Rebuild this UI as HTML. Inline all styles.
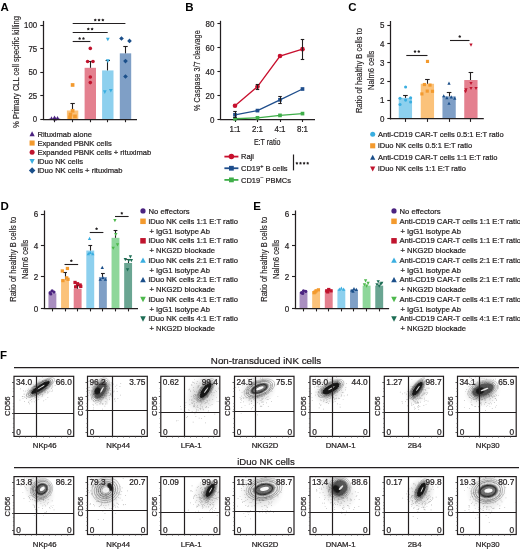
<!DOCTYPE html>
<html><head><meta charset="utf-8"><style>
html,body{margin:0;padding:0;background:#fff;overflow:hidden;}
svg{display:block;font-family:"Liberation Sans", sans-serif;will-change:transform;}
</style></head><body>
<svg width="520" height="550" viewBox="0 0 520 550">
<rect width="520" height="550" fill="#fff"/>
<text transform="translate(0.40 10.80)" font-size="11.5" text-anchor="start" font-weight="bold" fill="#000">A</text>
<rect x="48.80" y="118.45" width="11.40" height="0.75" fill="#a98ec0"/>
<rect x="66.90" y="110.48" width="11.40" height="8.72" fill="#fbc27a"/>
<rect x="84.60" y="67.80" width="11.40" height="51.40" fill="#e4808f"/>
<rect x="102.10" y="70.42" width="11.40" height="48.78" fill="#8dd0ee"/>
<rect x="119.80" y="53.35" width="11.40" height="65.85" fill="#7f9fc6"/>
<line x1="72.50" y1="110.48" x2="72.50" y2="103.72" stroke="#231f20" stroke-width="1.1"/>
<line x1="70.40" y1="103.50" x2="74.80" y2="103.50" stroke="#231f20" stroke-width="1.1"/>
<line x1="90.50" y1="67.80" x2="90.50" y2="61.51" stroke="#231f20" stroke-width="1.1"/>
<line x1="88.10" y1="61.50" x2="92.50" y2="61.50" stroke="#231f20" stroke-width="1.1"/>
<line x1="107.50" y1="70.42" x2="107.50" y2="60.11" stroke="#231f20" stroke-width="1.1"/>
<line x1="105.60" y1="60.50" x2="110.00" y2="60.50" stroke="#231f20" stroke-width="1.1"/>
<line x1="125.50" y1="53.35" x2="125.50" y2="46.04" stroke="#231f20" stroke-width="1.1"/>
<line x1="123.30" y1="46.50" x2="127.70" y2="46.50" stroke="#231f20" stroke-width="1.1"/>
<polygon points="51.50,116.37 49.61,119.97 53.39,119.97" fill="#4b2380"/>
<polygon points="54.50,115.43 52.61,119.03 56.39,119.03" fill="#4b2380"/>
<polygon points="57.50,115.90 55.61,119.50 59.39,119.50" fill="#4b2380"/>
<polygon points="55.00,116.84 53.11,120.44 56.89,120.44" fill="#4b2380"/>
<rect x="70.76" y="83.13" width="3.67" height="3.67" fill="#f39a2e"/>
<rect x="68.16" y="115.49" width="3.67" height="3.67" fill="#f39a2e"/>
<rect x="73.16" y="114.55" width="3.67" height="3.67" fill="#f39a2e"/>
<rect x="70.76" y="108.92" width="3.67" height="3.67" fill="#f39a2e"/>
<rect x="68.66" y="112.67" width="3.67" height="3.67" fill="#f39a2e"/>
<circle cx="90.30" cy="48.38" r="1.80" fill="#c0142e"/>
<circle cx="87.60" cy="61.51" r="1.80" fill="#c0142e"/>
<circle cx="93.00" cy="61.51" r="1.80" fill="#c0142e"/>
<circle cx="90.30" cy="76.99" r="1.80" fill="#c0142e"/>
<circle cx="90.30" cy="82.62" r="1.80" fill="#c0142e"/>
<polygon points="107.80,41.36 105.91,37.76 109.69,37.76" fill="#3aaee0"/>
<polygon points="107.80,62.93 105.91,59.33 109.69,59.33" fill="#3aaee0"/>
<polygon points="104.80,93.89 102.91,90.29 106.69,90.29" fill="#3aaee0"/>
<polygon points="110.80,92.48 108.91,88.88 112.69,88.88" fill="#3aaee0"/>
<polygon points="121.50,36.19 123.84,38.53 121.50,40.87 119.16,38.53" fill="#1b4f8a"/>
<polygon points="129.50,38.54 131.84,40.88 129.50,43.22 127.16,40.88" fill="#1b4f8a"/>
<polygon points="125.50,58.70 127.84,61.04 125.50,63.38 123.16,61.04" fill="#1b4f8a"/>
<polygon points="125.50,74.18 127.84,76.52 125.50,78.86 123.16,76.52" fill="#1b4f8a"/>
<line x1="43.50" y1="20.90" x2="43.50" y2="119.70" stroke="#231f20" stroke-width="1.25"/>
<line x1="43.00" y1="119.50" x2="137.00" y2="119.50" stroke="#231f20" stroke-width="1.25"/>
<line x1="40.30" y1="119.50" x2="43.60" y2="119.50" stroke="#231f20" stroke-width="1.1"/>
<text transform="translate(37.10 122.20) scale(0.9 1)" font-size="8.7" text-anchor="end" fill="#231f20" stroke="#231f20" stroke-width="0.22">0</text>
<line x1="40.30" y1="95.50" x2="43.60" y2="95.50" stroke="#231f20" stroke-width="1.1"/>
<text transform="translate(37.10 98.75) scale(0.9 1)" font-size="8.7" text-anchor="end" fill="#231f20" stroke="#231f20" stroke-width="0.22">25</text>
<line x1="40.30" y1="72.50" x2="43.60" y2="72.50" stroke="#231f20" stroke-width="1.1"/>
<text transform="translate(37.10 75.30) scale(0.9 1)" font-size="8.7" text-anchor="end" fill="#231f20" stroke="#231f20" stroke-width="0.22">50</text>
<line x1="40.30" y1="48.50" x2="43.60" y2="48.50" stroke="#231f20" stroke-width="1.1"/>
<text transform="translate(37.10 51.85) scale(0.9 1)" font-size="8.7" text-anchor="end" fill="#231f20" stroke="#231f20" stroke-width="0.22">75</text>
<line x1="40.30" y1="25.50" x2="43.60" y2="25.50" stroke="#231f20" stroke-width="1.1"/>
<text transform="translate(37.10 28.40) scale(0.9 1)" font-size="8.7" text-anchor="end" fill="#231f20" stroke="#231f20" stroke-width="0.22">100</text>
<line x1="54.50" y1="119.20" x2="54.50" y2="122.20" stroke="#231f20" stroke-width="1.1"/>
<line x1="72.50" y1="119.20" x2="72.50" y2="122.20" stroke="#231f20" stroke-width="1.1"/>
<line x1="90.50" y1="119.20" x2="90.50" y2="122.20" stroke="#231f20" stroke-width="1.1"/>
<line x1="107.50" y1="119.20" x2="107.50" y2="122.20" stroke="#231f20" stroke-width="1.1"/>
<line x1="125.50" y1="119.20" x2="125.50" y2="122.20" stroke="#231f20" stroke-width="1.1"/>
<line x1="72.70" y1="23.50" x2="125.40" y2="23.50" stroke="#231f20" stroke-width="1.1"/>
<polygon points="95.25,18.55 94.69,19.32 93.78,19.62 94.34,20.40 94.34,21.35 95.25,21.06 96.16,21.35 96.16,20.40 96.72,19.62 95.81,19.32" fill="#231f20"/>
<polygon points="99.05,18.55 98.49,19.32 97.58,19.62 98.14,20.40 98.14,21.35 99.05,21.06 99.96,21.35 99.96,20.40 100.52,19.62 99.61,19.32" fill="#231f20"/>
<polygon points="102.85,18.55 102.29,19.32 101.38,19.62 101.94,20.40 101.94,21.35 102.85,21.06 103.76,21.35 103.76,20.40 104.32,19.62 103.41,19.32" fill="#231f20"/>
<line x1="72.70" y1="32.50" x2="107.70" y2="32.50" stroke="#231f20" stroke-width="1.1"/>
<polygon points="88.30,27.55 87.74,28.32 86.83,28.62 87.39,29.40 87.39,30.35 88.30,30.06 89.21,30.35 89.21,29.40 89.77,28.62 88.86,28.32" fill="#231f20"/>
<polygon points="92.10,27.55 91.54,28.32 90.63,28.62 91.19,29.40 91.19,30.35 92.10,30.06 93.01,30.35 93.01,29.40 93.57,28.62 92.66,28.32" fill="#231f20"/>
<line x1="72.70" y1="41.50" x2="90.40" y2="41.50" stroke="#231f20" stroke-width="1.1"/>
<polygon points="79.65,36.95 79.09,37.72 78.18,38.02 78.74,38.80 78.74,39.75 79.65,39.46 80.56,39.75 80.56,38.80 81.12,38.02 80.21,37.72" fill="#231f20"/>
<polygon points="83.45,36.95 82.89,37.72 81.98,38.02 82.54,38.80 82.54,39.75 83.45,39.46 84.36,39.75 84.36,38.80 84.92,38.02 84.01,37.72" fill="#231f20"/>
<text transform="translate(18.60 127.90) rotate(-90)" font-size="9.5" text-anchor="start" fill="#231f20" stroke="#231f20" stroke-width="0.16" textLength="111.80" lengthAdjust="spacingAndGlyphs">% Primary CLL cell specific killing</text>
<polygon points="32.10,131.28 29.48,136.28 34.73,136.28" fill="#4b2380"/>
<text transform="translate(37.40 136.50)" font-size="7.6" text-anchor="start" fill="#231f20" stroke="#231f20" stroke-width="0.22">Rituximab alone</text>
<rect x="29.55" y="140.50" width="5.10" height="5.10" fill="#f39a2e"/>
<text transform="translate(37.40 145.65)" font-size="7.6" text-anchor="start" fill="#231f20" stroke="#231f20" stroke-width="0.22">Expanded PBNK cells</text>
<circle cx="32.10" cy="152.20" r="2.50" fill="#c0142e"/>
<text transform="translate(37.40 154.80)" font-size="7.6" text-anchor="start" fill="#231f20" stroke="#231f20" stroke-width="0.22">Expanded PBNK cells + rituximab</text>
<polygon points="32.10,163.98 29.48,158.98 34.73,158.98" fill="#3aaee0"/>
<text transform="translate(37.40 163.95)" font-size="7.6" text-anchor="start" fill="#231f20" stroke="#231f20" stroke-width="0.22">iDuo NK cells</text>
<polygon points="32.10,167.25 35.35,170.50 32.10,173.75 28.85,170.50" fill="#1b4f8a"/>
<text transform="translate(37.40 173.10)" font-size="7.6" text-anchor="start" fill="#231f20" stroke="#231f20" stroke-width="0.22">iDuo NK cells + rituximab</text>
<text transform="translate(185.30 10.80)" font-size="11.5" text-anchor="start" font-weight="bold" fill="#000">B</text>
<line x1="220.50" y1="20.80" x2="220.50" y2="119.50" stroke="#231f20" stroke-width="1.25"/>
<line x1="220.10" y1="119.50" x2="315.00" y2="119.50" stroke="#231f20" stroke-width="1.25"/>
<line x1="217.40" y1="119.50" x2="220.70" y2="119.50" stroke="#231f20" stroke-width="1.1"/>
<text transform="translate(214.40 122.70) scale(0.93 1)" font-size="8.6" text-anchor="end" fill="#231f20" stroke="#231f20" stroke-width="0.22">0</text>
<line x1="217.40" y1="95.50" x2="220.70" y2="95.50" stroke="#231f20" stroke-width="1.1"/>
<text transform="translate(214.40 98.70) scale(0.93 1)" font-size="8.6" text-anchor="end" fill="#231f20" stroke="#231f20" stroke-width="0.22">20</text>
<line x1="217.40" y1="71.50" x2="220.70" y2="71.50" stroke="#231f20" stroke-width="1.1"/>
<text transform="translate(214.40 74.70) scale(0.93 1)" font-size="8.6" text-anchor="end" fill="#231f20" stroke="#231f20" stroke-width="0.22">40</text>
<line x1="217.40" y1="47.50" x2="220.70" y2="47.50" stroke="#231f20" stroke-width="1.1"/>
<text transform="translate(214.40 50.70) scale(0.93 1)" font-size="8.6" text-anchor="end" fill="#231f20" stroke="#231f20" stroke-width="0.22">60</text>
<line x1="217.40" y1="23.50" x2="220.70" y2="23.50" stroke="#231f20" stroke-width="1.1"/>
<text transform="translate(214.40 26.70) scale(0.93 1)" font-size="8.6" text-anchor="end" fill="#231f20" stroke="#231f20" stroke-width="0.22">80</text>
<line x1="235.50" y1="119.00" x2="235.50" y2="122.00" stroke="#231f20" stroke-width="1.1"/>
<text transform="translate(235.00 131.90) scale(0.97 1)" font-size="8.2" text-anchor="middle" fill="#231f20" stroke="#231f20" stroke-width="0.22">1:1</text>
<line x1="257.50" y1="119.00" x2="257.50" y2="122.00" stroke="#231f20" stroke-width="1.1"/>
<text transform="translate(257.50 131.90) scale(0.97 1)" font-size="8.2" text-anchor="middle" fill="#231f20" stroke="#231f20" stroke-width="0.22">2:1</text>
<line x1="280.50" y1="119.00" x2="280.50" y2="122.00" stroke="#231f20" stroke-width="1.1"/>
<text transform="translate(280.00 131.90) scale(0.97 1)" font-size="8.2" text-anchor="middle" fill="#231f20" stroke="#231f20" stroke-width="0.22">4:1</text>
<line x1="302.50" y1="119.00" x2="302.50" y2="122.00" stroke="#231f20" stroke-width="1.1"/>
<text transform="translate(302.50 131.90) scale(0.97 1)" font-size="8.2" text-anchor="middle" fill="#231f20" stroke="#231f20" stroke-width="0.22">8:1</text>
<text transform="translate(267.20 144.50)" font-size="9.3" text-anchor="middle" fill="#231f20" stroke="#231f20" stroke-width="0.22" textLength="26.60" lengthAdjust="spacingAndGlyphs">E:T ratio</text>
<text transform="translate(200.10 110.90) rotate(-90)" font-size="9.5" text-anchor="start" fill="#231f20" stroke="#231f20" stroke-width="0.16" textLength="80.60" lengthAdjust="spacingAndGlyphs">% Caspase 3/7 cleavage</text>
<polyline points="235,105.80 257.5,86.60 280,56.00 302.5,49.16" fill="none" stroke="#c8102e" stroke-width="1.35"/>
<polyline points="235,114.80 257.5,110.60 280,99.80 302.5,89.00" fill="none" stroke="#1f4e8c" stroke-width="1.35"/>
<polyline points="235,118.76 257.5,117.80 280,115.40 302.5,113.60" fill="none" stroke="#3fae49" stroke-width="1.35"/>
<circle cx="235.00" cy="105.80" r="2.30" fill="#c8102e"/>
<circle cx="257.50" cy="86.60" r="2.30" fill="#c8102e"/>
<circle cx="280.00" cy="56.00" r="2.30" fill="#c8102e"/>
<circle cx="302.50" cy="49.16" r="2.30" fill="#c8102e"/>
<rect x="233.16" y="112.96" width="3.67" height="3.67" fill="#1f4e8c"/>
<rect x="255.66" y="108.76" width="3.67" height="3.67" fill="#1f4e8c"/>
<rect x="278.16" y="97.96" width="3.67" height="3.67" fill="#1f4e8c"/>
<rect x="300.66" y="87.16" width="3.67" height="3.67" fill="#1f4e8c"/>
<rect x="233.16" y="116.92" width="3.67" height="3.67" fill="#3fae49"/>
<rect x="255.66" y="115.96" width="3.67" height="3.67" fill="#3fae49"/>
<rect x="278.16" y="113.56" width="3.67" height="3.67" fill="#3fae49"/>
<rect x="300.66" y="111.76" width="3.67" height="3.67" fill="#3fae49"/>
<line x1="257.50" y1="84.20" x2="257.50" y2="89.00" stroke="#231f20" stroke-width="1.1"/>
<line x1="255.75" y1="84.50" x2="259.25" y2="84.50" stroke="#231f20" stroke-width="1.1"/>
<line x1="255.75" y1="89.50" x2="259.25" y2="89.50" stroke="#231f20" stroke-width="1.1"/>
<line x1="302.50" y1="39.32" x2="302.50" y2="59.72" stroke="#231f20" stroke-width="1.1"/>
<line x1="300.75" y1="39.50" x2="304.25" y2="39.50" stroke="#231f20" stroke-width="1.1"/>
<line x1="300.75" y1="59.50" x2="304.25" y2="59.50" stroke="#231f20" stroke-width="1.1"/>
<line x1="280.50" y1="96.20" x2="280.50" y2="103.40" stroke="#231f20" stroke-width="1.1"/>
<line x1="278.25" y1="96.50" x2="281.75" y2="96.50" stroke="#231f20" stroke-width="1.1"/>
<line x1="278.25" y1="103.50" x2="281.75" y2="103.50" stroke="#231f20" stroke-width="1.1"/>
<line x1="235.50" y1="111.80" x2="235.50" y2="117.80" stroke="#231f20" stroke-width="1.1"/>
<line x1="233.25" y1="111.50" x2="236.75" y2="111.50" stroke="#231f20" stroke-width="1.1"/>
<line x1="233.25" y1="117.50" x2="236.75" y2="117.50" stroke="#231f20" stroke-width="1.1"/>
<line x1="224.40" y1="156.60" x2="238.40" y2="156.60" stroke="#c8102e" stroke-width="1.8"/>
<circle cx="231.40" cy="156.60" r="2.75" fill="#c8102e"/>
<text transform="translate(241.00 159.30)" font-size="7.5" text-anchor="start" fill="#231f20" stroke="#231f20" stroke-width="0.22">Raji</text>
<line x1="224.40" y1="168.25" x2="238.40" y2="168.25" stroke="#1f4e8c" stroke-width="1.8"/>
<rect x="229.00" y="165.85" width="4.79" height="4.79" fill="#1f4e8c"/>
<text transform="translate(241.00 170.95)" font-size="7.5" text-anchor="start" fill="#231f20" stroke="#231f20" stroke-width="0.22">CD19<tspan font-size="5.5" dy="-3.2">+</tspan><tspan dy="3.2"> B cells</tspan></text>
<line x1="224.40" y1="179.90" x2="238.40" y2="179.90" stroke="#3fae49" stroke-width="1.8"/>
<rect x="229.00" y="177.50" width="4.79" height="4.79" fill="#3fae49"/>
<text transform="translate(241.00 182.60)" font-size="7.5" text-anchor="start" fill="#231f20" stroke="#231f20" stroke-width="0.22">CD19<tspan font-size="5.5" dy="-3.2">−</tspan><tspan dy="3.2"> PBMCs</tspan></text>
<line x1="293.50" y1="154.50" x2="293.50" y2="170.40" stroke="#231f20" stroke-width="1.2"/>
<polygon points="296.90,161.65 296.34,162.42 295.43,162.72 295.99,163.50 295.99,164.45 296.90,164.16 297.81,164.45 297.81,163.50 298.37,162.72 297.46,162.42" fill="#231f20"/>
<polygon points="300.50,161.65 299.94,162.42 299.03,162.72 299.59,163.50 299.59,164.45 300.50,164.16 301.41,164.45 301.41,163.50 301.97,162.72 301.06,162.42" fill="#231f20"/>
<polygon points="304.10,161.65 303.54,162.42 302.63,162.72 303.19,163.50 303.19,164.45 304.10,164.16 305.01,164.45 305.01,163.50 305.57,162.72 304.66,162.42" fill="#231f20"/>
<polygon points="307.70,161.65 307.14,162.42 306.23,162.72 306.79,163.50 306.79,164.45 307.70,164.16 308.61,164.45 308.61,163.50 309.17,162.72 308.26,162.42" fill="#231f20"/>
<text transform="translate(348.30 10.80)" font-size="11.5" text-anchor="start" font-weight="bold" fill="#000">C</text>
<rect x="398.75" y="97.87" width="13.30" height="21.03" fill="#8dd0ee"/>
<rect x="420.75" y="83.78" width="13.30" height="35.12" fill="#fbc27a"/>
<rect x="442.45" y="96.36" width="13.30" height="22.54" fill="#7f9fc6"/>
<rect x="464.25" y="80.03" width="13.30" height="38.87" fill="#e4808f"/>
<line x1="405.50" y1="97.87" x2="405.50" y2="95.80" stroke="#231f20" stroke-width="1.1"/>
<line x1="403.10" y1="95.50" x2="407.70" y2="95.50" stroke="#231f20" stroke-width="1.1"/>
<line x1="427.50" y1="83.78" x2="427.50" y2="79.46" stroke="#231f20" stroke-width="1.1"/>
<line x1="425.10" y1="79.50" x2="429.70" y2="79.50" stroke="#231f20" stroke-width="1.1"/>
<line x1="449.50" y1="96.36" x2="449.50" y2="92.61" stroke="#231f20" stroke-width="1.1"/>
<line x1="446.80" y1="92.50" x2="451.40" y2="92.50" stroke="#231f20" stroke-width="1.1"/>
<line x1="470.50" y1="80.03" x2="470.50" y2="72.89" stroke="#231f20" stroke-width="1.1"/>
<line x1="468.60" y1="72.50" x2="473.20" y2="72.50" stroke="#231f20" stroke-width="1.1"/>
<circle cx="405.60" cy="86.97" r="1.55" fill="#3aaee0"/>
<circle cx="400.00" cy="98.24" r="1.55" fill="#3aaee0"/>
<circle cx="410.60" cy="97.68" r="1.55" fill="#3aaee0"/>
<circle cx="410.60" cy="102.00" r="1.55" fill="#3aaee0"/>
<circle cx="400.00" cy="104.44" r="1.55" fill="#3aaee0"/>
<circle cx="405.60" cy="100.12" r="1.55" fill="#3aaee0"/>
<rect x="425.92" y="59.85" width="3.16" height="3.16" fill="#f39a2e"/>
<rect x="422.82" y="82.95" width="3.16" height="3.16" fill="#f39a2e"/>
<rect x="428.42" y="83.52" width="3.16" height="3.16" fill="#f39a2e"/>
<rect x="420.32" y="92.34" width="3.16" height="3.16" fill="#f39a2e"/>
<rect x="425.67" y="89.52" width="3.16" height="3.16" fill="#f39a2e"/>
<rect x="430.92" y="89.71" width="3.16" height="3.16" fill="#f39a2e"/>
<polygon points="449.00,81.59 447.37,84.69 450.63,84.69" fill="#1b4f8a"/>
<polygon points="443.75,94.17 442.12,97.27 445.38,97.27" fill="#1b4f8a"/>
<polygon points="446.90,96.05 445.27,99.15 448.53,99.15" fill="#1b4f8a"/>
<polygon points="451.25,95.30 449.62,98.40 452.88,98.40" fill="#1b4f8a"/>
<polygon points="454.75,96.61 453.12,99.71 456.38,99.71" fill="#1b4f8a"/>
<polygon points="449.00,101.69 447.37,104.79 450.63,104.79" fill="#1b4f8a"/>
<polygon points="471.00,46.72 469.37,43.62 472.63,43.62" fill="#c0142e"/>
<polygon points="471.00,85.03 469.37,81.93 472.63,81.93" fill="#c0142e"/>
<polygon points="466.00,91.42 464.37,88.32 467.63,88.32" fill="#c0142e"/>
<polygon points="471.00,90.10 469.37,87.00 472.63,87.00" fill="#c0142e"/>
<polygon points="476.00,90.10 474.37,87.00 477.63,87.00" fill="#c0142e"/>
<polygon points="465.50,93.30 463.87,90.20 467.13,90.20" fill="#c0142e"/>
<line x1="390.50" y1="21.00" x2="390.50" y2="119.40" stroke="#231f20" stroke-width="1.25"/>
<line x1="390.00" y1="118.50" x2="483.80" y2="118.50" stroke="#231f20" stroke-width="1.25"/>
<line x1="387.30" y1="118.50" x2="390.60" y2="118.50" stroke="#231f20" stroke-width="1.1"/>
<text transform="translate(384.40 121.90) scale(0.95 1)" font-size="8.4" text-anchor="end" fill="#231f20" stroke="#231f20" stroke-width="0.22">0</text>
<line x1="387.30" y1="100.50" x2="390.60" y2="100.50" stroke="#231f20" stroke-width="1.1"/>
<text transform="translate(384.40 103.12) scale(0.95 1)" font-size="8.4" text-anchor="end" fill="#231f20" stroke="#231f20" stroke-width="0.22">1</text>
<line x1="387.30" y1="81.50" x2="390.60" y2="81.50" stroke="#231f20" stroke-width="1.1"/>
<text transform="translate(384.40 84.34) scale(0.95 1)" font-size="8.4" text-anchor="end" fill="#231f20" stroke="#231f20" stroke-width="0.22">2</text>
<line x1="387.30" y1="62.50" x2="390.60" y2="62.50" stroke="#231f20" stroke-width="1.1"/>
<text transform="translate(384.40 65.56) scale(0.95 1)" font-size="8.4" text-anchor="end" fill="#231f20" stroke="#231f20" stroke-width="0.22">3</text>
<line x1="387.30" y1="43.50" x2="390.60" y2="43.50" stroke="#231f20" stroke-width="1.1"/>
<text transform="translate(384.40 46.78) scale(0.95 1)" font-size="8.4" text-anchor="end" fill="#231f20" stroke="#231f20" stroke-width="0.22">4</text>
<line x1="387.30" y1="25.50" x2="390.60" y2="25.50" stroke="#231f20" stroke-width="1.1"/>
<text transform="translate(384.40 28.00) scale(0.95 1)" font-size="8.4" text-anchor="end" fill="#231f20" stroke="#231f20" stroke-width="0.22">5</text>
<line x1="405.50" y1="118.90" x2="405.50" y2="121.90" stroke="#231f20" stroke-width="1.1"/>
<line x1="427.50" y1="118.90" x2="427.50" y2="121.90" stroke="#231f20" stroke-width="1.1"/>
<line x1="449.50" y1="118.90" x2="449.50" y2="121.90" stroke="#231f20" stroke-width="1.1"/>
<line x1="470.50" y1="118.90" x2="470.50" y2="121.90" stroke="#231f20" stroke-width="1.1"/>
<line x1="406.30" y1="55.50" x2="427.50" y2="55.50" stroke="#231f20" stroke-width="1.1"/>
<polygon points="415.00,50.05 414.44,50.82 413.53,51.12 414.09,51.90 414.09,52.85 415.00,52.56 415.91,52.85 415.91,51.90 416.47,51.12 415.56,50.82" fill="#231f20"/>
<polygon points="418.80,50.05 418.24,50.82 417.33,51.12 417.89,51.90 417.89,52.85 418.80,52.56 419.71,52.85 419.71,51.90 420.27,51.12 419.36,50.82" fill="#231f20"/>
<line x1="450.00" y1="40.50" x2="469.50" y2="40.50" stroke="#231f20" stroke-width="1.1"/>
<polygon points="459.75,35.05 459.19,35.82 458.28,36.12 458.84,36.90 458.84,37.85 459.75,37.56 460.66,37.85 460.66,36.90 461.22,36.12 460.31,35.82" fill="#231f20"/>
<text transform="translate(361.60 70.60) rotate(-90)" font-size="9.5" text-anchor="middle" fill="#231f20" stroke="#231f20" stroke-width="0.16" textLength="85.00" lengthAdjust="spacingAndGlyphs">Ratio of healthy B cells to</text>
<text transform="translate(373.90 70.30) rotate(-90)" font-size="9.5" text-anchor="middle" fill="#231f20" stroke="#231f20" stroke-width="0.16" textLength="39.40" lengthAdjust="spacingAndGlyphs">Nalm6 cells</text>
<circle cx="372.70" cy="134.30" r="2.50" fill="#3aaee0"/>
<text transform="translate(378.10 136.90)" font-size="7.5" text-anchor="start" fill="#231f20" stroke="#231f20" stroke-width="0.22">Anti-CD19 CAR-T cells 0.5:1 E:T ratio</text>
<rect x="370.15" y="143.25" width="5.10" height="5.10" fill="#f39a2e"/>
<text transform="translate(378.10 148.40)" font-size="7.5" text-anchor="start" fill="#231f20" stroke="#231f20" stroke-width="0.22">iDuo NK cells 0.5:1 E:T ratio</text>
<polygon points="372.70,154.68 370.07,159.68 375.32,159.68" fill="#1b4f8a"/>
<text transform="translate(378.10 159.90)" font-size="7.5" text-anchor="start" fill="#231f20" stroke="#231f20" stroke-width="0.22">Anti-CD19 CAR-T cells 1:1 E:T ratio</text>
<polygon points="372.70,171.43 370.07,166.43 375.32,166.43" fill="#c0142e"/>
<text transform="translate(378.10 171.40)" font-size="7.5" text-anchor="start" fill="#231f20" stroke="#231f20" stroke-width="0.22">iDuo NK cells 1:1 E:T ratio</text>
<text transform="translate(0.60 210.00)" font-size="11.5" text-anchor="start" font-weight="bold" fill="#000">D</text>
<rect x="48.45" y="293.31" width="7.90" height="15.09" fill="#a98ec0"/>
<rect x="61.07" y="279.32" width="7.90" height="29.08" fill="#fbc27a"/>
<rect x="73.69" y="288.75" width="7.90" height="19.65" fill="#e4808f"/>
<rect x="86.31" y="250.55" width="7.90" height="57.85" fill="#8dd0ee"/>
<rect x="98.93" y="276.96" width="7.90" height="31.44" fill="#7f9fc6"/>
<rect x="111.55" y="237.82" width="7.90" height="70.58" fill="#8ed79a"/>
<rect x="124.17" y="262.97" width="7.90" height="45.43" fill="#6aa592"/>
<line x1="65.50" y1="279.32" x2="65.50" y2="272.24" stroke="#231f20" stroke-width="1.1"/>
<line x1="63.12" y1="272.50" x2="66.92" y2="272.50" stroke="#231f20" stroke-width="1.1"/>
<line x1="77.50" y1="288.75" x2="77.50" y2="285.61" stroke="#231f20" stroke-width="1.1"/>
<line x1="75.74" y1="285.50" x2="79.54" y2="285.50" stroke="#231f20" stroke-width="1.1"/>
<line x1="90.50" y1="250.55" x2="90.50" y2="245.99" stroke="#231f20" stroke-width="1.1"/>
<line x1="88.36" y1="245.50" x2="92.16" y2="245.50" stroke="#231f20" stroke-width="1.1"/>
<line x1="102.50" y1="276.96" x2="102.50" y2="273.34" stroke="#231f20" stroke-width="1.1"/>
<line x1="100.98" y1="273.50" x2="104.78" y2="273.50" stroke="#231f20" stroke-width="1.1"/>
<line x1="115.50" y1="237.82" x2="115.50" y2="230.90" stroke="#231f20" stroke-width="1.1"/>
<line x1="113.60" y1="230.50" x2="117.40" y2="230.50" stroke="#231f20" stroke-width="1.1"/>
<line x1="128.50" y1="262.97" x2="128.50" y2="259.98" stroke="#231f20" stroke-width="1.1"/>
<line x1="126.22" y1="259.50" x2="130.02" y2="259.50" stroke="#231f20" stroke-width="1.1"/>
<circle cx="50.10" cy="292.68" r="1.60" fill="#4b2380"/>
<circle cx="52.10" cy="290.79" r="1.60" fill="#4b2380"/>
<circle cx="54.00" cy="292.05" r="1.60" fill="#4b2380"/>
<circle cx="50.80" cy="293.94" r="1.60" fill="#4b2380"/>
<rect x="60.69" y="269.35" width="3.26" height="3.26" fill="#f39a2e"/>
<rect x="65.79" y="266.84" width="3.26" height="3.26" fill="#f39a2e"/>
<rect x="61.29" y="278.94" width="3.26" height="3.26" fill="#f39a2e"/>
<rect x="65.09" y="276.27" width="3.26" height="3.26" fill="#f39a2e"/>
<rect x="66.39" y="277.69" width="3.26" height="3.26" fill="#f39a2e"/>
<rect x="73.41" y="280.83" width="3.26" height="3.26" fill="#c0142e"/>
<rect x="75.91" y="282.09" width="3.26" height="3.26" fill="#c0142e"/>
<rect x="78.51" y="283.35" width="3.26" height="3.26" fill="#c0142e"/>
<rect x="74.01" y="285.23" width="3.26" height="3.26" fill="#c0142e"/>
<rect x="79.11" y="284.76" width="3.26" height="3.26" fill="#c0142e"/>
<polygon points="89.56,236.77 87.88,239.97 91.24,239.97" fill="#3aaee0"/>
<polygon points="88.36,252.01 86.68,255.21 90.04,255.21" fill="#3aaee0"/>
<polygon points="92.76,252.01 91.08,255.21 94.44,255.21" fill="#3aaee0"/>
<polygon points="90.26,250.76 88.58,253.96 91.94,253.96" fill="#3aaee0"/>
<polygon points="102.28,265.69 100.60,268.89 103.96,268.89" fill="#1b4f8a"/>
<polygon points="100.28,277.64 98.60,280.84 101.96,280.84" fill="#1b4f8a"/>
<polygon points="102.88,275.91 101.20,279.11 104.56,279.11" fill="#1b4f8a"/>
<polygon points="105.38,277.64 103.70,280.84 107.06,280.84" fill="#1b4f8a"/>
<polygon points="114.90,222.21 113.22,219.01 116.58,219.01" fill="#4db84c"/>
<polygon points="113.20,249.87 111.52,246.67 114.88,246.67" fill="#4db84c"/>
<polygon points="117.50,246.57 115.82,243.37 119.18,243.37" fill="#4db84c"/>
<polygon points="115.80,236.20 114.12,233.00 117.48,233.00" fill="#4db84c"/>
<polygon points="130.42,258.52 128.74,255.32 132.10,255.32" fill="#1e6e55"/>
<polygon points="125.32,261.19 123.64,257.99 127.00,257.99" fill="#1e6e55"/>
<polygon points="128.72,262.13 127.04,258.93 130.40,258.93" fill="#1e6e55"/>
<polygon points="131.32,262.13 129.64,258.93 133.00,258.93" fill="#1e6e55"/>
<polygon points="127.52,271.57 125.84,268.37 129.20,268.37" fill="#1e6e55"/>
<line x1="44.50" y1="210.50" x2="44.50" y2="308.90" stroke="#231f20" stroke-width="1.25"/>
<line x1="43.60" y1="308.50" x2="138.00" y2="308.50" stroke="#231f20" stroke-width="1.25"/>
<line x1="40.90" y1="308.50" x2="44.20" y2="308.50" stroke="#231f20" stroke-width="1.1"/>
<text transform="translate(38.20 311.75) scale(0.93 1)" font-size="8.7" text-anchor="end" fill="#231f20" stroke="#231f20" stroke-width="0.22">0</text>
<line x1="40.90" y1="276.50" x2="44.20" y2="276.50" stroke="#231f20" stroke-width="1.1"/>
<text transform="translate(38.20 280.31) scale(0.93 1)" font-size="8.7" text-anchor="end" fill="#231f20" stroke="#231f20" stroke-width="0.22">2</text>
<line x1="40.90" y1="245.50" x2="44.20" y2="245.50" stroke="#231f20" stroke-width="1.1"/>
<text transform="translate(38.20 248.87) scale(0.93 1)" font-size="8.7" text-anchor="end" fill="#231f20" stroke="#231f20" stroke-width="0.22">4</text>
<line x1="40.90" y1="214.50" x2="44.20" y2="214.50" stroke="#231f20" stroke-width="1.1"/>
<text transform="translate(38.20 217.43) scale(0.93 1)" font-size="8.7" text-anchor="end" fill="#231f20" stroke="#231f20" stroke-width="0.22">6</text>
<line x1="52.50" y1="308.40" x2="52.50" y2="311.40" stroke="#231f20" stroke-width="1.1"/>
<line x1="65.50" y1="308.40" x2="65.50" y2="311.40" stroke="#231f20" stroke-width="1.1"/>
<line x1="77.50" y1="308.40" x2="77.50" y2="311.40" stroke="#231f20" stroke-width="1.1"/>
<line x1="90.50" y1="308.40" x2="90.50" y2="311.40" stroke="#231f20" stroke-width="1.1"/>
<line x1="102.50" y1="308.40" x2="102.50" y2="311.40" stroke="#231f20" stroke-width="1.1"/>
<line x1="115.50" y1="308.40" x2="115.50" y2="311.40" stroke="#231f20" stroke-width="1.1"/>
<line x1="128.50" y1="308.40" x2="128.50" y2="311.40" stroke="#231f20" stroke-width="1.1"/>
<line x1="64.52" y1="264.50" x2="78.14" y2="264.50" stroke="#231f20" stroke-width="1.1"/>
<polygon points="71.33,259.15 70.77,259.92 69.86,260.22 70.42,261.00 70.42,261.95 71.33,261.66 72.24,261.95 72.24,261.00 72.80,260.22 71.89,259.92" fill="#231f20"/>
<line x1="89.76" y1="232.50" x2="103.38" y2="232.50" stroke="#231f20" stroke-width="1.1"/>
<polygon points="96.57,227.25 96.01,228.02 95.10,228.32 95.66,229.10 95.66,230.05 96.57,229.76 97.48,230.05 97.48,229.10 98.04,228.32 97.13,228.02" fill="#231f20"/>
<line x1="115.00" y1="216.50" x2="128.62" y2="216.50" stroke="#231f20" stroke-width="1.1"/>
<polygon points="121.81,211.75 121.25,212.52 120.34,212.82 120.90,213.60 120.90,214.55 121.81,214.26 122.72,214.55 122.72,213.60 123.28,212.82 122.37,212.52" fill="#231f20"/>
<text transform="translate(16.20 259.30) rotate(-90)" font-size="9.5" text-anchor="middle" fill="#231f20" stroke="#231f20" stroke-width="0.16" textLength="85.00" lengthAdjust="spacingAndGlyphs">Ratio of healthy B cells to</text>
<text transform="translate(27.90 259.30) rotate(-90)" font-size="9.5" text-anchor="middle" fill="#231f20" stroke="#231f20" stroke-width="0.16" textLength="39.40" lengthAdjust="spacingAndGlyphs">Nalm6 cells</text>
<circle cx="143.00" cy="210.90" r="2.60" fill="#4b2380"/>
<text transform="translate(148.50 213.50)" font-size="7.65" text-anchor="start" fill="#231f20" stroke="#231f20" stroke-width="0.22">No effectors</text>
<rect x="140.25" y="218.55" width="5.51" height="5.51" fill="#f39a2e"/>
<text transform="translate(148.50 223.90)" font-size="7.65" text-anchor="start" fill="#231f20" stroke="#231f20" stroke-width="0.22">iDuo NK cells 1:1 E:T ratio</text>
<text transform="translate(149.40 233.65)" font-size="7.65" text-anchor="start" fill="#231f20" stroke="#231f20" stroke-width="0.22">+ IgG1 isotype Ab</text>
<rect x="140.25" y="238.05" width="5.51" height="5.51" fill="#c0142e"/>
<text transform="translate(148.50 243.40)" font-size="7.65" text-anchor="start" fill="#231f20" stroke="#231f20" stroke-width="0.22">iDuo NK cells 1:1 E:T ratio</text>
<text transform="translate(149.40 253.15)" font-size="7.65" text-anchor="start" fill="#231f20" stroke="#231f20" stroke-width="0.22">+ NKG2D blockade</text>
<polygon points="143.00,257.46 140.16,262.86 145.84,262.86" fill="#3aaee0"/>
<text transform="translate(148.50 262.90)" font-size="7.65" text-anchor="start" fill="#231f20" stroke="#231f20" stroke-width="0.22">iDuo NK cells 2:1 E:T ratio</text>
<text transform="translate(149.40 272.65)" font-size="7.65" text-anchor="start" fill="#231f20" stroke="#231f20" stroke-width="0.22">+ IgG1 isotype Ab</text>
<polygon points="143.00,276.96 140.16,282.36 145.84,282.36" fill="#1b4f8a"/>
<text transform="translate(148.50 282.40)" font-size="7.65" text-anchor="start" fill="#231f20" stroke="#231f20" stroke-width="0.22">iDuo NK cells 2:1 E:T ratio</text>
<text transform="translate(149.40 292.15)" font-size="7.65" text-anchor="start" fill="#231f20" stroke="#231f20" stroke-width="0.22">+ NKG2D blockade</text>
<polygon points="143.00,302.13 140.16,296.73 145.84,296.73" fill="#4db84c"/>
<text transform="translate(148.50 301.90)" font-size="7.65" text-anchor="start" fill="#231f20" stroke="#231f20" stroke-width="0.22">iDuo NK cells 4:1 E:T ratio</text>
<text transform="translate(149.40 311.65)" font-size="7.65" text-anchor="start" fill="#231f20" stroke="#231f20" stroke-width="0.22">+ IgG1 isotype Ab</text>
<polygon points="143.00,321.63 140.16,316.23 145.84,316.23" fill="#1e6e55"/>
<text transform="translate(148.50 321.40)" font-size="7.65" text-anchor="start" fill="#231f20" stroke="#231f20" stroke-width="0.22">iDuo NK cells 4:1 E:T ratio</text>
<text transform="translate(149.40 331.15)" font-size="7.65" text-anchor="start" fill="#231f20" stroke="#231f20" stroke-width="0.22">+ NKG2D blockade</text>
<text transform="translate(253.30 210.00)" font-size="11.5" text-anchor="start" font-weight="bold" fill="#000">E</text>
<rect x="299.55" y="292.21" width="7.90" height="16.19" fill="#a98ec0"/>
<rect x="312.17" y="291.11" width="7.90" height="17.29" fill="#fbc27a"/>
<rect x="324.79" y="290.32" width="7.90" height="18.08" fill="#e4808f"/>
<rect x="337.41" y="289.54" width="7.90" height="18.86" fill="#8dd0ee"/>
<rect x="350.03" y="289.54" width="7.90" height="18.86" fill="#7f9fc6"/>
<rect x="362.65" y="285.61" width="7.90" height="22.79" fill="#8ed79a"/>
<rect x="375.27" y="285.61" width="7.90" height="22.79" fill="#6aa592"/>
<circle cx="301.50" cy="292.68" r="1.60" fill="#4b2380"/>
<circle cx="303.50" cy="290.79" r="1.60" fill="#4b2380"/>
<circle cx="305.80" cy="291.42" r="1.60" fill="#4b2380"/>
<circle cx="302.70" cy="293.47" r="1.60" fill="#4b2380"/>
<rect x="312.49" y="291.05" width="3.26" height="3.26" fill="#f39a2e"/>
<rect x="314.49" y="289.16" width="3.26" height="3.26" fill="#f39a2e"/>
<rect x="316.79" y="288.22" width="3.26" height="3.26" fill="#f39a2e"/>
<rect x="313.49" y="290.26" width="3.26" height="3.26" fill="#f39a2e"/>
<rect x="325.11" y="289.16" width="3.26" height="3.26" fill="#c0142e"/>
<rect x="327.11" y="287.90" width="3.26" height="3.26" fill="#c0142e"/>
<rect x="329.41" y="289.16" width="3.26" height="3.26" fill="#c0142e"/>
<rect x="326.11" y="290.26" width="3.26" height="3.26" fill="#c0142e"/>
<polygon points="339.36,287.54 337.68,290.74 341.04,290.74" fill="#3aaee0"/>
<polygon points="341.36,286.60 339.68,289.80 343.04,289.80" fill="#3aaee0"/>
<polygon points="343.66,287.54 341.98,290.74 345.34,290.74" fill="#3aaee0"/>
<polygon points="351.98,288.64 350.30,291.84 353.66,291.84" fill="#1b4f8a"/>
<polygon points="353.98,287.07 352.30,290.27 355.66,290.27" fill="#1b4f8a"/>
<polygon points="356.28,287.86 354.60,291.06 357.96,291.06" fill="#1b4f8a"/>
<polygon points="352.98,289.43 351.30,292.63 354.66,292.63" fill="#1b4f8a"/>
<polygon points="364.40,286.50 362.72,283.30 366.08,283.30" fill="#4db84c"/>
<polygon points="366.60,287.76 364.92,284.56 368.28,284.56" fill="#4db84c"/>
<polygon points="368.10,284.93 366.42,281.73 369.78,281.73" fill="#4db84c"/>
<polygon points="365.60,282.57 363.92,279.37 367.28,279.37" fill="#4db84c"/>
<polygon points="377.02,286.50 375.34,283.30 378.70,283.30" fill="#1e6e55"/>
<polygon points="379.22,287.76 377.54,284.56 380.90,284.56" fill="#1e6e55"/>
<polygon points="380.72,285.71 379.04,282.51 382.40,282.51" fill="#1e6e55"/>
<polygon points="381.72,284.93 380.04,281.73 383.40,281.73" fill="#1e6e55"/>
<polygon points="378.22,283.36 376.54,280.16 379.90,280.16" fill="#1e6e55"/>
<line x1="295.50" y1="210.50" x2="295.50" y2="308.90" stroke="#231f20" stroke-width="1.25"/>
<line x1="294.70" y1="308.50" x2="389.10" y2="308.50" stroke="#231f20" stroke-width="1.25"/>
<line x1="292.00" y1="308.50" x2="295.30" y2="308.50" stroke="#231f20" stroke-width="1.1"/>
<text transform="translate(289.30 311.75) scale(0.93 1)" font-size="8.7" text-anchor="end" fill="#231f20" stroke="#231f20" stroke-width="0.22">0</text>
<line x1="292.00" y1="276.50" x2="295.30" y2="276.50" stroke="#231f20" stroke-width="1.1"/>
<text transform="translate(289.30 280.31) scale(0.93 1)" font-size="8.7" text-anchor="end" fill="#231f20" stroke="#231f20" stroke-width="0.22">2</text>
<line x1="292.00" y1="245.50" x2="295.30" y2="245.50" stroke="#231f20" stroke-width="1.1"/>
<text transform="translate(289.30 248.87) scale(0.93 1)" font-size="8.7" text-anchor="end" fill="#231f20" stroke="#231f20" stroke-width="0.22">4</text>
<line x1="292.00" y1="214.50" x2="295.30" y2="214.50" stroke="#231f20" stroke-width="1.1"/>
<text transform="translate(289.30 217.43) scale(0.93 1)" font-size="8.7" text-anchor="end" fill="#231f20" stroke="#231f20" stroke-width="0.22">6</text>
<line x1="303.50" y1="308.40" x2="303.50" y2="311.40" stroke="#231f20" stroke-width="1.1"/>
<line x1="316.50" y1="308.40" x2="316.50" y2="311.40" stroke="#231f20" stroke-width="1.1"/>
<line x1="328.50" y1="308.40" x2="328.50" y2="311.40" stroke="#231f20" stroke-width="1.1"/>
<line x1="341.50" y1="308.40" x2="341.50" y2="311.40" stroke="#231f20" stroke-width="1.1"/>
<line x1="353.50" y1="308.40" x2="353.50" y2="311.40" stroke="#231f20" stroke-width="1.1"/>
<line x1="366.50" y1="308.40" x2="366.50" y2="311.40" stroke="#231f20" stroke-width="1.1"/>
<line x1="379.50" y1="308.40" x2="379.50" y2="311.40" stroke="#231f20" stroke-width="1.1"/>
<text transform="translate(267.30 259.30) rotate(-90)" font-size="9.5" text-anchor="middle" fill="#231f20" stroke="#231f20" stroke-width="0.16" textLength="85.00" lengthAdjust="spacingAndGlyphs">Ratio of healthy B cells to</text>
<text transform="translate(279.00 259.30) rotate(-90)" font-size="9.5" text-anchor="middle" fill="#231f20" stroke="#231f20" stroke-width="0.16" textLength="39.40" lengthAdjust="spacingAndGlyphs">Nalm6 cells</text>
<circle cx="394.00" cy="210.90" r="2.60" fill="#4b2380"/>
<text transform="translate(399.50 213.50)" font-size="7.65" text-anchor="start" fill="#231f20" stroke="#231f20" stroke-width="0.22">No effectors</text>
<rect x="391.25" y="218.55" width="5.51" height="5.51" fill="#f39a2e"/>
<text transform="translate(399.50 223.90)" font-size="7.65" text-anchor="start" fill="#231f20" stroke="#231f20" stroke-width="0.22">Anti-CD19 CAR-T cells 1:1 E:T ratio</text>
<text transform="translate(400.40 233.65)" font-size="7.65" text-anchor="start" fill="#231f20" stroke="#231f20" stroke-width="0.22">+ IgG1 isotype Ab</text>
<rect x="391.25" y="238.05" width="5.51" height="5.51" fill="#c0142e"/>
<text transform="translate(399.50 243.40)" font-size="7.65" text-anchor="start" fill="#231f20" stroke="#231f20" stroke-width="0.22">Anti-CD19 CAR-T cells 1:1 E:T ratio</text>
<text transform="translate(400.40 253.15)" font-size="7.65" text-anchor="start" fill="#231f20" stroke="#231f20" stroke-width="0.22">+ NKG2D blockade</text>
<polygon points="394.00,257.46 391.17,262.86 396.83,262.86" fill="#3aaee0"/>
<text transform="translate(399.50 262.90)" font-size="7.65" text-anchor="start" fill="#231f20" stroke="#231f20" stroke-width="0.22">Anti-CD19 CAR-T cells 2:1 E:T ratio</text>
<text transform="translate(400.40 272.65)" font-size="7.65" text-anchor="start" fill="#231f20" stroke="#231f20" stroke-width="0.22">+ IgG1 isotype Ab</text>
<polygon points="394.00,276.96 391.17,282.36 396.83,282.36" fill="#1b4f8a"/>
<text transform="translate(399.50 282.40)" font-size="7.65" text-anchor="start" fill="#231f20" stroke="#231f20" stroke-width="0.22">Anti-CD19 CAR-T cells 2:1 E:T ratio</text>
<text transform="translate(400.40 292.15)" font-size="7.65" text-anchor="start" fill="#231f20" stroke="#231f20" stroke-width="0.22">+ NKG2D blockade</text>
<polygon points="394.00,302.13 391.17,296.73 396.83,296.73" fill="#4db84c"/>
<text transform="translate(399.50 301.90)" font-size="7.65" text-anchor="start" fill="#231f20" stroke="#231f20" stroke-width="0.22">Anti-CD19 CAR-T cells 4:1 E:T ratio</text>
<text transform="translate(400.40 311.65)" font-size="7.65" text-anchor="start" fill="#231f20" stroke="#231f20" stroke-width="0.22">+ IgG1 isotype Ab</text>
<polygon points="394.00,321.63 391.17,316.23 396.83,316.23" fill="#1e6e55"/>
<text transform="translate(399.50 321.40)" font-size="7.65" text-anchor="start" fill="#231f20" stroke="#231f20" stroke-width="0.22">Anti-CD19 CAR-T cells 4:1 E:T ratio</text>
<text transform="translate(400.40 331.15)" font-size="7.65" text-anchor="start" fill="#231f20" stroke="#231f20" stroke-width="0.22">+ NKG2D blockade</text>
<text transform="translate(0.00 358.80)" font-size="11.5" text-anchor="start" font-weight="bold" fill="#000">F</text>
<line x1="14.00" y1="367.50" x2="519.00" y2="367.50" stroke="#231f20" stroke-width="1.25"/>
<line x1="14.00" y1="467.50" x2="519.00" y2="467.50" stroke="#231f20" stroke-width="1.25"/>
<text transform="translate(266.00 364.20)" font-size="9.6" text-anchor="middle" fill="#231f20" stroke="#231f20" stroke-width="0.22" textLength="110.40" lengthAdjust="spacingAndGlyphs">Non-transduced iNK cells</text>
<text transform="translate(266.00 464.60)" font-size="9.6" text-anchor="middle" fill="#231f20" stroke="#231f20" stroke-width="0.22">iDuo NK cells</text>
<defs>
<radialGradient id="halo" cx="50%" cy="50%" r="50%">
<stop offset="0%" stop-color="#555" stop-opacity="0.8"/>
<stop offset="50%" stop-color="#888" stop-opacity="0.5"/>
<stop offset="100%" stop-color="#bbb" stop-opacity="0"/>
</radialGradient>
<filter id="bl"><feGaussianBlur stdDeviation="0.6"/></filter>
</defs>
<clipPath id="c14_376"><rect x="14" y="376.3" width="59.70" height="60.10"/></clipPath>
<g clip-path="url(#c14_376)">
<path d="M38.1 393.0h.7v.7h-.7zM36.3 389.8h.7v.7h-.7zM31.9 393.1h.7v.7h-.7zM46.8 386.9h.7v.7h-.7zM45.9 386.6h.7v.7h-.7zM41.5 389.0h.7v.7h-.7zM29.8 400.3h.7v.7h-.7zM43.0 389.7h.7v.7h-.7zM23.2 390.6h.7v.7h-.7zM31.6 392.0h.7v.7h-.7zM40.4 388.5h.7v.7h-.7zM40.3 385.4h.7v.7h-.7zM41.5 390.2h.7v.7h-.7zM38.4 399.3h.7v.7h-.7zM45.1 392.2h.7v.7h-.7zM32.7 389.8h.7v.7h-.7zM36.0 391.1h.7v.7h-.7zM43.2 388.3h.7v.7h-.7zM33.2 388.3h.7v.7h-.7zM38.1 396.8h.7v.7h-.7zM33.8 394.3h.7v.7h-.7zM37.6 382.6h.7v.7h-.7zM42.0 394.7h.7v.7h-.7zM24.6 397.3h.7v.7h-.7zM35.8 387.4h.7v.7h-.7zM41.6 387.7h.7v.7h-.7zM31.0 399.3h.7v.7h-.7zM45.2 390.7h.7v.7h-.7zM48.8 385.3h.7v.7h-.7zM36.1 384.6h.7v.7h-.7zM41.0 385.1h.7v.7h-.7zM32.5 387.1h.7v.7h-.7zM30.9 392.1h.7v.7h-.7zM41.9 376.9h.7v.7h-.7zM29.6 397.1h.7v.7h-.7zM49.3 386.1h.7v.7h-.7zM20.0 388.5h.7v.7h-.7zM39.0 385.7h.7v.7h-.7zM33.6 398.4h.7v.7h-.7zM46.0 385.9h.7v.7h-.7zM41.2 390.6h.7v.7h-.7zM50.4 385.6h.7v.7h-.7zM43.2 389.9h.7v.7h-.7zM31.5 401.5h.7v.7h-.7zM46.0 388.0h.7v.7h-.7zM24.1 395.9h.7v.7h-.7zM39.5 379.6h.7v.7h-.7zM39.8 394.6h.7v.7h-.7zM33.9 401.6h.7v.7h-.7zM41.7 387.1h.7v.7h-.7zM42.2 391.1h.7v.7h-.7zM42.1 393.8h.7v.7h-.7zM33.2 391.2h.7v.7h-.7zM45.3 385.7h.7v.7h-.7zM35.1 397.3h.7v.7h-.7zM46.9 382.1h.7v.7h-.7zM29.2 395.3h.7v.7h-.7zM36.8 389.5h.7v.7h-.7zM45.1 380.2h.7v.7h-.7zM43.6 379.9h.7v.7h-.7zM34.9 395.7h.7v.7h-.7zM47.9 388.5h.7v.7h-.7zM41.1 389.1h.7v.7h-.7zM40.9 391.5h.7v.7h-.7zM38.0 391.8h.7v.7h-.7zM42.2 387.6h.7v.7h-.7zM44.9 388.9h.7v.7h-.7zM52.4 382.7h.7v.7h-.7zM34.8 390.4h.7v.7h-.7zM40.7 393.5h.7v.7h-.7zM37.3 392.9h.7v.7h-.7zM44.1 372.6h.7v.7h-.7zM31.8 395.7h.7v.7h-.7zM41.7 389.2h.7v.7h-.7zM37.3 394.3h.7v.7h-.7zM39.1 386.8h.7v.7h-.7zM55.2 381.1h.7v.7h-.7zM34.7 392.0h.7v.7h-.7zM36.9 390.7h.7v.7h-.7zM19.6 399.7h.7v.7h-.7zM42.2 381.3h.7v.7h-.7zM40.4 393.9h.7v.7h-.7zM47.7 392.0h.7v.7h-.7zM26.6 395.8h.7v.7h-.7zM37.8 393.8h.7v.7h-.7zM39.0 375.3h.7v.7h-.7zM42.0 379.9h.7v.7h-.7zM39.3 381.5h.7v.7h-.7zM42.6 393.8h.7v.7h-.7zM38.0 391.4h.7v.7h-.7zM44.0 387.2h.7v.7h-.7zM41.7 396.2h.7v.7h-.7zM44.6 384.5h.7v.7h-.7zM53.5 374.1h.7v.7h-.7zM43.8 385.1h.7v.7h-.7zM41.1 392.1h.7v.7h-.7zM41.5 391.5h.7v.7h-.7zM24.9 390.7h.7v.7h-.7zM40.1 383.8h.7v.7h-.7zM28.2 388.8h.7v.7h-.7zM48.6 387.5h.7v.7h-.7zM45.8 380.2h.7v.7h-.7zM35.7 385.7h.7v.7h-.7zM47.4 392.8h.7v.7h-.7zM36.5 399.7h.7v.7h-.7zM44.5 385.2h.7v.7h-.7zM29.1 403.6h.7v.7h-.7zM36.4 388.1h.7v.7h-.7zM42.1 389.9h.7v.7h-.7zM45.7 379.8h.7v.7h-.7zM49.5 390.8h.7v.7h-.7zM47.5 383.2h.7v.7h-.7zM36.2 397.0h.7v.7h-.7zM39.6 390.0h.7v.7h-.7zM47.1 383.0h.7v.7h-.7zM22.6 398.2h.7v.7h-.7zM28.5 400.9h.7v.7h-.7zM39.1 386.4h.7v.7h-.7zM40.5 393.2h.7v.7h-.7zM42.3 394.7h.7v.7h-.7zM40.7 394.2h.7v.7h-.7zM52.1 389.8h.7v.7h-.7zM36.3 396.2h.7v.7h-.7zM23.6 393.8h.7v.7h-.7zM28.4 402.3h.7v.7h-.7zM30.5 395.2h.7v.7h-.7zM37.2 390.7h.7v.7h-.7zM35.2 393.4h.7v.7h-.7zM50.3 382.6h.7v.7h-.7zM44.4 391.5h.7v.7h-.7zM34.1 386.1h.7v.7h-.7zM37.5 396.4h.7v.7h-.7zM26.3 394.7h.7v.7h-.7zM47.0 388.7h.7v.7h-.7zM40.5 393.0h.7v.7h-.7zM36.7 384.8h.7v.7h-.7zM26.8 394.2h.7v.7h-.7zM43.1 384.0h.7v.7h-.7zM30.7 390.9h.7v.7h-.7zM28.3 396.0h.7v.7h-.7zM31.7 396.4h.7v.7h-.7zM24.0 401.2h.7v.7h-.7zM29.6 385.4h.7v.7h-.7zM42.5 385.9h.7v.7h-.7zM21.9 396.1h.7v.7h-.7zM39.3 387.0h.7v.7h-.7zM45.4 389.5h.7v.7h-.7zM43.6 388.4h.7v.7h-.7zM48.8 386.9h.7v.7h-.7zM36.3 380.2h.7v.7h-.7zM47.5 391.2h.7v.7h-.7zM35.4 389.5h.7v.7h-.7zM46.8 375.2h.7v.7h-.7zM47.5 397.2h.7v.7h-.7zM34.2 396.5h.7v.7h-.7zM50.5 381.6h.7v.7h-.7zM44.4 391.0h.7v.7h-.7zM32.4 393.5h.7v.7h-.7zM42.4 391.9h.7v.7h-.7zM37.8 389.4h.7v.7h-.7zM31.0 392.9h.7v.7h-.7zM44.5 386.6h.7v.7h-.7zM30.9 390.4h.7v.7h-.7zM58.6 383.1h.7v.7h-.7zM36.3 377.5h.7v.7h-.7zM43.7 389.2h.7v.7h-.7zM50.5 384.5h.7v.7h-.7zM39.3 392.3h.7v.7h-.7zM28.4 402.1h.7v.7h-.7zM38.9 386.0h.7v.7h-.7zM51.6 391.2h.7v.7h-.7zM27.7 393.4h.7v.7h-.7zM40.8 389.5h.7v.7h-.7zM33.5 388.0h.7v.7h-.7zM54.8 385.0h.7v.7h-.7zM27.4 390.0h.7v.7h-.7zM52.0 386.5h.7v.7h-.7zM52.3 385.4h.7v.7h-.7zM33.5 394.7h.7v.7h-.7zM22.6 396.3h.7v.7h-.7zM39.4 392.2h.7v.7h-.7zM33.5 392.6h.7v.7h-.7zM42.4 389.5h.7v.7h-.7zM43.2 388.1h.7v.7h-.7zM38.3 394.3h.7v.7h-.7zM36.8 386.7h.7v.7h-.7zM34.4 392.6h.7v.7h-.7zM38.2 391.1h.7v.7h-.7zM38.9 390.7h.7v.7h-.7zM34.5 385.8h.7v.7h-.7zM43.8 392.2h.7v.7h-.7zM40.9 387.5h.7v.7h-.7zM39.0 384.5h.7v.7h-.7zM26.3 398.2h.7v.7h-.7zM34.3 396.7h.7v.7h-.7zM25.0 384.6h.7v.7h-.7zM35.6 400.4h.7v.7h-.7zM32.7 386.4h.7v.7h-.7zM34.8 395.2h.7v.7h-.7zM42.2 388.6h.7v.7h-.7zM49.9 386.4h.7v.7h-.7zM39.8 392.3h.7v.7h-.7zM51.6 386.7h.7v.7h-.7zM42.5 381.6h.7v.7h-.7zM39.3 393.4h.7v.7h-.7zM39.2 395.3h.7v.7h-.7zM44.6 390.9h.7v.7h-.7zM43.4 400.5h.7v.7h-.7zM46.0 384.0h.7v.7h-.7zM45.5 399.4h.7v.7h-.7zM38.4 394.8h.7v.7h-.7zM44.9 385.9h.7v.7h-.7zM31.4 395.6h.7v.7h-.7zM43.6 392.8h.7v.7h-.7zM43.6 386.8h.7v.7h-.7zM45.4 388.4h.7v.7h-.7zM40.0 389.3h.7v.7h-.7zM38.6 393.6h.7v.7h-.7zM30.1 392.1h.7v.7h-.7zM34.9 384.4h.7v.7h-.7zM30.7 384.3h.7v.7h-.7zM35.5 395.0h.7v.7h-.7zM42.0 387.4h.7v.7h-.7zM33.5 385.6h.7v.7h-.7zM51.6 384.2h.7v.7h-.7zM43.4 382.1h.7v.7h-.7zM32.8 383.9h.7v.7h-.7zM45.9 390.2h.7v.7h-.7zM26.0 397.8h.7v.7h-.7zM38.3 380.7h.7v.7h-.7zM24.0 393.7h.7v.7h-.7zM31.0 387.4h.7v.7h-.7zM39.3 390.8h.7v.7h-.7zM44.3 390.0h.7v.7h-.7zM51.1 388.1h.7v.7h-.7zM28.7 393.6h.7v.7h-.7zM29.0 390.4h.7v.7h-.7zM38.0 390.4h.7v.7h-.7zM37.8 381.9h.7v.7h-.7zM30.4 395.1h.7v.7h-.7z" fill="#555" opacity="0.5"/>
<ellipse cx="39.50" cy="388.75" rx="18.12" ry="10.20" transform="rotate(-33 39.50 388.75)" fill="url(#halo)" opacity="0.55"/>
<ellipse cx="40.50" cy="387.50" rx="16.50" ry="5.02" transform="rotate(-33 40.50 387.50)" fill="none" stroke="#222" stroke-width="0.6" opacity="0.35"/>
<ellipse cx="40.50" cy="387.50" rx="14.37" ry="4.37" transform="rotate(-33 40.50 387.50)" fill="none" stroke="#222" stroke-width="0.6" opacity="0.5"/>
<ellipse cx="40.50" cy="387.50" rx="12.50" ry="3.80" transform="rotate(-33 40.50 387.50)" fill="none" stroke="#222" stroke-width="0.6" opacity="0.7"/>
<ellipse cx="40.50" cy="387.50" rx="11.25" ry="3.12" transform="rotate(-33 40.50 387.50)" fill="#141414" filter="url(#bl)"/>
<ellipse cx="41.00" cy="387.20" rx="4.25" ry="0.50" transform="rotate(-33 41.00 387.20)" fill="#fff" opacity="0.85"/>
</g>
<rect x="14" y="376.3" width="59.70" height="60.10" fill="none" stroke="#231f20" stroke-width="1.2"/>
<line x1="36.50" y1="376.30" x2="36.50" y2="436.40" stroke="#231f20" stroke-width="1.2"/>
<line x1="14.00" y1="413.50" x2="73.70" y2="413.50" stroke="#231f20" stroke-width="1.2"/>
<line x1="12.00" y1="382.50" x2="14.00" y2="382.50" stroke="#333" stroke-width="0.8"/>
<line x1="12.00" y1="396.50" x2="14.00" y2="396.50" stroke="#333" stroke-width="0.8"/>
<line x1="12.00" y1="413.50" x2="14.00" y2="413.50" stroke="#333" stroke-width="0.8"/>
<line x1="12.00" y1="432.50" x2="14.00" y2="432.50" stroke="#333" stroke-width="0.8"/>
<line x1="12.90" y1="388.50" x2="14.00" y2="388.50" stroke="#555" stroke-width="0.6"/>
<line x1="12.90" y1="391.50" x2="14.00" y2="391.50" stroke="#555" stroke-width="0.6"/>
<line x1="12.90" y1="403.50" x2="14.00" y2="403.50" stroke="#555" stroke-width="0.6"/>
<line x1="12.90" y1="406.50" x2="14.00" y2="406.50" stroke="#555" stroke-width="0.6"/>
<line x1="12.90" y1="409.50" x2="14.00" y2="409.50" stroke="#555" stroke-width="0.6"/>
<line x1="12.90" y1="418.50" x2="14.00" y2="418.50" stroke="#555" stroke-width="0.6"/>
<line x1="12.90" y1="423.50" x2="14.00" y2="423.50" stroke="#555" stroke-width="0.6"/>
<line x1="12.90" y1="427.50" x2="14.00" y2="427.50" stroke="#555" stroke-width="0.6"/>
<line x1="19.50" y1="436.40" x2="19.50" y2="437.80" stroke="#555" stroke-width="0.6"/>
<line x1="25.50" y1="436.40" x2="25.50" y2="437.80" stroke="#555" stroke-width="0.6"/>
<line x1="31.50" y1="436.40" x2="31.50" y2="437.80" stroke="#555" stroke-width="0.6"/>
<line x1="36.50" y1="436.40" x2="36.50" y2="437.80" stroke="#555" stroke-width="0.6"/>
<line x1="43.50" y1="436.40" x2="43.50" y2="437.80" stroke="#555" stroke-width="0.6"/>
<line x1="49.50" y1="436.40" x2="49.50" y2="437.80" stroke="#555" stroke-width="0.6"/>
<line x1="55.50" y1="436.40" x2="55.50" y2="437.80" stroke="#555" stroke-width="0.6"/>
<line x1="61.50" y1="436.40" x2="61.50" y2="437.80" stroke="#555" stroke-width="0.6"/>
<line x1="67.50" y1="436.40" x2="67.50" y2="437.80" stroke="#555" stroke-width="0.6"/>
<text transform="translate(16.00 384.80)" font-size="8.3" text-anchor="start" fill="#231f20" stroke="#231f20" stroke-width="0.22">34.0</text>
<text transform="translate(71.80 384.80)" font-size="8.3" text-anchor="end" fill="#231f20" stroke="#231f20" stroke-width="0.22">66.0</text>
<text transform="translate(16.20 435.10)" font-size="8.3" text-anchor="start" fill="#231f20" stroke="#231f20" stroke-width="0.22">0</text>
<text transform="translate(71.70 435.10)" font-size="8.3" text-anchor="end" fill="#231f20" stroke="#231f20" stroke-width="0.22">0</text>
<text transform="translate(9.90 406.30) rotate(-90)" font-size="8.0" text-anchor="middle" fill="#231f20" stroke="#231f20" stroke-width="0.22" textLength="19.60" lengthAdjust="spacingAndGlyphs">CD56</text>
<text transform="translate(44.65 447.80) scale(1.08 1)" font-size="7.2" text-anchor="middle" fill="#231f20" stroke="#231f20" stroke-width="0.22">NKp46</text>
<clipPath id="c14_476"><rect x="14" y="476.6" width="59.70" height="57.90"/></clipPath>
<g clip-path="url(#c14_476)">
<path d="M34.2 490.6h.7v.7h-.7zM32.5 486.8h.7v.7h-.7zM42.3 492.3h.7v.7h-.7zM32.8 487.5h.7v.7h-.7zM21.7 472.6h.7v.7h-.7zM32.0 496.0h.7v.7h-.7zM30.1 499.1h.7v.7h-.7zM30.4 481.4h.7v.7h-.7zM33.9 490.8h.7v.7h-.7zM42.4 495.1h.7v.7h-.7zM32.2 486.0h.7v.7h-.7zM35.7 492.2h.7v.7h-.7zM42.1 491.7h.7v.7h-.7zM26.0 484.7h.7v.7h-.7zM31.0 488.0h.7v.7h-.7zM30.5 495.3h.7v.7h-.7zM34.8 494.8h.7v.7h-.7zM37.3 487.2h.7v.7h-.7zM47.1 481.4h.7v.7h-.7zM43.1 489.1h.7v.7h-.7zM30.1 470.5h.7v.7h-.7zM34.2 496.7h.7v.7h-.7zM52.1 507.4h.7v.7h-.7zM45.1 500.6h.7v.7h-.7zM45.7 496.5h.7v.7h-.7zM38.6 489.2h.7v.7h-.7zM33.8 482.3h.7v.7h-.7zM37.6 480.4h.7v.7h-.7zM49.1 507.1h.7v.7h-.7zM35.8 493.1h.7v.7h-.7zM42.9 488.2h.7v.7h-.7zM34.0 497.0h.7v.7h-.7zM43.5 495.4h.7v.7h-.7zM42.0 508.0h.7v.7h-.7zM45.5 486.3h.7v.7h-.7zM35.9 488.0h.7v.7h-.7zM40.4 481.9h.7v.7h-.7zM37.8 486.2h.7v.7h-.7zM37.0 500.0h.7v.7h-.7zM43.6 487.3h.7v.7h-.7zM37.5 500.7h.7v.7h-.7zM38.2 494.7h.7v.7h-.7zM50.5 495.1h.7v.7h-.7zM46.0 511.1h.7v.7h-.7zM40.9 498.0h.7v.7h-.7zM33.2 494.2h.7v.7h-.7zM37.1 511.8h.7v.7h-.7zM37.5 478.2h.7v.7h-.7zM20.6 485.5h.7v.7h-.7zM40.4 484.5h.7v.7h-.7zM34.9 490.1h.7v.7h-.7zM30.5 484.5h.7v.7h-.7zM29.4 481.4h.7v.7h-.7zM38.0 494.8h.7v.7h-.7zM38.0 488.8h.7v.7h-.7zM33.0 496.6h.7v.7h-.7zM42.5 505.6h.7v.7h-.7zM40.1 488.6h.7v.7h-.7zM30.7 488.7h.7v.7h-.7zM30.1 492.9h.7v.7h-.7zM41.0 495.0h.7v.7h-.7zM50.7 505.8h.7v.7h-.7zM33.2 494.8h.7v.7h-.7zM41.4 468.2h.7v.7h-.7zM35.0 495.3h.7v.7h-.7zM39.7 494.7h.7v.7h-.7zM37.5 495.8h.7v.7h-.7zM41.1 497.8h.7v.7h-.7zM22.5 492.4h.7v.7h-.7zM31.4 484.5h.7v.7h-.7zM34.7 500.6h.7v.7h-.7zM36.8 499.3h.7v.7h-.7zM42.2 491.8h.7v.7h-.7zM38.9 489.6h.7v.7h-.7zM29.4 497.0h.7v.7h-.7zM36.4 486.6h.7v.7h-.7zM40.2 498.1h.7v.7h-.7zM35.6 500.1h.7v.7h-.7zM43.5 481.4h.7v.7h-.7zM36.8 490.6h.7v.7h-.7zM46.4 489.0h.7v.7h-.7zM37.8 483.8h.7v.7h-.7zM36.7 492.2h.7v.7h-.7zM35.2 509.3h.7v.7h-.7zM32.3 475.9h.7v.7h-.7zM39.9 488.5h.7v.7h-.7zM41.0 493.3h.7v.7h-.7zM28.0 496.0h.7v.7h-.7zM41.5 482.5h.7v.7h-.7zM24.5 485.8h.7v.7h-.7zM32.3 499.1h.7v.7h-.7zM47.7 489.3h.7v.7h-.7zM49.7 507.9h.7v.7h-.7zM30.6 489.0h.7v.7h-.7zM42.4 494.4h.7v.7h-.7zM25.5 487.1h.7v.7h-.7zM39.6 493.0h.7v.7h-.7zM29.0 495.4h.7v.7h-.7zM36.4 497.6h.7v.7h-.7zM35.8 492.0h.7v.7h-.7zM40.5 501.3h.7v.7h-.7zM42.0 484.5h.7v.7h-.7zM37.2 483.5h.7v.7h-.7zM41.1 497.5h.7v.7h-.7zM42.6 483.9h.7v.7h-.7zM37.4 493.9h.7v.7h-.7zM29.2 497.7h.7v.7h-.7zM35.3 497.4h.7v.7h-.7zM20.7 481.5h.7v.7h-.7zM38.4 494.0h.7v.7h-.7zM38.6 500.8h.7v.7h-.7zM32.2 488.7h.7v.7h-.7zM31.1 478.8h.7v.7h-.7zM33.2 494.5h.7v.7h-.7zM40.3 487.9h.7v.7h-.7zM35.0 486.2h.7v.7h-.7zM47.0 503.5h.7v.7h-.7zM45.6 512.3h.7v.7h-.7zM33.6 494.6h.7v.7h-.7zM43.0 499.2h.7v.7h-.7zM19.5 481.0h.7v.7h-.7zM44.1 495.9h.7v.7h-.7zM53.7 509.5h.7v.7h-.7zM39.2 493.4h.7v.7h-.7zM43.5 491.6h.7v.7h-.7zM38.9 477.0h.7v.7h-.7zM16.9 467.9h.7v.7h-.7zM39.0 486.5h.7v.7h-.7zM52.8 504.9h.7v.7h-.7zM35.4 490.3h.7v.7h-.7zM29.9 487.8h.7v.7h-.7zM36.9 499.2h.7v.7h-.7zM37.3 492.6h.7v.7h-.7zM40.7 499.6h.7v.7h-.7zM38.6 489.4h.7v.7h-.7zM39.4 488.7h.7v.7h-.7zM38.5 507.2h.7v.7h-.7zM34.2 483.4h.7v.7h-.7zM44.1 490.9h.7v.7h-.7zM37.2 509.8h.7v.7h-.7zM43.2 497.6h.7v.7h-.7zM37.0 490.4h.7v.7h-.7zM33.9 505.0h.7v.7h-.7zM35.5 490.0h.7v.7h-.7zM39.0 491.5h.7v.7h-.7zM38.3 487.0h.7v.7h-.7zM25.5 476.4h.7v.7h-.7zM38.1 498.8h.7v.7h-.7zM41.8 484.7h.7v.7h-.7zM44.4 504.4h.7v.7h-.7zM39.0 498.8h.7v.7h-.7zM45.6 486.5h.7v.7h-.7zM39.4 482.5h.7v.7h-.7zM37.5 490.9h.7v.7h-.7zM43.3 500.2h.7v.7h-.7zM45.6 478.6h.7v.7h-.7zM36.4 498.0h.7v.7h-.7zM34.0 499.7h.7v.7h-.7zM38.3 488.1h.7v.7h-.7zM31.5 478.8h.7v.7h-.7zM32.7 478.0h.7v.7h-.7zM30.3 490.6h.7v.7h-.7zM39.2 500.0h.7v.7h-.7zM35.1 488.9h.7v.7h-.7zM47.8 502.0h.7v.7h-.7zM38.7 494.9h.7v.7h-.7zM44.6 489.7h.7v.7h-.7zM43.2 515.4h.7v.7h-.7zM37.8 469.5h.7v.7h-.7zM38.8 495.4h.7v.7h-.7zM45.3 493.7h.7v.7h-.7zM29.9 485.3h.7v.7h-.7zM42.7 499.5h.7v.7h-.7zM25.8 488.5h.7v.7h-.7zM26.6 477.9h.7v.7h-.7zM33.2 489.9h.7v.7h-.7zM35.5 485.4h.7v.7h-.7zM30.2 492.4h.7v.7h-.7zM33.1 487.4h.7v.7h-.7zM40.8 497.7h.7v.7h-.7zM51.8 500.6h.7v.7h-.7zM30.6 491.9h.7v.7h-.7zM33.9 515.3h.7v.7h-.7zM32.9 494.6h.7v.7h-.7zM32.4 480.2h.7v.7h-.7zM39.0 490.3h.7v.7h-.7zM28.9 500.9h.7v.7h-.7zM33.2 474.0h.7v.7h-.7zM42.0 490.9h.7v.7h-.7zM41.5 493.8h.7v.7h-.7zM42.3 485.8h.7v.7h-.7zM39.2 486.0h.7v.7h-.7zM36.3 483.5h.7v.7h-.7zM45.3 505.5h.7v.7h-.7zM38.3 489.4h.7v.7h-.7zM26.8 490.4h.7v.7h-.7zM42.7 498.5h.7v.7h-.7zM41.7 494.6h.7v.7h-.7zM43.6 502.4h.7v.7h-.7zM31.9 489.5h.7v.7h-.7zM41.7 489.5h.7v.7h-.7zM32.4 488.9h.7v.7h-.7zM38.7 497.8h.7v.7h-.7zM32.3 481.9h.7v.7h-.7zM39.9 492.0h.7v.7h-.7zM35.7 501.6h.7v.7h-.7zM33.6 490.7h.7v.7h-.7zM47.8 499.2h.7v.7h-.7zM35.5 497.9h.7v.7h-.7zM44.4 512.6h.7v.7h-.7zM40.5 502.9h.7v.7h-.7zM37.7 500.6h.7v.7h-.7zM35.0 465.3h.7v.7h-.7zM37.2 497.5h.7v.7h-.7zM32.8 487.6h.7v.7h-.7zM48.3 485.0h.7v.7h-.7zM32.8 504.5h.7v.7h-.7zM34.0 507.0h.7v.7h-.7zM34.6 495.4h.7v.7h-.7zM43.9 488.5h.7v.7h-.7zM20.8 484.6h.7v.7h-.7zM46.7 493.5h.7v.7h-.7zM37.1 501.5h.7v.7h-.7zM42.7 495.2h.7v.7h-.7zM23.6 498.1h.7v.7h-.7zM45.3 494.4h.7v.7h-.7zM28.5 470.7h.7v.7h-.7zM40.2 495.3h.7v.7h-.7zM44.9 475.9h.7v.7h-.7zM35.3 493.7h.7v.7h-.7zM39.0 485.7h.7v.7h-.7zM38.6 482.2h.7v.7h-.7zM35.4 487.3h.7v.7h-.7zM34.0 486.5h.7v.7h-.7zM34.3 506.1h.7v.7h-.7zM35.4 486.9h.7v.7h-.7zM43.0 498.9h.7v.7h-.7zM31.2 494.9h.7v.7h-.7zM42.3 494.2h.7v.7h-.7zM24.1 477.7h.7v.7h-.7z" fill="#555" opacity="0.5"/>
<ellipse cx="39.30" cy="490.70" rx="14.67" ry="18.63" transform="rotate(-35 39.30 490.70)" fill="url(#halo)" opacity="0.55"/>
<ellipse cx="41.80" cy="489.20" rx="11.44" ry="10.14" transform="rotate(-35 41.80 489.20)" fill="none" stroke="#222" stroke-width="0.6" opacity="0.35"/>
<ellipse cx="41.80" cy="489.20" rx="9.94" ry="8.81" transform="rotate(-35 41.80 489.20)" fill="none" stroke="#222" stroke-width="0.6" opacity="0.5"/>
<ellipse cx="41.80" cy="489.20" rx="8.62" ry="7.64" transform="rotate(-35 41.80 489.20)" fill="none" stroke="#222" stroke-width="0.6" opacity="0.6"/>
<ellipse cx="41.80" cy="489.20" rx="7.04" ry="5.85" transform="rotate(-35 41.80 489.20)" fill="#333" opacity="0.55" filter="url(#bl)"/>
<ellipse cx="41.80" cy="489.20" rx="5.46" ry="4.52" transform="rotate(-35 41.80 489.20)" fill="none" stroke="#111" stroke-width="1.3" opacity="0.75" filter="url(#bl)"/>
<ellipse cx="42.30" cy="488.80" rx="2.82" ry="1.72" transform="rotate(-35 42.30 488.80)" fill="#fff" opacity="0.95"/>
</g>
<rect x="14" y="476.6" width="59.70" height="57.90" fill="none" stroke="#231f20" stroke-width="1.2"/>
<line x1="36.50" y1="476.60" x2="36.50" y2="534.50" stroke="#231f20" stroke-width="1.2"/>
<line x1="14.00" y1="513.50" x2="73.70" y2="513.50" stroke="#231f20" stroke-width="1.2"/>
<line x1="12.00" y1="482.50" x2="14.00" y2="482.50" stroke="#333" stroke-width="0.8"/>
<line x1="12.00" y1="495.50" x2="14.00" y2="495.50" stroke="#333" stroke-width="0.8"/>
<line x1="12.00" y1="513.50" x2="14.00" y2="513.50" stroke="#333" stroke-width="0.8"/>
<line x1="12.00" y1="530.50" x2="14.00" y2="530.50" stroke="#333" stroke-width="0.8"/>
<line x1="12.90" y1="488.50" x2="14.00" y2="488.50" stroke="#555" stroke-width="0.6"/>
<line x1="12.90" y1="491.50" x2="14.00" y2="491.50" stroke="#555" stroke-width="0.6"/>
<line x1="12.90" y1="502.50" x2="14.00" y2="502.50" stroke="#555" stroke-width="0.6"/>
<line x1="12.90" y1="505.50" x2="14.00" y2="505.50" stroke="#555" stroke-width="0.6"/>
<line x1="12.90" y1="508.50" x2="14.00" y2="508.50" stroke="#555" stroke-width="0.6"/>
<line x1="12.90" y1="517.50" x2="14.00" y2="517.50" stroke="#555" stroke-width="0.6"/>
<line x1="12.90" y1="521.50" x2="14.00" y2="521.50" stroke="#555" stroke-width="0.6"/>
<line x1="12.90" y1="525.50" x2="14.00" y2="525.50" stroke="#555" stroke-width="0.6"/>
<line x1="19.50" y1="534.50" x2="19.50" y2="535.90" stroke="#555" stroke-width="0.6"/>
<line x1="25.50" y1="534.50" x2="25.50" y2="535.90" stroke="#555" stroke-width="0.6"/>
<line x1="31.50" y1="534.50" x2="31.50" y2="535.90" stroke="#555" stroke-width="0.6"/>
<line x1="36.50" y1="534.50" x2="36.50" y2="535.90" stroke="#555" stroke-width="0.6"/>
<line x1="43.50" y1="534.50" x2="43.50" y2="535.90" stroke="#555" stroke-width="0.6"/>
<line x1="49.50" y1="534.50" x2="49.50" y2="535.90" stroke="#555" stroke-width="0.6"/>
<line x1="55.50" y1="534.50" x2="55.50" y2="535.90" stroke="#555" stroke-width="0.6"/>
<line x1="61.50" y1="534.50" x2="61.50" y2="535.90" stroke="#555" stroke-width="0.6"/>
<line x1="67.50" y1="534.50" x2="67.50" y2="535.90" stroke="#555" stroke-width="0.6"/>
<text transform="translate(16.00 485.10)" font-size="8.3" text-anchor="start" fill="#231f20" stroke="#231f20" stroke-width="0.22">13.8</text>
<text transform="translate(71.80 485.10)" font-size="8.3" text-anchor="end" fill="#231f20" stroke="#231f20" stroke-width="0.22">86.2</text>
<text transform="translate(16.20 533.20)" font-size="8.3" text-anchor="start" fill="#231f20" stroke="#231f20" stroke-width="0.22">0</text>
<text transform="translate(71.70 533.20)" font-size="8.3" text-anchor="end" fill="#231f20" stroke="#231f20" stroke-width="0.22">0</text>
<text transform="translate(9.90 506.60) rotate(-90)" font-size="8.0" text-anchor="middle" fill="#231f20" stroke="#231f20" stroke-width="0.22" textLength="19.60" lengthAdjust="spacingAndGlyphs">CD56</text>
<text transform="translate(44.65 547.40) scale(1.08 1)" font-size="7.2" text-anchor="middle" fill="#231f20" stroke="#231f20" stroke-width="0.22">NKp46</text>
<clipPath id="c87_376"><rect x="87.5" y="376.3" width="59.80" height="60.10"/></clipPath>
<g clip-path="url(#c87_376)">
<path d="M106.5 385.6h.7v.7h-.7zM98.8 391.0h.7v.7h-.7zM98.7 389.0h.7v.7h-.7zM92.6 395.7h.7v.7h-.7zM94.8 393.6h.7v.7h-.7zM100.7 401.1h.7v.7h-.7zM100.4 402.1h.7v.7h-.7zM99.4 399.3h.7v.7h-.7zM106.2 384.4h.7v.7h-.7zM98.5 396.6h.7v.7h-.7zM90.2 385.4h.7v.7h-.7zM99.6 396.2h.7v.7h-.7zM99.5 395.1h.7v.7h-.7zM107.6 390.1h.7v.7h-.7zM107.0 388.5h.7v.7h-.7zM99.5 393.7h.7v.7h-.7zM97.7 392.6h.7v.7h-.7zM89.2 387.4h.7v.7h-.7zM99.3 393.9h.7v.7h-.7zM97.2 397.8h.7v.7h-.7zM101.1 388.4h.7v.7h-.7zM91.0 370.9h.7v.7h-.7zM88.5 387.2h.7v.7h-.7zM120.1 394.8h.7v.7h-.7zM93.3 407.5h.7v.7h-.7zM100.3 387.9h.7v.7h-.7zM88.4 381.3h.7v.7h-.7zM105.5 388.1h.7v.7h-.7zM96.9 389.9h.7v.7h-.7zM99.5 386.6h.7v.7h-.7zM98.1 389.0h.7v.7h-.7zM93.1 405.4h.7v.7h-.7zM105.8 393.3h.7v.7h-.7zM97.5 397.2h.7v.7h-.7zM103.4 388.8h.7v.7h-.7zM116.8 391.1h.7v.7h-.7zM85.7 391.1h.7v.7h-.7zM112.7 391.9h.7v.7h-.7zM108.5 389.1h.7v.7h-.7zM94.1 393.4h.7v.7h-.7zM97.7 383.6h.7v.7h-.7zM88.5 399.6h.7v.7h-.7zM120.4 383.3h.7v.7h-.7zM93.8 393.7h.7v.7h-.7zM96.6 388.1h.7v.7h-.7zM104.2 383.9h.7v.7h-.7zM105.1 402.9h.7v.7h-.7zM100.0 396.2h.7v.7h-.7zM98.5 391.0h.7v.7h-.7zM97.3 387.8h.7v.7h-.7zM80.9 395.8h.7v.7h-.7zM91.7 397.1h.7v.7h-.7zM100.8 392.3h.7v.7h-.7zM103.0 389.0h.7v.7h-.7zM93.6 394.4h.7v.7h-.7zM92.7 404.2h.7v.7h-.7zM105.3 390.8h.7v.7h-.7zM99.0 392.2h.7v.7h-.7zM103.6 386.4h.7v.7h-.7zM106.5 389.5h.7v.7h-.7zM109.3 395.0h.7v.7h-.7zM96.4 394.3h.7v.7h-.7zM93.0 394.2h.7v.7h-.7zM116.4 388.4h.7v.7h-.7zM104.1 393.7h.7v.7h-.7zM109.3 387.6h.7v.7h-.7zM96.5 380.6h.7v.7h-.7zM101.3 397.3h.7v.7h-.7zM105.7 383.7h.7v.7h-.7zM95.6 396.0h.7v.7h-.7zM93.1 393.2h.7v.7h-.7zM101.4 380.9h.7v.7h-.7zM114.0 399.0h.7v.7h-.7zM106.4 386.0h.7v.7h-.7zM101.1 397.0h.7v.7h-.7zM109.5 384.3h.7v.7h-.7zM105.1 384.7h.7v.7h-.7zM100.9 388.2h.7v.7h-.7zM109.9 393.7h.7v.7h-.7zM95.5 400.4h.7v.7h-.7zM97.7 388.7h.7v.7h-.7zM104.4 396.4h.7v.7h-.7zM110.8 382.0h.7v.7h-.7zM91.9 384.9h.7v.7h-.7zM107.1 380.6h.7v.7h-.7zM93.5 388.5h.7v.7h-.7zM93.5 388.7h.7v.7h-.7zM103.6 393.1h.7v.7h-.7zM102.3 392.7h.7v.7h-.7zM106.6 401.8h.7v.7h-.7zM87.2 389.9h.7v.7h-.7zM95.2 390.6h.7v.7h-.7zM95.1 396.9h.7v.7h-.7zM94.1 386.4h.7v.7h-.7zM108.9 397.5h.7v.7h-.7zM101.7 387.4h.7v.7h-.7zM100.2 390.8h.7v.7h-.7zM104.9 394.7h.7v.7h-.7zM85.3 384.6h.7v.7h-.7zM94.9 389.2h.7v.7h-.7zM98.8 386.1h.7v.7h-.7zM114.5 398.3h.7v.7h-.7zM90.2 394.6h.7v.7h-.7zM81.2 392.6h.7v.7h-.7zM96.7 404.5h.7v.7h-.7zM86.9 389.7h.7v.7h-.7zM99.6 403.0h.7v.7h-.7zM95.7 395.5h.7v.7h-.7zM110.0 394.5h.7v.7h-.7zM113.1 383.7h.7v.7h-.7zM102.1 391.7h.7v.7h-.7zM115.1 385.9h.7v.7h-.7zM102.3 395.4h.7v.7h-.7zM101.7 390.4h.7v.7h-.7zM90.7 390.6h.7v.7h-.7zM89.2 390.1h.7v.7h-.7zM107.7 386.4h.7v.7h-.7zM105.3 403.9h.7v.7h-.7zM91.5 380.3h.7v.7h-.7zM111.4 383.6h.7v.7h-.7zM99.5 375.5h.7v.7h-.7zM104.8 390.2h.7v.7h-.7zM102.2 391.3h.7v.7h-.7zM94.6 380.7h.7v.7h-.7zM87.9 394.9h.7v.7h-.7zM95.0 393.4h.7v.7h-.7zM103.3 390.7h.7v.7h-.7zM96.4 389.6h.7v.7h-.7zM105.0 397.8h.7v.7h-.7zM103.6 387.7h.7v.7h-.7zM109.1 399.1h.7v.7h-.7zM102.6 397.7h.7v.7h-.7zM102.5 384.2h.7v.7h-.7zM96.2 383.4h.7v.7h-.7zM105.0 386.6h.7v.7h-.7zM99.6 403.8h.7v.7h-.7zM105.6 401.6h.7v.7h-.7zM97.3 395.5h.7v.7h-.7zM99.3 389.2h.7v.7h-.7zM97.9 388.6h.7v.7h-.7zM102.7 388.0h.7v.7h-.7zM84.1 381.7h.7v.7h-.7zM104.4 385.1h.7v.7h-.7zM95.4 403.0h.7v.7h-.7zM108.6 392.7h.7v.7h-.7zM106.6 403.6h.7v.7h-.7zM114.8 400.8h.7v.7h-.7zM104.2 395.1h.7v.7h-.7zM92.4 390.5h.7v.7h-.7zM109.6 388.4h.7v.7h-.7zM110.7 385.6h.7v.7h-.7zM88.4 390.0h.7v.7h-.7zM94.2 393.7h.7v.7h-.7zM101.5 398.8h.7v.7h-.7zM99.9 389.1h.7v.7h-.7zM100.2 390.5h.7v.7h-.7zM105.8 393.2h.7v.7h-.7zM99.3 384.0h.7v.7h-.7zM104.5 405.8h.7v.7h-.7zM107.7 395.0h.7v.7h-.7zM93.2 400.8h.7v.7h-.7zM91.7 387.1h.7v.7h-.7zM103.3 397.5h.7v.7h-.7zM113.8 390.8h.7v.7h-.7zM89.1 392.6h.7v.7h-.7zM108.0 392.0h.7v.7h-.7zM93.1 386.6h.7v.7h-.7zM107.9 389.9h.7v.7h-.7zM99.3 387.1h.7v.7h-.7zM106.4 392.8h.7v.7h-.7zM87.3 389.3h.7v.7h-.7zM104.5 391.6h.7v.7h-.7zM106.0 394.8h.7v.7h-.7zM98.1 395.3h.7v.7h-.7zM103.1 395.7h.7v.7h-.7zM104.1 381.6h.7v.7h-.7zM116.5 384.7h.7v.7h-.7zM106.7 389.2h.7v.7h-.7zM105.1 380.7h.7v.7h-.7zM93.6 389.2h.7v.7h-.7zM110.3 393.6h.7v.7h-.7zM104.8 390.2h.7v.7h-.7zM100.9 393.8h.7v.7h-.7zM102.4 404.0h.7v.7h-.7zM92.3 390.8h.7v.7h-.7zM93.0 393.8h.7v.7h-.7zM109.8 390.3h.7v.7h-.7zM101.9 403.2h.7v.7h-.7zM99.8 384.7h.7v.7h-.7zM91.1 398.5h.7v.7h-.7zM100.6 396.9h.7v.7h-.7zM86.8 387.5h.7v.7h-.7zM91.7 385.5h.7v.7h-.7zM95.9 382.6h.7v.7h-.7zM93.0 393.4h.7v.7h-.7zM106.8 399.5h.7v.7h-.7zM107.0 388.9h.7v.7h-.7zM91.9 385.0h.7v.7h-.7zM95.4 393.3h.7v.7h-.7zM100.5 399.6h.7v.7h-.7zM93.7 394.1h.7v.7h-.7zM84.4 391.5h.7v.7h-.7zM110.6 392.8h.7v.7h-.7zM95.0 387.7h.7v.7h-.7zM92.9 408.9h.7v.7h-.7zM106.2 385.7h.7v.7h-.7zM112.6 391.3h.7v.7h-.7zM101.4 383.8h.7v.7h-.7zM108.7 388.2h.7v.7h-.7zM93.1 399.9h.7v.7h-.7zM95.3 400.2h.7v.7h-.7zM95.7 385.0h.7v.7h-.7zM102.0 408.7h.7v.7h-.7zM110.8 394.6h.7v.7h-.7zM102.8 403.5h.7v.7h-.7zM119.6 386.1h.7v.7h-.7zM101.5 394.2h.7v.7h-.7zM106.2 396.2h.7v.7h-.7zM104.4 386.0h.7v.7h-.7zM100.7 402.6h.7v.7h-.7zM102.9 396.9h.7v.7h-.7zM111.4 395.8h.7v.7h-.7zM101.4 383.7h.7v.7h-.7zM112.5 395.7h.7v.7h-.7zM101.5 396.7h.7v.7h-.7zM112.1 389.0h.7v.7h-.7zM94.0 384.5h.7v.7h-.7zM98.0 400.4h.7v.7h-.7zM117.5 398.1h.7v.7h-.7zM104.8 400.9h.7v.7h-.7zM92.6 381.9h.7v.7h-.7zM98.9 397.5h.7v.7h-.7zM98.0 394.5h.7v.7h-.7zM97.0 386.5h.7v.7h-.7zM98.1 387.1h.7v.7h-.7zM102.1 397.0h.7v.7h-.7zM100.4 396.4h.7v.7h-.7zM105.8 382.5h.7v.7h-.7zM104.6 395.3h.7v.7h-.7zM106.0 397.8h.7v.7h-.7z" fill="#555" opacity="0.5"/>
<ellipse cx="100.50" cy="391.00" rx="15.95" ry="14.85" transform="rotate(-62 100.50 391.00)" fill="url(#halo)" opacity="0.55"/>
<ellipse cx="100.50" cy="390.00" rx="13.20" ry="7.92" transform="rotate(-62 100.50 390.00)" fill="none" stroke="#222" stroke-width="0.6" opacity="0.3"/>
<ellipse cx="100.50" cy="390.00" rx="11.50" ry="6.90" transform="rotate(-62 100.50 390.00)" fill="none" stroke="#222" stroke-width="0.6" opacity="0.45"/>
<ellipse cx="100.50" cy="390.00" rx="10.00" ry="6.00" transform="rotate(-62 100.50 390.00)" fill="none" stroke="#222" stroke-width="0.6" opacity="0.55"/>
<ellipse cx="100.50" cy="390.00" rx="9.50" ry="5.40" transform="rotate(-62 100.50 390.00)" fill="#222" opacity="0.72" filter="url(#bl)"/>
<ellipse cx="97.50" cy="391.00" rx="3.50" ry="3.00" transform="rotate(-62 97.50 391.00)" fill="#000" opacity="0.7" filter="url(#bl)"/>
<ellipse cx="102.00" cy="389.70" rx="3.40" ry="0.72" transform="rotate(-62 102.00 389.70)" fill="#fff" opacity="0.85"/>
</g>
<rect x="87.5" y="376.3" width="59.80" height="60.10" fill="none" stroke="#231f20" stroke-width="1.2"/>
<line x1="112.50" y1="376.30" x2="112.50" y2="436.40" stroke="#231f20" stroke-width="1.2"/>
<line x1="87.50" y1="410.50" x2="147.30" y2="410.50" stroke="#231f20" stroke-width="1.2"/>
<line x1="85.50" y1="382.50" x2="87.50" y2="382.50" stroke="#333" stroke-width="0.8"/>
<line x1="85.50" y1="396.50" x2="87.50" y2="396.50" stroke="#333" stroke-width="0.8"/>
<line x1="85.50" y1="410.50" x2="87.50" y2="410.50" stroke="#333" stroke-width="0.8"/>
<line x1="85.50" y1="432.50" x2="87.50" y2="432.50" stroke="#333" stroke-width="0.8"/>
<line x1="86.40" y1="388.50" x2="87.50" y2="388.50" stroke="#555" stroke-width="0.6"/>
<line x1="86.40" y1="391.50" x2="87.50" y2="391.50" stroke="#555" stroke-width="0.6"/>
<line x1="86.40" y1="403.50" x2="87.50" y2="403.50" stroke="#555" stroke-width="0.6"/>
<line x1="86.40" y1="406.50" x2="87.50" y2="406.50" stroke="#555" stroke-width="0.6"/>
<line x1="86.40" y1="409.50" x2="87.50" y2="409.50" stroke="#555" stroke-width="0.6"/>
<line x1="86.40" y1="418.50" x2="87.50" y2="418.50" stroke="#555" stroke-width="0.6"/>
<line x1="86.40" y1="423.50" x2="87.50" y2="423.50" stroke="#555" stroke-width="0.6"/>
<line x1="86.40" y1="427.50" x2="87.50" y2="427.50" stroke="#555" stroke-width="0.6"/>
<line x1="93.50" y1="436.40" x2="93.50" y2="437.80" stroke="#555" stroke-width="0.6"/>
<line x1="99.50" y1="436.40" x2="99.50" y2="437.80" stroke="#555" stroke-width="0.6"/>
<line x1="105.50" y1="436.40" x2="105.50" y2="437.80" stroke="#555" stroke-width="0.6"/>
<line x1="112.50" y1="436.40" x2="112.50" y2="437.80" stroke="#555" stroke-width="0.6"/>
<line x1="117.50" y1="436.40" x2="117.50" y2="437.80" stroke="#555" stroke-width="0.6"/>
<line x1="123.50" y1="436.40" x2="123.50" y2="437.80" stroke="#555" stroke-width="0.6"/>
<line x1="129.50" y1="436.40" x2="129.50" y2="437.80" stroke="#555" stroke-width="0.6"/>
<line x1="135.50" y1="436.40" x2="135.50" y2="437.80" stroke="#555" stroke-width="0.6"/>
<line x1="141.50" y1="436.40" x2="141.50" y2="437.80" stroke="#555" stroke-width="0.6"/>
<text transform="translate(89.50 384.80)" font-size="8.3" text-anchor="start" fill="#231f20" stroke="#231f20" stroke-width="0.22">96.2</text>
<text transform="translate(145.40 384.80)" font-size="8.3" text-anchor="end" fill="#231f20" stroke="#231f20" stroke-width="0.22">3.75</text>
<text transform="translate(89.70 435.10)" font-size="8.3" text-anchor="start" fill="#231f20" stroke="#231f20" stroke-width="0.22">0</text>
<text transform="translate(145.30 435.10)" font-size="8.3" text-anchor="end" fill="#231f20" stroke="#231f20" stroke-width="0.22">0</text>
<text transform="translate(83.40 406.30) rotate(-90)" font-size="8.0" text-anchor="middle" fill="#231f20" stroke="#231f20" stroke-width="0.22" textLength="19.60" lengthAdjust="spacingAndGlyphs">CD56</text>
<text transform="translate(118.20 447.80) scale(1.08 1)" font-size="7.2" text-anchor="middle" fill="#231f20" stroke="#231f20" stroke-width="0.22">NKp44</text>
<clipPath id="c87_476"><rect x="87.5" y="476.6" width="59.80" height="57.90"/></clipPath>
<g clip-path="url(#c87_476)">
<path d="M97.2 501.2h.7v.7h-.7zM97.6 485.6h.7v.7h-.7zM113.4 479.3h.7v.7h-.7zM118.6 493.8h.7v.7h-.7zM110.8 478.9h.7v.7h-.7zM117.5 502.9h.7v.7h-.7zM102.7 491.1h.7v.7h-.7zM121.8 487.5h.7v.7h-.7zM98.8 487.0h.7v.7h-.7zM108.3 494.0h.7v.7h-.7zM111.2 508.0h.7v.7h-.7zM103.4 497.4h.7v.7h-.7zM110.7 478.7h.7v.7h-.7zM117.7 506.9h.7v.7h-.7zM90.7 484.9h.7v.7h-.7zM90.3 476.9h.7v.7h-.7zM100.7 473.1h.7v.7h-.7zM112.6 504.7h.7v.7h-.7zM91.6 493.1h.7v.7h-.7zM93.3 504.3h.7v.7h-.7zM97.9 491.3h.7v.7h-.7zM106.3 497.1h.7v.7h-.7zM101.6 493.0h.7v.7h-.7zM100.6 494.5h.7v.7h-.7zM96.0 495.6h.7v.7h-.7zM88.8 492.2h.7v.7h-.7zM117.7 487.9h.7v.7h-.7zM96.1 497.7h.7v.7h-.7zM91.4 478.6h.7v.7h-.7zM101.4 500.9h.7v.7h-.7zM106.3 490.1h.7v.7h-.7zM93.8 484.0h.7v.7h-.7zM114.3 490.9h.7v.7h-.7zM90.0 474.2h.7v.7h-.7zM103.1 519.2h.7v.7h-.7zM95.7 494.2h.7v.7h-.7zM104.9 490.0h.7v.7h-.7zM97.3 479.5h.7v.7h-.7zM102.5 510.9h.7v.7h-.7zM101.7 502.0h.7v.7h-.7zM91.2 493.7h.7v.7h-.7zM109.4 501.3h.7v.7h-.7zM98.2 500.6h.7v.7h-.7zM104.1 483.9h.7v.7h-.7zM104.2 482.2h.7v.7h-.7zM98.4 493.8h.7v.7h-.7zM84.6 497.9h.7v.7h-.7zM91.9 480.5h.7v.7h-.7zM103.7 500.4h.7v.7h-.7zM105.6 505.2h.7v.7h-.7zM91.3 482.4h.7v.7h-.7zM116.2 491.9h.7v.7h-.7zM107.7 481.7h.7v.7h-.7zM110.5 492.4h.7v.7h-.7zM108.6 490.6h.7v.7h-.7zM110.2 482.7h.7v.7h-.7zM92.1 480.3h.7v.7h-.7zM109.5 482.0h.7v.7h-.7zM93.4 485.6h.7v.7h-.7zM96.5 480.9h.7v.7h-.7zM99.8 486.7h.7v.7h-.7zM96.8 484.2h.7v.7h-.7zM102.6 487.5h.7v.7h-.7zM105.7 494.1h.7v.7h-.7zM98.7 470.2h.7v.7h-.7zM97.5 485.7h.7v.7h-.7zM103.9 474.9h.7v.7h-.7zM98.0 491.0h.7v.7h-.7zM105.1 502.4h.7v.7h-.7zM104.3 502.4h.7v.7h-.7zM87.4 478.4h.7v.7h-.7zM114.0 493.1h.7v.7h-.7zM107.8 491.9h.7v.7h-.7zM103.1 479.1h.7v.7h-.7zM108.8 484.5h.7v.7h-.7zM111.2 490.3h.7v.7h-.7zM85.7 484.7h.7v.7h-.7zM111.4 487.8h.7v.7h-.7zM102.1 495.3h.7v.7h-.7zM99.1 487.9h.7v.7h-.7zM105.2 493.1h.7v.7h-.7zM114.8 488.6h.7v.7h-.7zM123.4 504.5h.7v.7h-.7zM119.7 497.8h.7v.7h-.7zM105.4 493.0h.7v.7h-.7zM100.5 485.4h.7v.7h-.7zM101.3 486.0h.7v.7h-.7zM117.3 492.9h.7v.7h-.7zM94.2 474.8h.7v.7h-.7zM102.2 488.1h.7v.7h-.7zM92.4 483.9h.7v.7h-.7zM90.3 503.2h.7v.7h-.7zM112.5 516.9h.7v.7h-.7zM103.3 490.7h.7v.7h-.7zM114.6 489.6h.7v.7h-.7zM103.9 488.0h.7v.7h-.7zM105.0 507.9h.7v.7h-.7zM117.0 505.9h.7v.7h-.7zM101.7 493.2h.7v.7h-.7zM101.2 503.5h.7v.7h-.7zM96.2 501.0h.7v.7h-.7zM116.6 502.7h.7v.7h-.7zM101.2 504.8h.7v.7h-.7zM96.4 486.6h.7v.7h-.7zM98.8 506.4h.7v.7h-.7zM113.5 482.1h.7v.7h-.7zM97.5 490.7h.7v.7h-.7zM125.0 495.2h.7v.7h-.7zM93.9 476.2h.7v.7h-.7zM103.4 505.1h.7v.7h-.7zM116.1 484.7h.7v.7h-.7zM97.4 488.9h.7v.7h-.7zM94.0 505.5h.7v.7h-.7zM100.1 505.0h.7v.7h-.7zM87.6 484.2h.7v.7h-.7zM103.4 483.9h.7v.7h-.7zM109.5 490.1h.7v.7h-.7zM98.0 501.0h.7v.7h-.7zM103.2 471.5h.7v.7h-.7zM118.5 492.1h.7v.7h-.7zM102.8 472.2h.7v.7h-.7zM97.7 490.5h.7v.7h-.7zM106.4 475.3h.7v.7h-.7zM90.7 474.8h.7v.7h-.7zM103.5 495.9h.7v.7h-.7zM90.1 490.6h.7v.7h-.7zM113.1 505.9h.7v.7h-.7zM107.6 487.4h.7v.7h-.7zM92.5 486.0h.7v.7h-.7zM99.9 495.1h.7v.7h-.7zM109.5 508.1h.7v.7h-.7zM102.3 481.0h.7v.7h-.7zM118.1 497.2h.7v.7h-.7zM102.2 484.8h.7v.7h-.7zM87.4 487.0h.7v.7h-.7zM107.6 482.0h.7v.7h-.7zM95.5 497.2h.7v.7h-.7zM107.8 497.2h.7v.7h-.7zM113.5 503.8h.7v.7h-.7zM101.5 503.5h.7v.7h-.7zM99.5 501.2h.7v.7h-.7zM106.1 493.9h.7v.7h-.7zM110.7 489.4h.7v.7h-.7zM114.8 497.6h.7v.7h-.7zM103.0 486.2h.7v.7h-.7zM96.9 488.9h.7v.7h-.7zM102.5 492.3h.7v.7h-.7zM127.1 490.5h.7v.7h-.7zM106.4 481.8h.7v.7h-.7zM97.9 490.7h.7v.7h-.7zM101.7 481.6h.7v.7h-.7zM113.3 482.5h.7v.7h-.7zM103.4 466.9h.7v.7h-.7zM104.9 494.7h.7v.7h-.7zM107.4 497.3h.7v.7h-.7zM106.5 492.8h.7v.7h-.7zM88.3 490.0h.7v.7h-.7zM89.8 504.0h.7v.7h-.7zM105.5 489.3h.7v.7h-.7zM96.2 488.5h.7v.7h-.7zM122.9 503.9h.7v.7h-.7zM108.1 504.5h.7v.7h-.7zM86.1 477.5h.7v.7h-.7zM97.6 484.8h.7v.7h-.7zM100.7 495.2h.7v.7h-.7zM122.8 478.0h.7v.7h-.7zM105.3 494.5h.7v.7h-.7zM107.0 501.0h.7v.7h-.7zM112.1 475.6h.7v.7h-.7zM104.2 489.0h.7v.7h-.7zM101.1 476.4h.7v.7h-.7zM83.6 474.3h.7v.7h-.7zM108.3 492.5h.7v.7h-.7zM96.3 469.1h.7v.7h-.7zM98.8 485.7h.7v.7h-.7zM90.9 486.8h.7v.7h-.7zM110.8 495.4h.7v.7h-.7zM105.6 497.0h.7v.7h-.7zM100.0 494.2h.7v.7h-.7zM106.2 497.2h.7v.7h-.7zM103.0 490.8h.7v.7h-.7zM100.8 486.2h.7v.7h-.7zM121.4 491.2h.7v.7h-.7zM115.0 512.9h.7v.7h-.7zM108.4 473.5h.7v.7h-.7zM111.8 498.3h.7v.7h-.7zM121.8 499.8h.7v.7h-.7zM105.3 478.8h.7v.7h-.7zM98.9 496.8h.7v.7h-.7zM104.0 480.9h.7v.7h-.7zM99.9 489.1h.7v.7h-.7zM105.6 495.1h.7v.7h-.7zM97.7 480.9h.7v.7h-.7zM118.3 504.1h.7v.7h-.7zM106.8 502.1h.7v.7h-.7zM109.4 497.2h.7v.7h-.7zM104.7 483.5h.7v.7h-.7zM111.5 500.2h.7v.7h-.7zM104.6 513.1h.7v.7h-.7zM125.0 504.2h.7v.7h-.7zM120.5 494.1h.7v.7h-.7zM99.5 487.1h.7v.7h-.7zM98.7 495.2h.7v.7h-.7zM106.1 498.5h.7v.7h-.7zM97.9 519.3h.7v.7h-.7zM119.8 485.9h.7v.7h-.7zM110.4 494.8h.7v.7h-.7zM105.2 489.3h.7v.7h-.7zM100.3 484.4h.7v.7h-.7zM105.2 491.3h.7v.7h-.7zM103.3 483.0h.7v.7h-.7zM104.4 492.4h.7v.7h-.7zM104.5 480.3h.7v.7h-.7zM110.4 500.4h.7v.7h-.7zM106.9 486.9h.7v.7h-.7zM99.7 491.0h.7v.7h-.7zM114.5 505.0h.7v.7h-.7zM100.7 486.2h.7v.7h-.7zM107.3 493.0h.7v.7h-.7zM95.1 487.2h.7v.7h-.7zM105.6 498.7h.7v.7h-.7zM92.1 485.3h.7v.7h-.7zM103.2 479.0h.7v.7h-.7zM106.0 495.1h.7v.7h-.7zM99.7 482.5h.7v.7h-.7zM102.4 489.0h.7v.7h-.7zM103.4 483.1h.7v.7h-.7zM105.8 473.2h.7v.7h-.7zM102.8 492.5h.7v.7h-.7zM108.6 483.7h.7v.7h-.7zM105.8 485.2h.7v.7h-.7zM115.2 506.8h.7v.7h-.7zM102.7 497.3h.7v.7h-.7zM100.9 503.7h.7v.7h-.7zM112.6 489.3h.7v.7h-.7zM97.5 498.7h.7v.7h-.7zM115.8 499.5h.7v.7h-.7zM103.3 472.4h.7v.7h-.7zM104.2 507.4h.7v.7h-.7zM99.4 506.0h.7v.7h-.7z" fill="#555" opacity="0.5"/>
<ellipse cx="105.00" cy="491.00" rx="17.40" ry="20.25" transform="rotate(-20 105.00 491.00)" fill="url(#halo)" opacity="0.55"/>
<ellipse cx="106.00" cy="490.00" rx="14.40" ry="12.60" transform="rotate(-20 106.00 490.00)" fill="none" stroke="#333" stroke-width="0.65" opacity="0.35"/>
<ellipse cx="106.00" cy="490.00" rx="12.00" ry="10.50" transform="rotate(-20 106.00 490.00)" fill="none" stroke="#333" stroke-width="0.65" opacity="0.45"/>
<ellipse cx="106.00" cy="490.00" rx="9.84" ry="8.61" transform="rotate(-20 106.00 490.00)" fill="none" stroke="#333" stroke-width="0.65" opacity="0.55"/>
<ellipse cx="106.00" cy="490.00" rx="7.80" ry="6.83" transform="rotate(-20 106.00 490.00)" fill="none" stroke="#333" stroke-width="0.65" opacity="0.6"/>
<ellipse cx="106.00" cy="490.00" rx="5.76" ry="5.04" transform="rotate(-20 106.00 490.00)" fill="none" stroke="#333" stroke-width="0.65" opacity="0.65"/>
<ellipse cx="110.00" cy="487.00" rx="2.50" ry="4.00" transform="rotate(-20 110.00 487.00)" fill="#111" opacity="0.9" filter="url(#bl)"/>
<ellipse cx="106.00" cy="490.00" rx="3.60" ry="2.62" transform="rotate(-20 106.00 490.00)" fill="#fff" opacity="0.8"/>
</g>
<rect x="87.5" y="476.6" width="59.80" height="57.90" fill="none" stroke="#231f20" stroke-width="1.2"/>
<line x1="112.50" y1="476.60" x2="112.50" y2="534.50" stroke="#231f20" stroke-width="1.2"/>
<line x1="87.50" y1="510.50" x2="147.30" y2="510.50" stroke="#231f20" stroke-width="1.2"/>
<line x1="85.50" y1="482.50" x2="87.50" y2="482.50" stroke="#333" stroke-width="0.8"/>
<line x1="85.50" y1="495.50" x2="87.50" y2="495.50" stroke="#333" stroke-width="0.8"/>
<line x1="85.50" y1="510.50" x2="87.50" y2="510.50" stroke="#333" stroke-width="0.8"/>
<line x1="85.50" y1="530.50" x2="87.50" y2="530.50" stroke="#333" stroke-width="0.8"/>
<line x1="86.40" y1="488.50" x2="87.50" y2="488.50" stroke="#555" stroke-width="0.6"/>
<line x1="86.40" y1="491.50" x2="87.50" y2="491.50" stroke="#555" stroke-width="0.6"/>
<line x1="86.40" y1="502.50" x2="87.50" y2="502.50" stroke="#555" stroke-width="0.6"/>
<line x1="86.40" y1="505.50" x2="87.50" y2="505.50" stroke="#555" stroke-width="0.6"/>
<line x1="86.40" y1="508.50" x2="87.50" y2="508.50" stroke="#555" stroke-width="0.6"/>
<line x1="86.40" y1="517.50" x2="87.50" y2="517.50" stroke="#555" stroke-width="0.6"/>
<line x1="86.40" y1="521.50" x2="87.50" y2="521.50" stroke="#555" stroke-width="0.6"/>
<line x1="86.40" y1="525.50" x2="87.50" y2="525.50" stroke="#555" stroke-width="0.6"/>
<line x1="93.50" y1="534.50" x2="93.50" y2="535.90" stroke="#555" stroke-width="0.6"/>
<line x1="99.50" y1="534.50" x2="99.50" y2="535.90" stroke="#555" stroke-width="0.6"/>
<line x1="105.50" y1="534.50" x2="105.50" y2="535.90" stroke="#555" stroke-width="0.6"/>
<line x1="112.50" y1="534.50" x2="112.50" y2="535.90" stroke="#555" stroke-width="0.6"/>
<line x1="117.50" y1="534.50" x2="117.50" y2="535.90" stroke="#555" stroke-width="0.6"/>
<line x1="123.50" y1="534.50" x2="123.50" y2="535.90" stroke="#555" stroke-width="0.6"/>
<line x1="129.50" y1="534.50" x2="129.50" y2="535.90" stroke="#555" stroke-width="0.6"/>
<line x1="135.50" y1="534.50" x2="135.50" y2="535.90" stroke="#555" stroke-width="0.6"/>
<line x1="141.50" y1="534.50" x2="141.50" y2="535.90" stroke="#555" stroke-width="0.6"/>
<text transform="translate(89.50 485.10)" font-size="8.3" text-anchor="start" fill="#231f20" stroke="#231f20" stroke-width="0.22">79.3</text>
<text transform="translate(145.40 485.10)" font-size="8.3" text-anchor="end" fill="#231f20" stroke="#231f20" stroke-width="0.22">20.7</text>
<text transform="translate(89.70 533.20)" font-size="8.3" text-anchor="start" fill="#231f20" stroke="#231f20" stroke-width="0.22">0</text>
<text transform="translate(145.30 533.20)" font-size="8.3" text-anchor="end" fill="#231f20" stroke="#231f20" stroke-width="0.22">0</text>
<text transform="translate(83.40 506.60) rotate(-90)" font-size="8.0" text-anchor="middle" fill="#231f20" stroke="#231f20" stroke-width="0.22" textLength="19.60" lengthAdjust="spacingAndGlyphs">CD56</text>
<text transform="translate(118.20 547.40) scale(1.08 1)" font-size="7.2" text-anchor="middle" fill="#231f20" stroke="#231f20" stroke-width="0.22">NKp44</text>
<clipPath id="c160_376"><rect x="160.8" y="376.3" width="59.00" height="60.10"/></clipPath>
<g clip-path="url(#c160_376)">
<path d="M215.8 384.6h.7v.7h-.7zM204.9 386.0h.7v.7h-.7zM193.1 405.8h.7v.7h-.7zM199.2 397.8h.7v.7h-.7zM203.6 390.2h.7v.7h-.7zM204.2 396.7h.7v.7h-.7zM211.7 404.3h.7v.7h-.7zM203.6 393.2h.7v.7h-.7zM195.6 395.4h.7v.7h-.7zM209.0 386.3h.7v.7h-.7zM191.2 402.6h.7v.7h-.7zM197.1 395.6h.7v.7h-.7zM199.6 382.8h.7v.7h-.7zM204.2 393.1h.7v.7h-.7zM194.3 406.0h.7v.7h-.7zM203.1 399.3h.7v.7h-.7zM199.9 401.3h.7v.7h-.7zM184.7 405.1h.7v.7h-.7zM211.3 394.5h.7v.7h-.7zM196.9 394.0h.7v.7h-.7zM194.0 378.9h.7v.7h-.7zM200.2 405.6h.7v.7h-.7zM198.0 386.8h.7v.7h-.7zM198.8 417.7h.7v.7h-.7zM196.0 391.4h.7v.7h-.7zM206.4 399.8h.7v.7h-.7zM192.8 421.8h.7v.7h-.7zM192.1 381.7h.7v.7h-.7zM194.1 382.7h.7v.7h-.7zM209.4 389.0h.7v.7h-.7zM209.5 375.8h.7v.7h-.7zM207.0 400.8h.7v.7h-.7zM192.7 398.5h.7v.7h-.7zM198.1 399.1h.7v.7h-.7zM197.5 407.1h.7v.7h-.7zM204.1 392.4h.7v.7h-.7zM208.1 381.4h.7v.7h-.7zM204.6 383.6h.7v.7h-.7zM193.1 382.1h.7v.7h-.7zM200.6 394.1h.7v.7h-.7zM194.1 397.8h.7v.7h-.7zM194.3 396.1h.7v.7h-.7zM184.7 411.4h.7v.7h-.7zM194.3 398.6h.7v.7h-.7zM193.9 404.3h.7v.7h-.7zM203.5 389.1h.7v.7h-.7zM206.1 406.1h.7v.7h-.7zM211.7 392.5h.7v.7h-.7zM205.1 385.8h.7v.7h-.7zM206.6 402.2h.7v.7h-.7zM196.8 400.3h.7v.7h-.7zM205.0 395.0h.7v.7h-.7zM205.0 402.8h.7v.7h-.7zM204.0 400.9h.7v.7h-.7zM210.6 390.6h.7v.7h-.7zM197.7 385.6h.7v.7h-.7zM189.5 404.3h.7v.7h-.7zM212.4 399.0h.7v.7h-.7zM195.6 407.5h.7v.7h-.7zM191.4 400.1h.7v.7h-.7zM203.2 401.5h.7v.7h-.7zM208.9 399.7h.7v.7h-.7zM200.5 408.1h.7v.7h-.7zM206.2 389.3h.7v.7h-.7zM199.9 390.2h.7v.7h-.7zM192.0 403.4h.7v.7h-.7zM214.5 413.8h.7v.7h-.7zM207.9 407.3h.7v.7h-.7zM203.6 396.1h.7v.7h-.7zM200.0 387.1h.7v.7h-.7zM208.0 390.7h.7v.7h-.7zM195.8 411.1h.7v.7h-.7zM206.4 393.9h.7v.7h-.7zM207.0 382.0h.7v.7h-.7zM208.0 395.5h.7v.7h-.7zM202.8 408.7h.7v.7h-.7zM184.6 402.5h.7v.7h-.7zM196.9 387.6h.7v.7h-.7zM190.0 390.4h.7v.7h-.7zM194.1 391.0h.7v.7h-.7zM193.2 387.2h.7v.7h-.7zM201.5 391.7h.7v.7h-.7zM200.5 395.6h.7v.7h-.7zM193.3 389.8h.7v.7h-.7zM186.4 417.1h.7v.7h-.7zM192.6 402.0h.7v.7h-.7zM191.0 384.6h.7v.7h-.7zM192.6 399.9h.7v.7h-.7zM196.7 406.2h.7v.7h-.7zM194.8 394.0h.7v.7h-.7zM200.0 407.7h.7v.7h-.7zM200.5 404.2h.7v.7h-.7zM191.6 384.8h.7v.7h-.7zM194.5 405.1h.7v.7h-.7zM207.2 397.0h.7v.7h-.7zM211.4 394.4h.7v.7h-.7zM197.2 398.5h.7v.7h-.7zM202.4 388.4h.7v.7h-.7zM196.9 381.2h.7v.7h-.7zM203.2 390.4h.7v.7h-.7zM195.5 416.3h.7v.7h-.7zM202.5 394.0h.7v.7h-.7zM191.8 403.0h.7v.7h-.7zM204.1 380.8h.7v.7h-.7zM176.0 420.5h.7v.7h-.7zM193.1 405.4h.7v.7h-.7zM192.9 395.7h.7v.7h-.7zM202.2 407.6h.7v.7h-.7zM204.4 416.2h.7v.7h-.7zM190.9 396.1h.7v.7h-.7zM208.4 392.5h.7v.7h-.7zM199.3 407.9h.7v.7h-.7zM184.7 407.2h.7v.7h-.7zM205.4 386.3h.7v.7h-.7zM196.4 409.0h.7v.7h-.7zM205.6 389.0h.7v.7h-.7zM188.4 409.4h.7v.7h-.7zM207.6 396.3h.7v.7h-.7zM209.4 380.5h.7v.7h-.7zM197.7 400.1h.7v.7h-.7zM201.7 382.8h.7v.7h-.7zM191.3 374.3h.7v.7h-.7zM201.0 387.2h.7v.7h-.7zM207.3 395.6h.7v.7h-.7zM193.5 405.5h.7v.7h-.7zM205.5 397.0h.7v.7h-.7zM189.4 399.6h.7v.7h-.7zM205.2 422.6h.7v.7h-.7zM198.2 397.0h.7v.7h-.7zM197.9 412.3h.7v.7h-.7zM206.3 406.8h.7v.7h-.7zM205.5 389.7h.7v.7h-.7zM197.9 385.9h.7v.7h-.7zM195.3 396.6h.7v.7h-.7zM193.6 406.6h.7v.7h-.7zM208.5 403.6h.7v.7h-.7zM177.7 420.4h.7v.7h-.7zM192.6 401.8h.7v.7h-.7zM205.4 394.7h.7v.7h-.7zM197.9 394.2h.7v.7h-.7zM205.5 394.0h.7v.7h-.7zM188.7 410.0h.7v.7h-.7zM185.7 402.4h.7v.7h-.7zM201.8 395.5h.7v.7h-.7zM195.9 391.8h.7v.7h-.7zM193.9 394.1h.7v.7h-.7zM206.9 396.3h.7v.7h-.7zM218.1 387.7h.7v.7h-.7zM193.3 400.9h.7v.7h-.7zM197.2 405.2h.7v.7h-.7zM216.0 383.6h.7v.7h-.7zM180.7 408.7h.7v.7h-.7zM196.5 408.9h.7v.7h-.7zM202.4 397.7h.7v.7h-.7zM205.6 378.6h.7v.7h-.7zM207.8 411.5h.7v.7h-.7zM197.8 390.4h.7v.7h-.7zM180.0 406.2h.7v.7h-.7zM187.3 416.2h.7v.7h-.7zM206.9 400.3h.7v.7h-.7zM195.6 394.6h.7v.7h-.7zM208.0 410.4h.7v.7h-.7zM191.8 411.3h.7v.7h-.7zM204.5 398.8h.7v.7h-.7zM201.4 401.8h.7v.7h-.7zM204.3 389.3h.7v.7h-.7zM196.9 399.3h.7v.7h-.7zM193.9 403.2h.7v.7h-.7zM200.2 399.7h.7v.7h-.7zM216.0 391.3h.7v.7h-.7zM201.8 402.5h.7v.7h-.7zM206.9 397.3h.7v.7h-.7zM202.3 397.4h.7v.7h-.7zM193.2 396.8h.7v.7h-.7zM213.4 394.9h.7v.7h-.7zM206.9 393.0h.7v.7h-.7zM199.4 392.4h.7v.7h-.7zM194.6 413.5h.7v.7h-.7zM198.4 392.5h.7v.7h-.7zM202.9 409.5h.7v.7h-.7zM201.2 418.3h.7v.7h-.7zM218.5 401.3h.7v.7h-.7zM196.4 402.0h.7v.7h-.7zM198.7 401.1h.7v.7h-.7zM194.9 394.9h.7v.7h-.7zM201.9 384.5h.7v.7h-.7zM201.1 402.8h.7v.7h-.7zM195.0 398.9h.7v.7h-.7zM200.4 392.0h.7v.7h-.7zM193.0 405.9h.7v.7h-.7zM209.7 405.4h.7v.7h-.7zM200.3 409.3h.7v.7h-.7zM194.0 401.2h.7v.7h-.7zM200.4 400.2h.7v.7h-.7zM216.0 396.9h.7v.7h-.7zM205.1 407.1h.7v.7h-.7zM211.1 391.9h.7v.7h-.7zM201.8 406.3h.7v.7h-.7zM202.1 398.8h.7v.7h-.7zM203.1 401.4h.7v.7h-.7zM213.7 392.3h.7v.7h-.7zM205.5 402.3h.7v.7h-.7zM203.1 380.8h.7v.7h-.7zM200.8 379.0h.7v.7h-.7zM207.2 394.6h.7v.7h-.7zM210.6 385.7h.7v.7h-.7zM193.1 396.9h.7v.7h-.7zM198.2 409.7h.7v.7h-.7zM194.9 395.3h.7v.7h-.7zM198.9 388.9h.7v.7h-.7zM195.4 398.0h.7v.7h-.7zM218.7 389.4h.7v.7h-.7zM190.2 391.0h.7v.7h-.7zM202.6 394.5h.7v.7h-.7zM206.0 396.0h.7v.7h-.7zM204.4 402.9h.7v.7h-.7zM206.6 390.6h.7v.7h-.7zM195.4 397.6h.7v.7h-.7zM197.8 386.2h.7v.7h-.7zM195.2 394.5h.7v.7h-.7zM196.5 410.1h.7v.7h-.7zM200.7 396.8h.7v.7h-.7zM196.4 383.1h.7v.7h-.7zM202.0 398.2h.7v.7h-.7zM198.7 385.1h.7v.7h-.7zM205.9 391.6h.7v.7h-.7zM215.1 390.4h.7v.7h-.7zM216.7 401.1h.7v.7h-.7zM198.0 394.6h.7v.7h-.7zM193.0 395.1h.7v.7h-.7zM189.1 388.7h.7v.7h-.7zM202.7 398.9h.7v.7h-.7zM204.0 387.0h.7v.7h-.7zM204.4 382.5h.7v.7h-.7zM188.5 389.5h.7v.7h-.7zM191.5 399.1h.7v.7h-.7zM211.9 386.9h.7v.7h-.7zM197.7 407.2h.7v.7h-.7zM201.9 391.7h.7v.7h-.7zM198.9 395.0h.7v.7h-.7z" fill="#555" opacity="0.5"/>
<ellipse cx="203.10" cy="393.40" rx="22.84" ry="16.42" transform="rotate(-55 203.10 393.40)" fill="url(#halo)" opacity="0.55"/>
<ellipse cx="205.60" cy="390.40" rx="13.86" ry="5.68" transform="rotate(-55 205.60 390.40)" fill="none" stroke="#222" stroke-width="0.6" opacity="0.35"/>
<ellipse cx="205.60" cy="390.40" rx="12.07" ry="4.94" transform="rotate(-55 205.60 390.40)" fill="none" stroke="#222" stroke-width="0.6" opacity="0.5"/>
<ellipse cx="205.60" cy="390.40" rx="10.50" ry="4.30" transform="rotate(-55 205.60 390.40)" fill="none" stroke="#222" stroke-width="0.6" opacity="0.7"/>
<ellipse cx="205.60" cy="390.40" rx="9.45" ry="3.53" transform="rotate(-55 205.60 390.40)" fill="#141414" filter="url(#bl)"/>
<ellipse cx="206.10" cy="390.10" rx="3.57" ry="0.50" transform="rotate(-55 206.10 390.10)" fill="#fff" opacity="0.85"/>
</g>
<rect x="160.8" y="376.3" width="59.00" height="60.10" fill="none" stroke="#231f20" stroke-width="1.2"/>
<line x1="184.50" y1="376.30" x2="184.50" y2="436.40" stroke="#231f20" stroke-width="1.2"/>
<line x1="160.80" y1="412.50" x2="219.80" y2="412.50" stroke="#231f20" stroke-width="1.2"/>
<line x1="158.80" y1="382.50" x2="160.80" y2="382.50" stroke="#333" stroke-width="0.8"/>
<line x1="158.80" y1="396.50" x2="160.80" y2="396.50" stroke="#333" stroke-width="0.8"/>
<line x1="158.80" y1="412.50" x2="160.80" y2="412.50" stroke="#333" stroke-width="0.8"/>
<line x1="158.80" y1="432.50" x2="160.80" y2="432.50" stroke="#333" stroke-width="0.8"/>
<line x1="159.70" y1="388.50" x2="160.80" y2="388.50" stroke="#555" stroke-width="0.6"/>
<line x1="159.70" y1="391.50" x2="160.80" y2="391.50" stroke="#555" stroke-width="0.6"/>
<line x1="159.70" y1="403.50" x2="160.80" y2="403.50" stroke="#555" stroke-width="0.6"/>
<line x1="159.70" y1="406.50" x2="160.80" y2="406.50" stroke="#555" stroke-width="0.6"/>
<line x1="159.70" y1="409.50" x2="160.80" y2="409.50" stroke="#555" stroke-width="0.6"/>
<line x1="159.70" y1="418.50" x2="160.80" y2="418.50" stroke="#555" stroke-width="0.6"/>
<line x1="159.70" y1="423.50" x2="160.80" y2="423.50" stroke="#555" stroke-width="0.6"/>
<line x1="159.70" y1="427.50" x2="160.80" y2="427.50" stroke="#555" stroke-width="0.6"/>
<line x1="166.50" y1="436.40" x2="166.50" y2="437.80" stroke="#555" stroke-width="0.6"/>
<line x1="172.50" y1="436.40" x2="172.50" y2="437.80" stroke="#555" stroke-width="0.6"/>
<line x1="178.50" y1="436.40" x2="178.50" y2="437.80" stroke="#555" stroke-width="0.6"/>
<line x1="184.50" y1="436.40" x2="184.50" y2="437.80" stroke="#555" stroke-width="0.6"/>
<line x1="190.50" y1="436.40" x2="190.50" y2="437.80" stroke="#555" stroke-width="0.6"/>
<line x1="196.50" y1="436.40" x2="196.50" y2="437.80" stroke="#555" stroke-width="0.6"/>
<line x1="202.50" y1="436.40" x2="202.50" y2="437.80" stroke="#555" stroke-width="0.6"/>
<line x1="208.50" y1="436.40" x2="208.50" y2="437.80" stroke="#555" stroke-width="0.6"/>
<line x1="213.50" y1="436.40" x2="213.50" y2="437.80" stroke="#555" stroke-width="0.6"/>
<text transform="translate(162.80 384.80)" font-size="8.3" text-anchor="start" fill="#231f20" stroke="#231f20" stroke-width="0.22">0.62</text>
<text transform="translate(217.90 384.80)" font-size="8.3" text-anchor="end" fill="#231f20" stroke="#231f20" stroke-width="0.22">99.4</text>
<text transform="translate(163.00 435.10)" font-size="8.3" text-anchor="start" fill="#231f20" stroke="#231f20" stroke-width="0.22">0</text>
<text transform="translate(217.80 435.10)" font-size="8.3" text-anchor="end" fill="#231f20" stroke="#231f20" stroke-width="0.22">0</text>
<text transform="translate(156.70 406.30) rotate(-90)" font-size="8.0" text-anchor="middle" fill="#231f20" stroke="#231f20" stroke-width="0.22" textLength="19.60" lengthAdjust="spacingAndGlyphs">CD56</text>
<text transform="translate(191.10 447.80) scale(1.08 1)" font-size="7.2" text-anchor="middle" fill="#231f20" stroke="#231f20" stroke-width="0.22">LFA-1</text>
<clipPath id="c160_476"><rect x="160.8" y="476.6" width="59.00" height="57.90"/></clipPath>
<g clip-path="url(#c160_476)">
<path d="M194.0 495.0h.7v.7h-.7zM213.2 502.2h.7v.7h-.7zM209.9 487.2h.7v.7h-.7zM202.2 501.5h.7v.7h-.7zM211.6 492.8h.7v.7h-.7zM206.1 502.4h.7v.7h-.7zM208.4 500.4h.7v.7h-.7zM196.3 495.2h.7v.7h-.7zM210.8 499.5h.7v.7h-.7zM201.5 504.2h.7v.7h-.7zM207.3 490.5h.7v.7h-.7zM215.4 508.3h.7v.7h-.7zM215.2 495.4h.7v.7h-.7zM212.0 508.9h.7v.7h-.7zM197.1 506.4h.7v.7h-.7zM216.6 497.0h.7v.7h-.7zM198.9 501.2h.7v.7h-.7zM195.9 489.8h.7v.7h-.7zM211.8 495.1h.7v.7h-.7zM207.6 502.1h.7v.7h-.7zM210.8 493.4h.7v.7h-.7zM216.8 499.0h.7v.7h-.7zM205.4 501.0h.7v.7h-.7zM210.2 504.2h.7v.7h-.7zM207.4 501.6h.7v.7h-.7zM207.1 496.7h.7v.7h-.7zM212.1 486.1h.7v.7h-.7zM216.1 491.0h.7v.7h-.7zM210.1 488.4h.7v.7h-.7zM213.9 493.9h.7v.7h-.7zM205.5 502.2h.7v.7h-.7zM205.5 498.1h.7v.7h-.7zM206.9 486.7h.7v.7h-.7zM190.1 502.5h.7v.7h-.7zM200.9 498.2h.7v.7h-.7zM209.5 499.2h.7v.7h-.7zM214.4 487.2h.7v.7h-.7zM203.7 492.0h.7v.7h-.7zM216.0 498.1h.7v.7h-.7zM200.1 482.5h.7v.7h-.7zM218.4 496.9h.7v.7h-.7zM200.8 487.2h.7v.7h-.7zM208.4 501.3h.7v.7h-.7zM203.1 492.1h.7v.7h-.7zM208.4 506.2h.7v.7h-.7zM209.4 510.6h.7v.7h-.7zM208.0 498.3h.7v.7h-.7zM197.9 504.0h.7v.7h-.7zM200.4 488.2h.7v.7h-.7zM205.9 479.6h.7v.7h-.7zM202.0 505.3h.7v.7h-.7zM212.1 496.7h.7v.7h-.7zM203.7 499.1h.7v.7h-.7zM202.1 497.0h.7v.7h-.7zM202.2 516.9h.7v.7h-.7zM208.0 496.3h.7v.7h-.7zM205.3 502.2h.7v.7h-.7zM205.7 497.2h.7v.7h-.7zM200.5 484.8h.7v.7h-.7zM201.1 492.3h.7v.7h-.7zM213.5 504.3h.7v.7h-.7zM201.7 504.0h.7v.7h-.7zM209.4 504.3h.7v.7h-.7zM193.1 498.1h.7v.7h-.7zM206.1 493.0h.7v.7h-.7zM211.1 502.9h.7v.7h-.7zM200.8 501.8h.7v.7h-.7zM209.1 497.8h.7v.7h-.7zM210.1 504.1h.7v.7h-.7zM212.1 481.8h.7v.7h-.7zM201.2 478.7h.7v.7h-.7zM209.4 487.3h.7v.7h-.7zM204.8 495.4h.7v.7h-.7zM196.7 497.3h.7v.7h-.7zM212.1 504.1h.7v.7h-.7zM208.4 489.0h.7v.7h-.7zM200.3 498.5h.7v.7h-.7zM212.0 510.9h.7v.7h-.7zM209.3 493.6h.7v.7h-.7zM198.6 497.2h.7v.7h-.7zM215.4 491.6h.7v.7h-.7zM208.3 506.7h.7v.7h-.7zM205.8 506.5h.7v.7h-.7zM200.3 502.2h.7v.7h-.7zM210.5 495.7h.7v.7h-.7zM205.2 488.3h.7v.7h-.7zM219.6 491.7h.7v.7h-.7zM208.8 499.0h.7v.7h-.7zM202.5 501.8h.7v.7h-.7zM201.9 506.1h.7v.7h-.7zM214.5 500.5h.7v.7h-.7zM214.3 494.0h.7v.7h-.7zM203.6 499.0h.7v.7h-.7zM206.2 500.3h.7v.7h-.7zM203.5 512.2h.7v.7h-.7zM197.5 505.7h.7v.7h-.7zM203.4 495.6h.7v.7h-.7zM211.7 486.5h.7v.7h-.7zM218.6 491.2h.7v.7h-.7zM206.6 501.9h.7v.7h-.7zM209.1 488.1h.7v.7h-.7zM203.4 495.0h.7v.7h-.7zM204.4 495.9h.7v.7h-.7zM212.2 500.1h.7v.7h-.7zM212.1 489.0h.7v.7h-.7zM211.8 498.9h.7v.7h-.7zM199.2 495.8h.7v.7h-.7zM205.0 487.3h.7v.7h-.7zM204.2 488.4h.7v.7h-.7zM207.0 482.4h.7v.7h-.7zM217.8 496.9h.7v.7h-.7zM211.0 508.3h.7v.7h-.7zM193.2 496.9h.7v.7h-.7zM212.8 495.1h.7v.7h-.7zM191.2 490.5h.7v.7h-.7zM204.3 496.8h.7v.7h-.7zM203.2 498.9h.7v.7h-.7zM196.4 506.9h.7v.7h-.7zM221.5 491.0h.7v.7h-.7zM200.9 497.4h.7v.7h-.7zM213.6 498.3h.7v.7h-.7zM202.3 489.0h.7v.7h-.7zM207.6 496.8h.7v.7h-.7zM218.2 492.2h.7v.7h-.7zM215.0 498.0h.7v.7h-.7zM213.4 504.9h.7v.7h-.7zM206.9 501.4h.7v.7h-.7zM204.4 488.6h.7v.7h-.7zM193.7 496.1h.7v.7h-.7zM206.5 496.2h.7v.7h-.7zM207.8 501.1h.7v.7h-.7zM198.3 510.8h.7v.7h-.7zM205.0 496.0h.7v.7h-.7zM219.0 498.1h.7v.7h-.7zM199.3 497.2h.7v.7h-.7zM204.5 501.5h.7v.7h-.7zM203.5 490.9h.7v.7h-.7zM204.1 487.7h.7v.7h-.7zM211.6 493.5h.7v.7h-.7zM220.1 501.5h.7v.7h-.7zM204.3 498.5h.7v.7h-.7zM212.8 497.2h.7v.7h-.7zM202.8 506.8h.7v.7h-.7zM207.0 504.2h.7v.7h-.7zM211.5 488.9h.7v.7h-.7zM206.8 498.7h.7v.7h-.7zM199.7 518.7h.7v.7h-.7zM209.2 494.4h.7v.7h-.7zM200.6 497.5h.7v.7h-.7zM212.4 502.5h.7v.7h-.7zM213.4 502.4h.7v.7h-.7zM194.2 512.2h.7v.7h-.7zM207.1 495.6h.7v.7h-.7zM196.4 505.8h.7v.7h-.7zM203.5 485.3h.7v.7h-.7zM196.4 500.1h.7v.7h-.7zM207.8 503.0h.7v.7h-.7zM196.9 487.0h.7v.7h-.7zM208.2 486.2h.7v.7h-.7zM213.4 506.6h.7v.7h-.7zM198.9 493.9h.7v.7h-.7zM199.8 499.1h.7v.7h-.7zM200.6 502.7h.7v.7h-.7zM211.4 493.0h.7v.7h-.7zM216.8 515.2h.7v.7h-.7zM203.2 504.1h.7v.7h-.7zM210.6 499.7h.7v.7h-.7zM207.6 501.0h.7v.7h-.7zM214.5 484.3h.7v.7h-.7zM204.1 505.3h.7v.7h-.7zM201.2 501.3h.7v.7h-.7zM208.8 497.3h.7v.7h-.7zM209.9 502.0h.7v.7h-.7zM198.1 494.4h.7v.7h-.7zM207.4 490.6h.7v.7h-.7zM207.0 487.6h.7v.7h-.7zM210.1 494.8h.7v.7h-.7zM187.9 509.7h.7v.7h-.7zM210.0 509.1h.7v.7h-.7zM204.4 512.4h.7v.7h-.7zM213.0 492.1h.7v.7h-.7zM205.9 491.5h.7v.7h-.7zM207.4 498.2h.7v.7h-.7zM211.7 497.0h.7v.7h-.7zM201.5 496.4h.7v.7h-.7zM206.5 502.3h.7v.7h-.7zM193.0 503.9h.7v.7h-.7zM201.6 498.2h.7v.7h-.7zM190.2 490.5h.7v.7h-.7zM203.5 498.7h.7v.7h-.7zM197.9 486.0h.7v.7h-.7zM207.8 500.9h.7v.7h-.7zM214.7 498.2h.7v.7h-.7zM204.2 487.3h.7v.7h-.7zM206.6 492.3h.7v.7h-.7zM211.9 507.5h.7v.7h-.7zM199.1 498.6h.7v.7h-.7zM199.9 497.2h.7v.7h-.7zM212.0 492.2h.7v.7h-.7zM213.7 489.8h.7v.7h-.7zM209.9 504.7h.7v.7h-.7zM201.2 500.1h.7v.7h-.7zM205.8 498.6h.7v.7h-.7zM207.2 487.8h.7v.7h-.7zM207.3 495.1h.7v.7h-.7zM195.4 501.8h.7v.7h-.7zM207.7 500.1h.7v.7h-.7zM210.1 496.9h.7v.7h-.7zM203.8 495.6h.7v.7h-.7zM202.1 491.4h.7v.7h-.7zM199.4 504.9h.7v.7h-.7zM198.0 504.8h.7v.7h-.7zM200.3 500.4h.7v.7h-.7zM201.5 495.1h.7v.7h-.7zM195.0 494.5h.7v.7h-.7zM201.8 493.6h.7v.7h-.7zM191.7 485.6h.7v.7h-.7zM204.6 503.3h.7v.7h-.7zM195.2 511.8h.7v.7h-.7zM207.1 497.1h.7v.7h-.7zM202.0 507.7h.7v.7h-.7zM201.2 493.3h.7v.7h-.7zM208.7 492.5h.7v.7h-.7zM203.7 495.8h.7v.7h-.7zM208.8 494.2h.7v.7h-.7zM213.0 491.6h.7v.7h-.7zM202.7 500.6h.7v.7h-.7zM207.5 490.3h.7v.7h-.7zM210.6 496.7h.7v.7h-.7zM192.3 490.9h.7v.7h-.7zM207.9 497.3h.7v.7h-.7zM202.4 494.0h.7v.7h-.7zM209.9 489.2h.7v.7h-.7zM199.8 499.0h.7v.7h-.7zM201.3 491.5h.7v.7h-.7zM213.9 510.4h.7v.7h-.7zM217.0 492.5h.7v.7h-.7zM214.6 490.6h.7v.7h-.7zM206.8 512.1h.7v.7h-.7zM213.6 491.1h.7v.7h-.7z" fill="#555" opacity="0.5"/>
<ellipse cx="208.20" cy="493.90" rx="17.87" ry="15.22" transform="rotate(-60 208.20 493.90)" fill="url(#halo)" opacity="0.55"/>
<ellipse cx="210.20" cy="490.40" rx="11.22" ry="5.28" transform="rotate(-60 210.20 490.40)" fill="none" stroke="#222" stroke-width="0.6" opacity="0.35"/>
<ellipse cx="210.20" cy="490.40" rx="9.77" ry="4.60" transform="rotate(-60 210.20 490.40)" fill="none" stroke="#222" stroke-width="0.6" opacity="0.5"/>
<ellipse cx="210.20" cy="490.40" rx="8.50" ry="4.00" transform="rotate(-60 210.20 490.40)" fill="none" stroke="#222" stroke-width="0.6" opacity="0.7"/>
<ellipse cx="210.20" cy="490.40" rx="7.65" ry="3.28" transform="rotate(-60 210.20 490.40)" fill="#141414" filter="url(#bl)"/>
<ellipse cx="210.70" cy="490.10" rx="2.89" ry="0.50" transform="rotate(-60 210.70 490.10)" fill="#fff" opacity="0.85"/>
</g>
<rect x="160.8" y="476.6" width="59.00" height="57.90" fill="none" stroke="#231f20" stroke-width="1.2"/>
<line x1="184.50" y1="476.60" x2="184.50" y2="534.50" stroke="#231f20" stroke-width="1.2"/>
<line x1="160.80" y1="512.50" x2="219.80" y2="512.50" stroke="#231f20" stroke-width="1.2"/>
<line x1="158.80" y1="482.50" x2="160.80" y2="482.50" stroke="#333" stroke-width="0.8"/>
<line x1="158.80" y1="495.50" x2="160.80" y2="495.50" stroke="#333" stroke-width="0.8"/>
<line x1="158.80" y1="512.50" x2="160.80" y2="512.50" stroke="#333" stroke-width="0.8"/>
<line x1="158.80" y1="530.50" x2="160.80" y2="530.50" stroke="#333" stroke-width="0.8"/>
<line x1="159.70" y1="488.50" x2="160.80" y2="488.50" stroke="#555" stroke-width="0.6"/>
<line x1="159.70" y1="491.50" x2="160.80" y2="491.50" stroke="#555" stroke-width="0.6"/>
<line x1="159.70" y1="502.50" x2="160.80" y2="502.50" stroke="#555" stroke-width="0.6"/>
<line x1="159.70" y1="505.50" x2="160.80" y2="505.50" stroke="#555" stroke-width="0.6"/>
<line x1="159.70" y1="508.50" x2="160.80" y2="508.50" stroke="#555" stroke-width="0.6"/>
<line x1="159.70" y1="517.50" x2="160.80" y2="517.50" stroke="#555" stroke-width="0.6"/>
<line x1="159.70" y1="521.50" x2="160.80" y2="521.50" stroke="#555" stroke-width="0.6"/>
<line x1="159.70" y1="525.50" x2="160.80" y2="525.50" stroke="#555" stroke-width="0.6"/>
<line x1="166.50" y1="534.50" x2="166.50" y2="535.90" stroke="#555" stroke-width="0.6"/>
<line x1="172.50" y1="534.50" x2="172.50" y2="535.90" stroke="#555" stroke-width="0.6"/>
<line x1="178.50" y1="534.50" x2="178.50" y2="535.90" stroke="#555" stroke-width="0.6"/>
<line x1="184.50" y1="534.50" x2="184.50" y2="535.90" stroke="#555" stroke-width="0.6"/>
<line x1="190.50" y1="534.50" x2="190.50" y2="535.90" stroke="#555" stroke-width="0.6"/>
<line x1="196.50" y1="534.50" x2="196.50" y2="535.90" stroke="#555" stroke-width="0.6"/>
<line x1="202.50" y1="534.50" x2="202.50" y2="535.90" stroke="#555" stroke-width="0.6"/>
<line x1="208.50" y1="534.50" x2="208.50" y2="535.90" stroke="#555" stroke-width="0.6"/>
<line x1="213.50" y1="534.50" x2="213.50" y2="535.90" stroke="#555" stroke-width="0.6"/>
<text transform="translate(162.80 485.10)" font-size="8.3" text-anchor="start" fill="#231f20" stroke="#231f20" stroke-width="0.22">0.09</text>
<text transform="translate(217.90 485.10)" font-size="8.3" text-anchor="end" fill="#231f20" stroke="#231f20" stroke-width="0.22">99.9</text>
<text transform="translate(163.00 533.20)" font-size="8.3" text-anchor="start" fill="#231f20" stroke="#231f20" stroke-width="0.22">0</text>
<text transform="translate(217.80 533.20)" font-size="8.3" text-anchor="end" fill="#231f20" stroke="#231f20" stroke-width="0.22">0</text>
<text transform="translate(156.70 506.60) rotate(-90)" font-size="8.0" text-anchor="middle" fill="#231f20" stroke="#231f20" stroke-width="0.22" textLength="19.60" lengthAdjust="spacingAndGlyphs">CD56</text>
<text transform="translate(191.10 547.40) scale(1.08 1)" font-size="7.2" text-anchor="middle" fill="#231f20" stroke="#231f20" stroke-width="0.22">LFA-1</text>
<clipPath id="c234_376"><rect x="234.5" y="376.3" width="59.50" height="60.10"/></clipPath>
<g clip-path="url(#c234_376)">
<path d="M244.7 404.9h.7v.7h-.7zM265.5 383.3h.7v.7h-.7zM259.4 395.4h.7v.7h-.7zM258.7 398.2h.7v.7h-.7zM258.9 395.0h.7v.7h-.7zM253.1 380.8h.7v.7h-.7zM257.2 414.5h.7v.7h-.7zM262.0 398.4h.7v.7h-.7zM269.7 398.4h.7v.7h-.7zM259.1 385.1h.7v.7h-.7zM251.5 378.1h.7v.7h-.7zM257.4 397.2h.7v.7h-.7zM240.3 398.7h.7v.7h-.7zM266.2 396.9h.7v.7h-.7zM247.6 389.3h.7v.7h-.7zM239.3 389.8h.7v.7h-.7zM266.0 402.6h.7v.7h-.7zM251.3 403.3h.7v.7h-.7zM258.4 386.1h.7v.7h-.7zM266.5 367.3h.7v.7h-.7zM256.5 392.3h.7v.7h-.7zM277.5 395.9h.7v.7h-.7zM274.1 384.6h.7v.7h-.7zM267.6 396.6h.7v.7h-.7zM261.3 391.5h.7v.7h-.7zM253.9 388.6h.7v.7h-.7zM252.1 407.3h.7v.7h-.7zM247.4 378.4h.7v.7h-.7zM258.3 389.7h.7v.7h-.7zM262.6 402.1h.7v.7h-.7zM254.9 389.3h.7v.7h-.7zM250.6 392.9h.7v.7h-.7zM253.6 393.4h.7v.7h-.7zM281.5 383.6h.7v.7h-.7zM254.9 406.1h.7v.7h-.7zM265.2 393.4h.7v.7h-.7zM264.1 393.9h.7v.7h-.7zM265.3 397.9h.7v.7h-.7zM267.7 396.4h.7v.7h-.7zM252.5 392.2h.7v.7h-.7zM253.3 399.3h.7v.7h-.7zM261.6 385.1h.7v.7h-.7zM267.9 406.2h.7v.7h-.7zM262.9 379.5h.7v.7h-.7zM257.4 395.2h.7v.7h-.7zM257.2 393.4h.7v.7h-.7zM266.4 389.2h.7v.7h-.7zM249.9 398.8h.7v.7h-.7zM256.0 391.8h.7v.7h-.7zM248.4 383.4h.7v.7h-.7zM245.9 392.2h.7v.7h-.7zM240.9 376.1h.7v.7h-.7zM262.1 379.5h.7v.7h-.7zM252.2 396.5h.7v.7h-.7zM241.4 407.0h.7v.7h-.7zM252.2 397.4h.7v.7h-.7zM253.5 394.2h.7v.7h-.7zM257.2 390.4h.7v.7h-.7zM238.4 386.7h.7v.7h-.7zM259.8 400.1h.7v.7h-.7zM253.6 395.9h.7v.7h-.7zM258.9 393.4h.7v.7h-.7zM260.0 377.7h.7v.7h-.7zM258.0 388.7h.7v.7h-.7zM251.7 386.0h.7v.7h-.7zM247.6 386.4h.7v.7h-.7zM254.6 410.7h.7v.7h-.7zM269.5 385.5h.7v.7h-.7zM259.5 382.0h.7v.7h-.7zM230.1 387.4h.7v.7h-.7zM261.3 399.7h.7v.7h-.7zM253.4 384.2h.7v.7h-.7zM251.9 384.9h.7v.7h-.7zM245.0 393.5h.7v.7h-.7zM251.2 386.6h.7v.7h-.7zM247.1 387.3h.7v.7h-.7zM261.9 399.1h.7v.7h-.7zM260.7 406.1h.7v.7h-.7zM244.7 397.5h.7v.7h-.7zM247.1 393.2h.7v.7h-.7zM258.7 394.1h.7v.7h-.7zM263.6 383.5h.7v.7h-.7zM246.3 393.3h.7v.7h-.7zM256.8 385.2h.7v.7h-.7zM267.8 399.0h.7v.7h-.7zM246.4 397.5h.7v.7h-.7zM259.1 374.9h.7v.7h-.7zM257.4 388.6h.7v.7h-.7zM248.9 403.8h.7v.7h-.7zM256.8 386.9h.7v.7h-.7zM261.5 393.6h.7v.7h-.7zM263.9 392.1h.7v.7h-.7zM256.4 381.7h.7v.7h-.7zM253.5 392.9h.7v.7h-.7zM240.8 413.4h.7v.7h-.7zM250.7 384.9h.7v.7h-.7zM243.1 398.0h.7v.7h-.7zM255.1 386.8h.7v.7h-.7zM250.8 386.1h.7v.7h-.7zM250.4 392.4h.7v.7h-.7zM253.2 397.2h.7v.7h-.7zM255.7 392.0h.7v.7h-.7zM262.9 397.8h.7v.7h-.7zM261.6 390.3h.7v.7h-.7zM253.0 385.9h.7v.7h-.7zM255.6 396.3h.7v.7h-.7zM257.1 387.4h.7v.7h-.7zM242.1 384.7h.7v.7h-.7zM261.6 396.5h.7v.7h-.7zM255.6 380.5h.7v.7h-.7zM255.4 392.8h.7v.7h-.7zM250.2 395.8h.7v.7h-.7zM252.6 385.8h.7v.7h-.7zM249.0 399.9h.7v.7h-.7zM256.8 383.7h.7v.7h-.7zM251.0 399.7h.7v.7h-.7zM260.2 386.8h.7v.7h-.7zM267.9 383.8h.7v.7h-.7zM251.2 401.2h.7v.7h-.7zM255.9 393.6h.7v.7h-.7zM254.0 384.0h.7v.7h-.7zM246.7 393.1h.7v.7h-.7zM264.6 379.7h.7v.7h-.7zM267.4 387.9h.7v.7h-.7zM248.5 395.9h.7v.7h-.7zM258.4 383.0h.7v.7h-.7zM241.0 399.7h.7v.7h-.7zM249.0 397.1h.7v.7h-.7zM241.3 395.7h.7v.7h-.7zM246.2 383.5h.7v.7h-.7zM255.0 392.6h.7v.7h-.7zM249.0 384.7h.7v.7h-.7zM253.4 378.5h.7v.7h-.7zM261.8 392.3h.7v.7h-.7zM271.6 391.3h.7v.7h-.7zM259.8 391.3h.7v.7h-.7zM253.1 381.9h.7v.7h-.7zM269.0 389.6h.7v.7h-.7zM251.2 384.1h.7v.7h-.7zM269.2 389.6h.7v.7h-.7zM249.1 398.8h.7v.7h-.7zM270.9 384.7h.7v.7h-.7zM258.4 386.7h.7v.7h-.7zM254.4 399.7h.7v.7h-.7zM280.4 381.9h.7v.7h-.7zM257.6 396.3h.7v.7h-.7zM256.0 396.4h.7v.7h-.7zM260.1 381.5h.7v.7h-.7zM248.0 393.5h.7v.7h-.7zM263.5 389.9h.7v.7h-.7zM262.3 377.8h.7v.7h-.7zM258.5 385.1h.7v.7h-.7zM258.0 392.5h.7v.7h-.7zM248.3 392.2h.7v.7h-.7zM248.2 396.1h.7v.7h-.7zM248.6 390.1h.7v.7h-.7zM256.3 385.7h.7v.7h-.7zM263.5 383.0h.7v.7h-.7zM263.7 389.9h.7v.7h-.7zM247.9 392.5h.7v.7h-.7zM249.0 390.9h.7v.7h-.7zM259.1 403.5h.7v.7h-.7zM257.3 402.3h.7v.7h-.7zM256.4 380.7h.7v.7h-.7zM240.5 402.3h.7v.7h-.7zM243.0 401.6h.7v.7h-.7zM265.3 390.1h.7v.7h-.7zM254.1 389.7h.7v.7h-.7zM257.6 387.9h.7v.7h-.7zM251.3 389.9h.7v.7h-.7zM263.7 383.0h.7v.7h-.7zM256.3 382.0h.7v.7h-.7zM247.3 383.9h.7v.7h-.7zM256.7 395.8h.7v.7h-.7zM257.4 386.5h.7v.7h-.7zM260.2 386.5h.7v.7h-.7zM260.0 391.3h.7v.7h-.7zM254.0 372.8h.7v.7h-.7zM248.5 399.8h.7v.7h-.7zM261.5 405.7h.7v.7h-.7zM253.1 387.8h.7v.7h-.7zM269.3 389.7h.7v.7h-.7zM272.3 388.2h.7v.7h-.7zM256.8 396.1h.7v.7h-.7zM249.2 390.2h.7v.7h-.7zM251.6 391.0h.7v.7h-.7zM261.1 385.1h.7v.7h-.7zM257.5 386.4h.7v.7h-.7zM255.9 369.9h.7v.7h-.7zM255.3 392.4h.7v.7h-.7zM250.8 400.7h.7v.7h-.7zM261.4 398.4h.7v.7h-.7zM265.4 391.9h.7v.7h-.7zM252.4 384.1h.7v.7h-.7zM253.5 388.4h.7v.7h-.7zM257.1 386.9h.7v.7h-.7zM275.5 370.8h.7v.7h-.7zM264.1 384.0h.7v.7h-.7zM257.0 397.5h.7v.7h-.7zM253.2 382.8h.7v.7h-.7zM259.0 388.1h.7v.7h-.7zM241.2 398.3h.7v.7h-.7zM246.4 389.1h.7v.7h-.7zM260.9 391.2h.7v.7h-.7zM259.9 405.8h.7v.7h-.7zM258.0 385.4h.7v.7h-.7zM257.9 389.2h.7v.7h-.7zM235.4 387.2h.7v.7h-.7zM251.2 408.5h.7v.7h-.7zM254.3 389.5h.7v.7h-.7zM254.7 398.8h.7v.7h-.7zM261.1 401.7h.7v.7h-.7zM266.8 399.0h.7v.7h-.7zM256.5 393.5h.7v.7h-.7zM252.7 390.9h.7v.7h-.7zM241.7 392.2h.7v.7h-.7zM247.4 389.4h.7v.7h-.7zM266.4 388.7h.7v.7h-.7zM268.0 392.5h.7v.7h-.7zM266.1 394.4h.7v.7h-.7zM253.9 397.8h.7v.7h-.7zM252.5 388.2h.7v.7h-.7zM271.2 401.1h.7v.7h-.7zM253.5 405.0h.7v.7h-.7zM260.5 382.6h.7v.7h-.7zM259.5 392.3h.7v.7h-.7zM258.3 387.2h.7v.7h-.7zM246.7 394.9h.7v.7h-.7zM265.0 393.2h.7v.7h-.7zM264.3 395.8h.7v.7h-.7zM248.7 393.5h.7v.7h-.7zM261.6 396.2h.7v.7h-.7zM259.0 393.6h.7v.7h-.7zM262.9 404.0h.7v.7h-.7zM239.7 397.3h.7v.7h-.7zM275.9 384.6h.7v.7h-.7zM242.8 397.2h.7v.7h-.7zM243.7 390.7h.7v.7h-.7zM262.6 401.2h.7v.7h-.7zM261.7 393.6h.7v.7h-.7z" fill="#555" opacity="0.5"/>
<ellipse cx="257.90" cy="389.70" rx="19.94" ry="15.35" transform="rotate(-22 257.90 389.70)" fill="url(#halo)" opacity="0.55"/>
<ellipse cx="259.40" cy="388.70" rx="16.25" ry="8.19" transform="rotate(-22 259.40 388.70)" fill="none" stroke="#222" stroke-width="0.6" opacity="0.35"/>
<ellipse cx="259.40" cy="388.70" rx="14.12" ry="7.12" transform="rotate(-22 259.40 388.70)" fill="none" stroke="#222" stroke-width="0.6" opacity="0.5"/>
<ellipse cx="259.40" cy="388.70" rx="12.25" ry="6.17" transform="rotate(-22 259.40 388.70)" fill="none" stroke="#222" stroke-width="0.6" opacity="0.6"/>
<ellipse cx="259.40" cy="388.70" rx="10.00" ry="4.72" transform="rotate(-22 259.40 388.70)" fill="#333" opacity="0.55" filter="url(#bl)"/>
<ellipse cx="259.40" cy="388.70" rx="7.75" ry="3.65" transform="rotate(-22 259.40 388.70)" fill="none" stroke="#111" stroke-width="1.3" opacity="0.75" filter="url(#bl)"/>
<ellipse cx="259.90" cy="388.30" rx="4.00" ry="1.39" transform="rotate(-22 259.90 388.30)" fill="#fff" opacity="0.95"/>
</g>
<rect x="234.5" y="376.3" width="59.50" height="60.10" fill="none" stroke="#231f20" stroke-width="1.2"/>
<line x1="255.50" y1="376.30" x2="255.50" y2="436.40" stroke="#231f20" stroke-width="1.2"/>
<line x1="234.50" y1="411.50" x2="294.00" y2="411.50" stroke="#231f20" stroke-width="1.2"/>
<line x1="232.50" y1="382.50" x2="234.50" y2="382.50" stroke="#333" stroke-width="0.8"/>
<line x1="232.50" y1="396.50" x2="234.50" y2="396.50" stroke="#333" stroke-width="0.8"/>
<line x1="232.50" y1="411.50" x2="234.50" y2="411.50" stroke="#333" stroke-width="0.8"/>
<line x1="232.50" y1="432.50" x2="234.50" y2="432.50" stroke="#333" stroke-width="0.8"/>
<line x1="233.40" y1="388.50" x2="234.50" y2="388.50" stroke="#555" stroke-width="0.6"/>
<line x1="233.40" y1="391.50" x2="234.50" y2="391.50" stroke="#555" stroke-width="0.6"/>
<line x1="233.40" y1="403.50" x2="234.50" y2="403.50" stroke="#555" stroke-width="0.6"/>
<line x1="233.40" y1="406.50" x2="234.50" y2="406.50" stroke="#555" stroke-width="0.6"/>
<line x1="233.40" y1="409.50" x2="234.50" y2="409.50" stroke="#555" stroke-width="0.6"/>
<line x1="233.40" y1="418.50" x2="234.50" y2="418.50" stroke="#555" stroke-width="0.6"/>
<line x1="233.40" y1="423.50" x2="234.50" y2="423.50" stroke="#555" stroke-width="0.6"/>
<line x1="233.40" y1="427.50" x2="234.50" y2="427.50" stroke="#555" stroke-width="0.6"/>
<line x1="240.50" y1="436.40" x2="240.50" y2="437.80" stroke="#555" stroke-width="0.6"/>
<line x1="246.50" y1="436.40" x2="246.50" y2="437.80" stroke="#555" stroke-width="0.6"/>
<line x1="252.50" y1="436.40" x2="252.50" y2="437.80" stroke="#555" stroke-width="0.6"/>
<line x1="255.50" y1="436.40" x2="255.50" y2="437.80" stroke="#555" stroke-width="0.6"/>
<line x1="264.50" y1="436.40" x2="264.50" y2="437.80" stroke="#555" stroke-width="0.6"/>
<line x1="270.50" y1="436.40" x2="270.50" y2="437.80" stroke="#555" stroke-width="0.6"/>
<line x1="276.50" y1="436.40" x2="276.50" y2="437.80" stroke="#555" stroke-width="0.6"/>
<line x1="282.50" y1="436.40" x2="282.50" y2="437.80" stroke="#555" stroke-width="0.6"/>
<line x1="288.50" y1="436.40" x2="288.50" y2="437.80" stroke="#555" stroke-width="0.6"/>
<text transform="translate(236.50 384.80)" font-size="8.3" text-anchor="start" fill="#231f20" stroke="#231f20" stroke-width="0.22">24.5</text>
<text transform="translate(292.10 384.80)" font-size="8.3" text-anchor="end" fill="#231f20" stroke="#231f20" stroke-width="0.22">75.5</text>
<text transform="translate(236.70 435.10)" font-size="8.3" text-anchor="start" fill="#231f20" stroke="#231f20" stroke-width="0.22">0</text>
<text transform="translate(292.00 435.10)" font-size="8.3" text-anchor="end" fill="#231f20" stroke="#231f20" stroke-width="0.22">0</text>
<text transform="translate(230.40 406.30) rotate(-90)" font-size="8.0" text-anchor="middle" fill="#231f20" stroke="#231f20" stroke-width="0.22" textLength="19.60" lengthAdjust="spacingAndGlyphs">CD56</text>
<text transform="translate(265.05 447.80) scale(1.08 1)" font-size="7.2" text-anchor="middle" fill="#231f20" stroke="#231f20" stroke-width="0.22">NKG2D</text>
<clipPath id="c234_476"><rect x="234.5" y="476.6" width="59.50" height="57.90"/></clipPath>
<g clip-path="url(#c234_476)">
<path d="M269.0 493.5h.7v.7h-.7zM250.7 493.8h.7v.7h-.7zM261.7 490.2h.7v.7h-.7zM252.1 491.1h.7v.7h-.7zM243.1 486.3h.7v.7h-.7zM257.6 490.1h.7v.7h-.7zM261.6 506.2h.7v.7h-.7zM261.8 492.5h.7v.7h-.7zM246.1 485.3h.7v.7h-.7zM261.1 484.6h.7v.7h-.7zM261.3 482.6h.7v.7h-.7zM260.2 492.4h.7v.7h-.7zM267.8 488.0h.7v.7h-.7zM255.9 496.2h.7v.7h-.7zM262.3 508.9h.7v.7h-.7zM255.7 488.8h.7v.7h-.7zM256.8 498.2h.7v.7h-.7zM262.3 499.3h.7v.7h-.7zM250.0 518.6h.7v.7h-.7zM276.4 489.9h.7v.7h-.7zM247.8 496.8h.7v.7h-.7zM259.3 471.9h.7v.7h-.7zM256.7 479.6h.7v.7h-.7zM265.6 505.3h.7v.7h-.7zM266.3 477.6h.7v.7h-.7zM273.5 499.4h.7v.7h-.7zM256.4 498.6h.7v.7h-.7zM272.8 487.7h.7v.7h-.7zM257.9 488.1h.7v.7h-.7zM266.4 471.4h.7v.7h-.7zM270.8 482.0h.7v.7h-.7zM265.1 476.7h.7v.7h-.7zM249.2 489.3h.7v.7h-.7zM264.2 476.9h.7v.7h-.7zM263.7 486.4h.7v.7h-.7zM270.2 488.3h.7v.7h-.7zM263.3 490.9h.7v.7h-.7zM275.4 487.0h.7v.7h-.7zM262.0 511.7h.7v.7h-.7zM260.9 499.5h.7v.7h-.7zM252.4 496.4h.7v.7h-.7zM237.7 498.1h.7v.7h-.7zM250.4 480.5h.7v.7h-.7zM247.5 506.2h.7v.7h-.7zM260.6 478.5h.7v.7h-.7zM275.0 483.8h.7v.7h-.7zM255.9 496.2h.7v.7h-.7zM245.6 480.2h.7v.7h-.7zM253.9 505.5h.7v.7h-.7zM265.4 477.1h.7v.7h-.7zM270.4 491.6h.7v.7h-.7zM263.8 492.9h.7v.7h-.7zM261.3 483.3h.7v.7h-.7zM249.3 488.3h.7v.7h-.7zM256.5 499.7h.7v.7h-.7zM250.1 510.1h.7v.7h-.7zM252.1 488.9h.7v.7h-.7zM266.4 496.1h.7v.7h-.7zM254.0 484.0h.7v.7h-.7zM246.9 480.2h.7v.7h-.7zM271.6 501.4h.7v.7h-.7zM277.5 494.8h.7v.7h-.7zM263.4 499.8h.7v.7h-.7zM267.6 489.3h.7v.7h-.7zM265.9 512.7h.7v.7h-.7zM240.7 483.1h.7v.7h-.7zM251.1 501.9h.7v.7h-.7zM269.7 488.2h.7v.7h-.7zM265.3 491.7h.7v.7h-.7zM261.0 487.8h.7v.7h-.7zM258.7 493.3h.7v.7h-.7zM273.3 512.1h.7v.7h-.7zM242.7 501.3h.7v.7h-.7zM260.5 502.3h.7v.7h-.7zM270.3 498.8h.7v.7h-.7zM265.1 483.1h.7v.7h-.7zM245.6 511.6h.7v.7h-.7zM268.9 482.5h.7v.7h-.7zM272.3 497.3h.7v.7h-.7zM237.2 505.7h.7v.7h-.7zM251.6 505.8h.7v.7h-.7zM251.3 487.5h.7v.7h-.7zM244.0 493.9h.7v.7h-.7zM267.5 485.4h.7v.7h-.7zM244.9 516.3h.7v.7h-.7zM277.6 496.6h.7v.7h-.7zM251.9 483.0h.7v.7h-.7zM244.4 501.2h.7v.7h-.7zM269.6 481.3h.7v.7h-.7zM258.5 490.7h.7v.7h-.7zM257.4 498.4h.7v.7h-.7zM277.8 483.9h.7v.7h-.7zM268.8 502.0h.7v.7h-.7zM256.1 492.4h.7v.7h-.7zM248.1 505.5h.7v.7h-.7zM252.9 488.1h.7v.7h-.7zM258.2 485.2h.7v.7h-.7zM248.6 492.3h.7v.7h-.7zM272.8 488.9h.7v.7h-.7zM261.6 478.8h.7v.7h-.7zM243.5 513.4h.7v.7h-.7zM252.7 479.7h.7v.7h-.7zM259.0 499.1h.7v.7h-.7zM241.2 488.0h.7v.7h-.7zM260.0 484.3h.7v.7h-.7zM268.1 500.9h.7v.7h-.7zM262.5 488.6h.7v.7h-.7zM257.5 487.5h.7v.7h-.7zM258.3 496.5h.7v.7h-.7zM257.7 502.8h.7v.7h-.7zM282.7 483.9h.7v.7h-.7zM263.6 500.4h.7v.7h-.7zM264.7 490.0h.7v.7h-.7zM256.1 503.4h.7v.7h-.7zM265.8 497.0h.7v.7h-.7zM252.4 500.5h.7v.7h-.7zM266.2 490.3h.7v.7h-.7zM268.7 512.4h.7v.7h-.7zM242.2 502.1h.7v.7h-.7zM245.6 482.6h.7v.7h-.7zM257.7 498.8h.7v.7h-.7zM257.6 482.4h.7v.7h-.7zM244.4 490.5h.7v.7h-.7zM257.8 485.6h.7v.7h-.7zM247.6 512.1h.7v.7h-.7zM250.8 493.2h.7v.7h-.7zM252.8 488.8h.7v.7h-.7zM258.9 490.5h.7v.7h-.7zM262.9 481.2h.7v.7h-.7zM248.1 513.9h.7v.7h-.7zM259.5 500.6h.7v.7h-.7zM271.1 496.5h.7v.7h-.7zM256.8 478.7h.7v.7h-.7zM245.4 505.1h.7v.7h-.7zM266.4 497.5h.7v.7h-.7zM239.7 476.2h.7v.7h-.7zM247.0 484.1h.7v.7h-.7zM258.8 483.5h.7v.7h-.7zM273.0 484.8h.7v.7h-.7zM255.1 502.3h.7v.7h-.7zM260.6 484.4h.7v.7h-.7zM270.0 509.9h.7v.7h-.7zM246.9 493.0h.7v.7h-.7zM245.5 477.0h.7v.7h-.7zM266.1 498.8h.7v.7h-.7zM269.0 495.7h.7v.7h-.7zM239.7 496.4h.7v.7h-.7zM250.7 483.4h.7v.7h-.7zM249.7 502.3h.7v.7h-.7zM259.4 512.2h.7v.7h-.7zM260.3 474.7h.7v.7h-.7zM269.6 503.5h.7v.7h-.7zM257.3 481.9h.7v.7h-.7zM273.7 478.0h.7v.7h-.7zM255.1 475.6h.7v.7h-.7zM244.2 479.5h.7v.7h-.7zM271.4 502.5h.7v.7h-.7zM252.9 481.3h.7v.7h-.7zM259.0 497.0h.7v.7h-.7zM242.5 485.0h.7v.7h-.7zM259.2 500.1h.7v.7h-.7zM260.5 497.4h.7v.7h-.7zM242.9 472.1h.7v.7h-.7zM260.5 484.2h.7v.7h-.7zM257.2 490.0h.7v.7h-.7zM262.3 485.2h.7v.7h-.7zM272.9 491.2h.7v.7h-.7zM265.1 498.3h.7v.7h-.7zM269.6 495.3h.7v.7h-.7zM241.2 490.4h.7v.7h-.7zM277.6 494.6h.7v.7h-.7zM265.2 496.7h.7v.7h-.7zM251.7 488.0h.7v.7h-.7zM254.7 505.3h.7v.7h-.7zM265.5 509.4h.7v.7h-.7zM266.9 510.3h.7v.7h-.7zM261.4 481.4h.7v.7h-.7zM276.3 493.5h.7v.7h-.7zM270.8 493.3h.7v.7h-.7zM256.1 495.5h.7v.7h-.7zM246.2 483.9h.7v.7h-.7zM249.6 489.9h.7v.7h-.7zM245.8 494.6h.7v.7h-.7zM265.3 511.9h.7v.7h-.7zM276.7 489.7h.7v.7h-.7zM267.2 489.7h.7v.7h-.7zM262.7 492.3h.7v.7h-.7zM253.9 494.9h.7v.7h-.7zM245.5 500.0h.7v.7h-.7zM254.4 483.6h.7v.7h-.7zM256.4 499.2h.7v.7h-.7zM253.2 499.0h.7v.7h-.7zM267.1 507.1h.7v.7h-.7zM248.3 494.1h.7v.7h-.7zM266.5 506.6h.7v.7h-.7zM262.8 500.0h.7v.7h-.7zM243.8 490.3h.7v.7h-.7zM274.6 487.8h.7v.7h-.7zM278.7 482.7h.7v.7h-.7zM253.6 478.7h.7v.7h-.7zM265.6 494.7h.7v.7h-.7zM278.8 491.4h.7v.7h-.7zM254.2 480.4h.7v.7h-.7zM259.8 502.4h.7v.7h-.7zM268.2 503.7h.7v.7h-.7zM267.3 491.4h.7v.7h-.7zM265.2 493.9h.7v.7h-.7zM248.9 511.8h.7v.7h-.7zM260.9 482.7h.7v.7h-.7zM263.2 495.4h.7v.7h-.7zM271.1 505.3h.7v.7h-.7zM230.4 503.8h.7v.7h-.7zM272.3 481.7h.7v.7h-.7zM241.4 499.1h.7v.7h-.7zM262.9 496.1h.7v.7h-.7zM247.4 490.8h.7v.7h-.7zM262.1 500.1h.7v.7h-.7zM280.8 492.3h.7v.7h-.7zM249.2 471.8h.7v.7h-.7zM269.2 490.2h.7v.7h-.7zM256.3 484.1h.7v.7h-.7zM263.1 474.9h.7v.7h-.7zM260.3 494.3h.7v.7h-.7zM264.1 505.2h.7v.7h-.7zM258.2 494.4h.7v.7h-.7zM264.7 477.0h.7v.7h-.7zM256.3 494.4h.7v.7h-.7zM267.0 484.0h.7v.7h-.7zM267.5 495.6h.7v.7h-.7zM242.0 481.7h.7v.7h-.7zM245.3 497.1h.7v.7h-.7zM262.2 499.9h.7v.7h-.7zM266.1 486.6h.7v.7h-.7zM270.8 499.3h.7v.7h-.7zM264.4 497.1h.7v.7h-.7zM247.0 499.0h.7v.7h-.7zM246.9 483.7h.7v.7h-.7zM255.8 495.2h.7v.7h-.7zM257.9 490.2h.7v.7h-.7zM249.5 496.8h.7v.7h-.7z" fill="#555" opacity="0.5"/>
<ellipse cx="261.50" cy="491.30" rx="23.34" ry="19.84" transform="rotate(-10 261.50 491.30)" fill="url(#halo)" opacity="0.55"/>
<ellipse cx="264.00" cy="489.30" rx="18.20" ry="11.05" transform="rotate(-10 264.00 489.30)" fill="none" stroke="#222" stroke-width="0.6" opacity="0.35"/>
<ellipse cx="264.00" cy="489.30" rx="15.82" ry="9.60" transform="rotate(-10 264.00 489.30)" fill="none" stroke="#222" stroke-width="0.6" opacity="0.5"/>
<ellipse cx="264.00" cy="489.30" rx="13.72" ry="8.33" transform="rotate(-10 264.00 489.30)" fill="none" stroke="#222" stroke-width="0.6" opacity="0.6"/>
<ellipse cx="264.00" cy="489.30" rx="11.20" ry="6.38" transform="rotate(-10 264.00 489.30)" fill="#333" opacity="0.55" filter="url(#bl)"/>
<ellipse cx="264.00" cy="489.30" rx="8.68" ry="4.93" transform="rotate(-10 264.00 489.30)" fill="none" stroke="#111" stroke-width="1.3" opacity="0.75" filter="url(#bl)"/>
<ellipse cx="264.50" cy="488.90" rx="4.48" ry="1.87" transform="rotate(-10 264.50 488.90)" fill="#fff" opacity="0.95"/>
</g>
<rect x="234.5" y="476.6" width="59.50" height="57.90" fill="none" stroke="#231f20" stroke-width="1.2"/>
<line x1="255.50" y1="476.60" x2="255.50" y2="534.50" stroke="#231f20" stroke-width="1.2"/>
<line x1="234.50" y1="511.50" x2="294.00" y2="511.50" stroke="#231f20" stroke-width="1.2"/>
<line x1="232.50" y1="482.50" x2="234.50" y2="482.50" stroke="#333" stroke-width="0.8"/>
<line x1="232.50" y1="495.50" x2="234.50" y2="495.50" stroke="#333" stroke-width="0.8"/>
<line x1="232.50" y1="511.50" x2="234.50" y2="511.50" stroke="#333" stroke-width="0.8"/>
<line x1="232.50" y1="530.50" x2="234.50" y2="530.50" stroke="#333" stroke-width="0.8"/>
<line x1="233.40" y1="488.50" x2="234.50" y2="488.50" stroke="#555" stroke-width="0.6"/>
<line x1="233.40" y1="491.50" x2="234.50" y2="491.50" stroke="#555" stroke-width="0.6"/>
<line x1="233.40" y1="502.50" x2="234.50" y2="502.50" stroke="#555" stroke-width="0.6"/>
<line x1="233.40" y1="505.50" x2="234.50" y2="505.50" stroke="#555" stroke-width="0.6"/>
<line x1="233.40" y1="508.50" x2="234.50" y2="508.50" stroke="#555" stroke-width="0.6"/>
<line x1="233.40" y1="517.50" x2="234.50" y2="517.50" stroke="#555" stroke-width="0.6"/>
<line x1="233.40" y1="521.50" x2="234.50" y2="521.50" stroke="#555" stroke-width="0.6"/>
<line x1="233.40" y1="525.50" x2="234.50" y2="525.50" stroke="#555" stroke-width="0.6"/>
<line x1="240.50" y1="534.50" x2="240.50" y2="535.90" stroke="#555" stroke-width="0.6"/>
<line x1="246.50" y1="534.50" x2="246.50" y2="535.90" stroke="#555" stroke-width="0.6"/>
<line x1="252.50" y1="534.50" x2="252.50" y2="535.90" stroke="#555" stroke-width="0.6"/>
<line x1="255.50" y1="534.50" x2="255.50" y2="535.90" stroke="#555" stroke-width="0.6"/>
<line x1="264.50" y1="534.50" x2="264.50" y2="535.90" stroke="#555" stroke-width="0.6"/>
<line x1="270.50" y1="534.50" x2="270.50" y2="535.90" stroke="#555" stroke-width="0.6"/>
<line x1="276.50" y1="534.50" x2="276.50" y2="535.90" stroke="#555" stroke-width="0.6"/>
<line x1="282.50" y1="534.50" x2="282.50" y2="535.90" stroke="#555" stroke-width="0.6"/>
<line x1="288.50" y1="534.50" x2="288.50" y2="535.90" stroke="#555" stroke-width="0.6"/>
<text transform="translate(236.50 485.10)" font-size="8.3" text-anchor="start" fill="#231f20" stroke="#231f20" stroke-width="0.22">11.3</text>
<text transform="translate(292.10 485.10)" font-size="8.3" text-anchor="end" fill="#231f20" stroke="#231f20" stroke-width="0.22">88.7</text>
<text transform="translate(236.70 533.20)" font-size="8.3" text-anchor="start" fill="#231f20" stroke="#231f20" stroke-width="0.22">0</text>
<text transform="translate(292.00 533.20)" font-size="8.3" text-anchor="end" fill="#231f20" stroke="#231f20" stroke-width="0.22">0</text>
<text transform="translate(230.40 506.60) rotate(-90)" font-size="8.0" text-anchor="middle" fill="#231f20" stroke="#231f20" stroke-width="0.22" textLength="19.60" lengthAdjust="spacingAndGlyphs">CD56</text>
<text transform="translate(265.05 547.40) scale(1.08 1)" font-size="7.2" text-anchor="middle" fill="#231f20" stroke="#231f20" stroke-width="0.22">NKG2D</text>
<clipPath id="c310_376"><rect x="310" y="376.3" width="59.60" height="60.10"/></clipPath>
<g clip-path="url(#c310_376)">
<path d="M319.6 386.7h.7v.7h-.7zM334.2 399.1h.7v.7h-.7zM322.9 387.3h.7v.7h-.7zM343.8 395.5h.7v.7h-.7zM326.3 391.5h.7v.7h-.7zM339.8 406.8h.7v.7h-.7zM333.0 396.4h.7v.7h-.7zM326.2 379.8h.7v.7h-.7zM317.7 389.1h.7v.7h-.7zM332.3 390.4h.7v.7h-.7zM340.2 383.0h.7v.7h-.7zM331.3 390.7h.7v.7h-.7zM337.3 403.6h.7v.7h-.7zM335.6 398.5h.7v.7h-.7zM335.9 383.1h.7v.7h-.7zM332.4 386.7h.7v.7h-.7zM330.2 391.9h.7v.7h-.7zM327.7 388.8h.7v.7h-.7zM338.7 384.0h.7v.7h-.7zM339.1 398.0h.7v.7h-.7zM336.5 394.7h.7v.7h-.7zM341.8 392.0h.7v.7h-.7zM336.1 376.9h.7v.7h-.7zM342.4 384.0h.7v.7h-.7zM315.1 394.8h.7v.7h-.7zM319.5 396.8h.7v.7h-.7zM315.7 391.8h.7v.7h-.7zM331.5 391.2h.7v.7h-.7zM322.9 393.3h.7v.7h-.7zM328.6 392.3h.7v.7h-.7zM328.3 390.3h.7v.7h-.7zM329.9 379.2h.7v.7h-.7zM326.1 394.2h.7v.7h-.7zM324.5 390.0h.7v.7h-.7zM326.7 394.4h.7v.7h-.7zM336.9 385.6h.7v.7h-.7zM328.3 394.5h.7v.7h-.7zM321.2 381.8h.7v.7h-.7zM329.6 388.4h.7v.7h-.7zM327.1 397.2h.7v.7h-.7zM327.5 388.2h.7v.7h-.7zM308.8 390.6h.7v.7h-.7zM328.7 390.8h.7v.7h-.7zM332.7 391.0h.7v.7h-.7zM321.7 386.4h.7v.7h-.7zM321.1 395.0h.7v.7h-.7zM323.6 400.2h.7v.7h-.7zM314.3 386.8h.7v.7h-.7zM322.0 382.5h.7v.7h-.7zM336.9 379.7h.7v.7h-.7zM327.9 390.4h.7v.7h-.7zM317.8 385.0h.7v.7h-.7zM319.1 403.6h.7v.7h-.7zM342.8 399.4h.7v.7h-.7zM320.8 400.3h.7v.7h-.7zM331.6 396.2h.7v.7h-.7zM327.8 397.5h.7v.7h-.7zM337.0 391.3h.7v.7h-.7zM338.3 384.9h.7v.7h-.7zM337.3 381.6h.7v.7h-.7zM331.6 369.8h.7v.7h-.7zM326.5 387.0h.7v.7h-.7zM332.3 397.2h.7v.7h-.7zM334.2 389.2h.7v.7h-.7zM335.9 376.7h.7v.7h-.7zM328.3 403.0h.7v.7h-.7zM324.6 378.8h.7v.7h-.7zM327.6 383.6h.7v.7h-.7zM342.7 392.0h.7v.7h-.7zM329.4 400.8h.7v.7h-.7zM326.3 399.8h.7v.7h-.7zM332.5 388.5h.7v.7h-.7zM318.5 395.5h.7v.7h-.7zM311.7 397.4h.7v.7h-.7zM320.3 405.4h.7v.7h-.7zM314.7 381.9h.7v.7h-.7zM334.1 391.2h.7v.7h-.7zM332.3 405.1h.7v.7h-.7zM334.5 388.8h.7v.7h-.7zM315.2 377.8h.7v.7h-.7zM335.3 394.9h.7v.7h-.7zM320.5 386.0h.7v.7h-.7zM323.4 382.5h.7v.7h-.7zM331.5 395.7h.7v.7h-.7zM340.1 387.0h.7v.7h-.7zM332.7 394.9h.7v.7h-.7zM337.5 384.3h.7v.7h-.7zM318.1 392.0h.7v.7h-.7zM317.6 391.5h.7v.7h-.7zM329.3 393.9h.7v.7h-.7zM330.3 391.3h.7v.7h-.7zM327.9 395.2h.7v.7h-.7zM337.4 392.2h.7v.7h-.7zM338.2 384.0h.7v.7h-.7zM332.7 401.8h.7v.7h-.7zM331.7 393.0h.7v.7h-.7zM329.8 398.1h.7v.7h-.7zM323.1 387.5h.7v.7h-.7zM327.2 389.3h.7v.7h-.7zM333.5 386.2h.7v.7h-.7zM329.1 389.8h.7v.7h-.7zM329.3 386.7h.7v.7h-.7zM332.0 379.3h.7v.7h-.7zM324.1 389.1h.7v.7h-.7zM333.5 389.2h.7v.7h-.7zM331.2 387.8h.7v.7h-.7zM320.6 388.2h.7v.7h-.7zM325.0 389.9h.7v.7h-.7zM332.0 392.4h.7v.7h-.7zM335.3 387.1h.7v.7h-.7zM320.5 388.6h.7v.7h-.7zM330.6 393.2h.7v.7h-.7zM342.8 384.9h.7v.7h-.7zM346.9 394.9h.7v.7h-.7zM325.7 402.3h.7v.7h-.7zM341.0 394.4h.7v.7h-.7zM332.0 396.8h.7v.7h-.7zM325.5 393.0h.7v.7h-.7zM334.8 401.2h.7v.7h-.7zM330.6 397.6h.7v.7h-.7zM327.2 387.3h.7v.7h-.7zM332.7 394.2h.7v.7h-.7zM326.2 397.8h.7v.7h-.7zM321.4 389.5h.7v.7h-.7zM329.7 389.3h.7v.7h-.7zM317.1 386.4h.7v.7h-.7zM329.9 392.7h.7v.7h-.7zM326.5 394.3h.7v.7h-.7zM319.9 399.6h.7v.7h-.7zM332.7 391.4h.7v.7h-.7zM325.1 394.3h.7v.7h-.7zM333.3 396.9h.7v.7h-.7zM331.7 391.8h.7v.7h-.7zM326.8 399.1h.7v.7h-.7zM335.4 384.2h.7v.7h-.7zM334.3 390.7h.7v.7h-.7zM324.6 384.6h.7v.7h-.7zM335.0 374.3h.7v.7h-.7zM329.9 388.2h.7v.7h-.7zM335.4 384.7h.7v.7h-.7zM331.2 394.7h.7v.7h-.7zM330.4 386.9h.7v.7h-.7zM334.9 391.0h.7v.7h-.7zM334.1 384.8h.7v.7h-.7zM327.4 389.5h.7v.7h-.7zM324.1 396.2h.7v.7h-.7zM336.3 397.7h.7v.7h-.7zM328.0 394.9h.7v.7h-.7zM336.4 386.4h.7v.7h-.7zM329.9 392.0h.7v.7h-.7zM321.2 388.8h.7v.7h-.7zM337.1 388.1h.7v.7h-.7zM324.6 385.0h.7v.7h-.7zM333.5 397.5h.7v.7h-.7zM318.4 391.1h.7v.7h-.7zM341.0 395.0h.7v.7h-.7zM337.8 382.4h.7v.7h-.7zM330.7 385.0h.7v.7h-.7zM331.4 387.5h.7v.7h-.7zM334.6 398.1h.7v.7h-.7zM330.5 388.9h.7v.7h-.7zM330.2 392.7h.7v.7h-.7zM326.2 394.6h.7v.7h-.7zM338.0 397.7h.7v.7h-.7zM311.3 393.0h.7v.7h-.7zM323.4 401.1h.7v.7h-.7zM346.1 383.0h.7v.7h-.7zM333.4 397.3h.7v.7h-.7zM311.9 400.0h.7v.7h-.7zM308.4 404.5h.7v.7h-.7zM324.0 390.8h.7v.7h-.7zM329.5 387.0h.7v.7h-.7zM336.5 387.2h.7v.7h-.7zM339.6 403.9h.7v.7h-.7zM328.9 398.3h.7v.7h-.7zM327.4 401.5h.7v.7h-.7zM335.9 388.5h.7v.7h-.7zM340.8 396.4h.7v.7h-.7zM338.3 386.1h.7v.7h-.7zM332.1 397.8h.7v.7h-.7zM317.2 393.9h.7v.7h-.7zM334.1 392.7h.7v.7h-.7zM347.1 393.9h.7v.7h-.7zM332.6 392.6h.7v.7h-.7zM319.5 395.6h.7v.7h-.7zM330.0 389.3h.7v.7h-.7zM331.3 394.6h.7v.7h-.7zM320.8 392.1h.7v.7h-.7zM320.6 404.6h.7v.7h-.7zM316.5 386.3h.7v.7h-.7zM333.5 387.3h.7v.7h-.7zM334.3 385.7h.7v.7h-.7zM345.5 387.1h.7v.7h-.7zM330.4 391.5h.7v.7h-.7zM330.2 396.7h.7v.7h-.7zM341.1 381.4h.7v.7h-.7zM323.6 399.0h.7v.7h-.7zM331.5 379.2h.7v.7h-.7zM321.2 388.8h.7v.7h-.7zM334.4 392.1h.7v.7h-.7zM320.5 388.2h.7v.7h-.7zM327.1 377.7h.7v.7h-.7zM332.8 388.2h.7v.7h-.7zM345.0 389.5h.7v.7h-.7zM324.3 392.3h.7v.7h-.7zM324.9 388.6h.7v.7h-.7zM332.6 396.4h.7v.7h-.7zM318.2 396.1h.7v.7h-.7zM341.3 389.8h.7v.7h-.7zM321.0 390.3h.7v.7h-.7zM318.2 386.1h.7v.7h-.7zM336.9 387.4h.7v.7h-.7zM319.8 386.4h.7v.7h-.7zM324.8 390.2h.7v.7h-.7zM339.1 382.4h.7v.7h-.7zM333.1 396.9h.7v.7h-.7zM332.9 387.9h.7v.7h-.7zM318.8 407.5h.7v.7h-.7zM331.6 386.8h.7v.7h-.7zM325.4 386.7h.7v.7h-.7zM318.4 386.9h.7v.7h-.7zM334.0 392.4h.7v.7h-.7zM332.6 395.0h.7v.7h-.7zM333.0 390.1h.7v.7h-.7zM324.9 398.1h.7v.7h-.7zM338.9 390.3h.7v.7h-.7zM335.9 384.1h.7v.7h-.7zM326.4 402.0h.7v.7h-.7zM325.9 395.1h.7v.7h-.7zM327.8 392.4h.7v.7h-.7zM325.5 389.6h.7v.7h-.7zM323.1 408.7h.7v.7h-.7zM324.4 380.3h.7v.7h-.7zM319.4 388.9h.7v.7h-.7zM316.1 380.6h.7v.7h-.7zM337.9 398.1h.7v.7h-.7zM329.7 396.5h.7v.7h-.7zM329.1 382.5h.7v.7h-.7zM331.9 377.7h.7v.7h-.7zM324.1 391.8h.7v.7h-.7z" fill="#555" opacity="0.5"/>
<ellipse cx="330.00" cy="390.00" rx="18.34" ry="13.80" transform="rotate(-30 330.00 390.00)" fill="url(#halo)" opacity="0.55"/>
<ellipse cx="331.00" cy="388.50" rx="14.52" ry="6.60" transform="rotate(-30 331.00 388.50)" fill="none" stroke="#222" stroke-width="0.6" opacity="0.35"/>
<ellipse cx="331.00" cy="388.50" rx="12.65" ry="5.75" transform="rotate(-30 331.00 388.50)" fill="none" stroke="#222" stroke-width="0.6" opacity="0.5"/>
<ellipse cx="331.00" cy="388.50" rx="11.00" ry="5.00" transform="rotate(-30 331.00 388.50)" fill="none" stroke="#222" stroke-width="0.6" opacity="0.7"/>
<ellipse cx="331.00" cy="388.50" rx="9.90" ry="4.10" transform="rotate(-30 331.00 388.50)" fill="#141414" filter="url(#bl)"/>
<ellipse cx="331.50" cy="388.20" rx="3.74" ry="0.55" transform="rotate(-30 331.50 388.20)" fill="#fff" opacity="0.85"/>
</g>
<rect x="310" y="376.3" width="59.60" height="60.10" fill="none" stroke="#231f20" stroke-width="1.2"/>
<line x1="332.50" y1="376.30" x2="332.50" y2="436.40" stroke="#231f20" stroke-width="1.2"/>
<line x1="310.00" y1="412.50" x2="369.60" y2="412.50" stroke="#231f20" stroke-width="1.2"/>
<line x1="308.00" y1="382.50" x2="310.00" y2="382.50" stroke="#333" stroke-width="0.8"/>
<line x1="308.00" y1="396.50" x2="310.00" y2="396.50" stroke="#333" stroke-width="0.8"/>
<line x1="308.00" y1="412.50" x2="310.00" y2="412.50" stroke="#333" stroke-width="0.8"/>
<line x1="308.00" y1="432.50" x2="310.00" y2="432.50" stroke="#333" stroke-width="0.8"/>
<line x1="308.90" y1="388.50" x2="310.00" y2="388.50" stroke="#555" stroke-width="0.6"/>
<line x1="308.90" y1="391.50" x2="310.00" y2="391.50" stroke="#555" stroke-width="0.6"/>
<line x1="308.90" y1="403.50" x2="310.00" y2="403.50" stroke="#555" stroke-width="0.6"/>
<line x1="308.90" y1="406.50" x2="310.00" y2="406.50" stroke="#555" stroke-width="0.6"/>
<line x1="308.90" y1="409.50" x2="310.00" y2="409.50" stroke="#555" stroke-width="0.6"/>
<line x1="308.90" y1="418.50" x2="310.00" y2="418.50" stroke="#555" stroke-width="0.6"/>
<line x1="308.90" y1="423.50" x2="310.00" y2="423.50" stroke="#555" stroke-width="0.6"/>
<line x1="308.90" y1="427.50" x2="310.00" y2="427.50" stroke="#555" stroke-width="0.6"/>
<line x1="315.50" y1="436.40" x2="315.50" y2="437.80" stroke="#555" stroke-width="0.6"/>
<line x1="321.50" y1="436.40" x2="321.50" y2="437.80" stroke="#555" stroke-width="0.6"/>
<line x1="327.50" y1="436.40" x2="327.50" y2="437.80" stroke="#555" stroke-width="0.6"/>
<line x1="332.50" y1="436.40" x2="332.50" y2="437.80" stroke="#555" stroke-width="0.6"/>
<line x1="339.50" y1="436.40" x2="339.50" y2="437.80" stroke="#555" stroke-width="0.6"/>
<line x1="345.50" y1="436.40" x2="345.50" y2="437.80" stroke="#555" stroke-width="0.6"/>
<line x1="351.50" y1="436.40" x2="351.50" y2="437.80" stroke="#555" stroke-width="0.6"/>
<line x1="357.50" y1="436.40" x2="357.50" y2="437.80" stroke="#555" stroke-width="0.6"/>
<line x1="363.50" y1="436.40" x2="363.50" y2="437.80" stroke="#555" stroke-width="0.6"/>
<text transform="translate(312.00 384.80)" font-size="8.3" text-anchor="start" fill="#231f20" stroke="#231f20" stroke-width="0.22">56.0</text>
<text transform="translate(367.70 384.80)" font-size="8.3" text-anchor="end" fill="#231f20" stroke="#231f20" stroke-width="0.22">44.0</text>
<text transform="translate(312.20 435.10)" font-size="8.3" text-anchor="start" fill="#231f20" stroke="#231f20" stroke-width="0.22">0</text>
<text transform="translate(367.60 435.10)" font-size="8.3" text-anchor="end" fill="#231f20" stroke="#231f20" stroke-width="0.22">0</text>
<text transform="translate(305.90 406.30) rotate(-90)" font-size="8.0" text-anchor="middle" fill="#231f20" stroke="#231f20" stroke-width="0.22" textLength="19.60" lengthAdjust="spacingAndGlyphs">CD56</text>
<text transform="translate(340.60 447.80) scale(1.08 1)" font-size="7.2" text-anchor="middle" fill="#231f20" stroke="#231f20" stroke-width="0.22">DNAM-1</text>
<clipPath id="c310_476"><rect x="310" y="476.6" width="59.60" height="57.90"/></clipPath>
<g clip-path="url(#c310_476)">
<path d="M342.7 486.6h.7v.7h-.7zM328.7 486.5h.7v.7h-.7zM336.3 491.9h.7v.7h-.7zM349.9 499.0h.7v.7h-.7zM339.3 488.4h.7v.7h-.7zM347.0 505.0h.7v.7h-.7zM336.4 490.9h.7v.7h-.7zM356.5 495.0h.7v.7h-.7zM337.5 488.3h.7v.7h-.7zM340.5 503.4h.7v.7h-.7zM340.6 501.6h.7v.7h-.7zM332.4 496.7h.7v.7h-.7zM338.6 491.1h.7v.7h-.7zM339.6 493.7h.7v.7h-.7zM321.4 489.2h.7v.7h-.7zM348.6 506.5h.7v.7h-.7zM327.8 485.5h.7v.7h-.7zM332.5 495.6h.7v.7h-.7zM337.1 481.7h.7v.7h-.7zM339.7 490.6h.7v.7h-.7zM326.5 486.6h.7v.7h-.7zM329.2 487.2h.7v.7h-.7zM324.7 475.9h.7v.7h-.7zM346.9 492.1h.7v.7h-.7zM349.8 500.5h.7v.7h-.7zM325.5 475.9h.7v.7h-.7zM339.2 495.2h.7v.7h-.7zM323.4 486.8h.7v.7h-.7zM341.6 493.7h.7v.7h-.7zM331.5 492.3h.7v.7h-.7zM328.6 490.2h.7v.7h-.7zM343.4 500.5h.7v.7h-.7zM324.8 497.5h.7v.7h-.7zM346.0 486.3h.7v.7h-.7zM342.6 497.6h.7v.7h-.7zM321.3 487.8h.7v.7h-.7zM316.1 489.2h.7v.7h-.7zM343.2 497.2h.7v.7h-.7zM328.2 488.9h.7v.7h-.7zM342.2 494.7h.7v.7h-.7zM322.3 476.2h.7v.7h-.7zM313.5 475.4h.7v.7h-.7zM330.2 484.3h.7v.7h-.7zM343.7 506.7h.7v.7h-.7zM345.8 489.1h.7v.7h-.7zM338.2 491.9h.7v.7h-.7zM332.2 494.5h.7v.7h-.7zM338.4 475.8h.7v.7h-.7zM333.4 496.5h.7v.7h-.7zM346.3 493.9h.7v.7h-.7zM329.7 495.8h.7v.7h-.7zM324.8 483.9h.7v.7h-.7zM332.2 488.0h.7v.7h-.7zM343.4 490.7h.7v.7h-.7zM332.2 496.5h.7v.7h-.7zM328.9 489.0h.7v.7h-.7zM341.2 502.5h.7v.7h-.7zM320.4 481.0h.7v.7h-.7zM337.8 502.0h.7v.7h-.7zM338.2 473.3h.7v.7h-.7zM331.2 491.3h.7v.7h-.7zM331.5 502.1h.7v.7h-.7zM337.4 494.4h.7v.7h-.7zM344.6 478.8h.7v.7h-.7zM345.8 494.4h.7v.7h-.7zM327.8 490.7h.7v.7h-.7zM348.7 489.7h.7v.7h-.7zM327.9 483.0h.7v.7h-.7zM343.9 491.6h.7v.7h-.7zM357.7 492.2h.7v.7h-.7zM341.5 490.0h.7v.7h-.7zM331.6 487.5h.7v.7h-.7zM338.9 492.3h.7v.7h-.7zM347.0 497.0h.7v.7h-.7zM332.9 486.3h.7v.7h-.7zM351.3 499.8h.7v.7h-.7zM334.5 499.4h.7v.7h-.7zM342.3 493.3h.7v.7h-.7zM337.3 488.8h.7v.7h-.7zM347.8 505.3h.7v.7h-.7zM333.5 472.7h.7v.7h-.7zM326.2 508.0h.7v.7h-.7zM328.2 491.4h.7v.7h-.7zM330.2 502.6h.7v.7h-.7zM331.1 488.2h.7v.7h-.7zM358.5 506.0h.7v.7h-.7zM351.8 493.6h.7v.7h-.7zM338.5 499.1h.7v.7h-.7zM344.1 501.0h.7v.7h-.7zM338.1 488.8h.7v.7h-.7zM332.8 483.8h.7v.7h-.7zM350.9 499.5h.7v.7h-.7zM337.9 498.0h.7v.7h-.7zM334.3 507.4h.7v.7h-.7zM332.1 479.9h.7v.7h-.7zM345.1 484.2h.7v.7h-.7zM316.5 490.2h.7v.7h-.7zM337.8 485.6h.7v.7h-.7zM329.2 474.7h.7v.7h-.7zM342.4 499.9h.7v.7h-.7zM337.3 500.5h.7v.7h-.7zM336.3 496.4h.7v.7h-.7zM354.1 507.3h.7v.7h-.7zM335.2 504.1h.7v.7h-.7zM333.5 476.9h.7v.7h-.7zM353.4 509.1h.7v.7h-.7zM318.2 464.3h.7v.7h-.7zM321.3 480.2h.7v.7h-.7zM331.5 485.0h.7v.7h-.7zM326.4 488.4h.7v.7h-.7zM333.4 487.0h.7v.7h-.7zM329.3 494.8h.7v.7h-.7zM331.0 483.5h.7v.7h-.7zM328.4 473.9h.7v.7h-.7zM334.6 487.0h.7v.7h-.7zM338.5 479.3h.7v.7h-.7zM322.0 485.1h.7v.7h-.7zM350.1 486.8h.7v.7h-.7zM327.5 494.9h.7v.7h-.7zM342.3 508.3h.7v.7h-.7zM322.1 474.5h.7v.7h-.7zM343.5 497.9h.7v.7h-.7zM339.1 495.6h.7v.7h-.7zM336.5 494.1h.7v.7h-.7zM331.2 485.6h.7v.7h-.7zM338.5 491.5h.7v.7h-.7zM330.1 487.0h.7v.7h-.7zM332.3 498.9h.7v.7h-.7zM321.3 469.5h.7v.7h-.7zM343.1 504.9h.7v.7h-.7zM334.7 482.0h.7v.7h-.7zM334.7 477.8h.7v.7h-.7zM346.3 510.7h.7v.7h-.7zM331.7 492.5h.7v.7h-.7zM319.6 492.5h.7v.7h-.7zM328.6 496.8h.7v.7h-.7zM334.4 509.2h.7v.7h-.7zM329.1 489.2h.7v.7h-.7zM338.0 500.8h.7v.7h-.7zM340.1 481.3h.7v.7h-.7zM355.8 496.2h.7v.7h-.7zM344.5 487.6h.7v.7h-.7zM333.2 504.6h.7v.7h-.7zM334.9 495.5h.7v.7h-.7zM324.0 499.3h.7v.7h-.7zM329.5 483.7h.7v.7h-.7zM349.7 503.3h.7v.7h-.7zM331.4 485.6h.7v.7h-.7zM331.0 463.7h.7v.7h-.7zM334.0 499.7h.7v.7h-.7zM315.1 477.5h.7v.7h-.7zM343.1 497.0h.7v.7h-.7zM342.7 507.1h.7v.7h-.7zM347.1 498.6h.7v.7h-.7zM327.9 499.6h.7v.7h-.7zM358.8 499.3h.7v.7h-.7zM342.1 485.4h.7v.7h-.7zM331.6 486.3h.7v.7h-.7zM335.7 481.2h.7v.7h-.7zM320.4 475.7h.7v.7h-.7zM341.5 513.1h.7v.7h-.7zM337.4 493.3h.7v.7h-.7zM324.3 502.7h.7v.7h-.7zM334.5 470.3h.7v.7h-.7zM322.4 502.7h.7v.7h-.7zM331.2 493.1h.7v.7h-.7zM318.9 487.9h.7v.7h-.7zM334.2 503.1h.7v.7h-.7zM341.5 498.5h.7v.7h-.7zM334.6 501.9h.7v.7h-.7zM334.0 494.9h.7v.7h-.7zM340.4 487.6h.7v.7h-.7zM321.0 481.1h.7v.7h-.7zM341.8 497.7h.7v.7h-.7zM331.8 494.7h.7v.7h-.7zM316.4 490.7h.7v.7h-.7zM347.4 499.9h.7v.7h-.7zM321.2 480.8h.7v.7h-.7zM321.6 481.9h.7v.7h-.7zM348.9 508.1h.7v.7h-.7zM335.8 489.3h.7v.7h-.7zM337.8 483.9h.7v.7h-.7zM338.7 491.9h.7v.7h-.7zM326.5 478.5h.7v.7h-.7zM345.8 495.2h.7v.7h-.7zM303.2 482.7h.7v.7h-.7zM342.4 507.9h.7v.7h-.7zM340.8 497.1h.7v.7h-.7zM345.1 496.0h.7v.7h-.7zM327.8 490.7h.7v.7h-.7zM342.1 494.8h.7v.7h-.7zM341.0 491.7h.7v.7h-.7zM341.5 502.9h.7v.7h-.7zM346.0 497.8h.7v.7h-.7zM330.4 512.6h.7v.7h-.7zM324.8 505.9h.7v.7h-.7zM333.1 496.3h.7v.7h-.7zM330.7 492.0h.7v.7h-.7zM339.1 493.7h.7v.7h-.7zM312.0 476.6h.7v.7h-.7zM335.7 500.1h.7v.7h-.7zM334.5 499.6h.7v.7h-.7zM326.4 486.6h.7v.7h-.7zM354.2 498.9h.7v.7h-.7zM334.6 492.1h.7v.7h-.7zM330.1 476.9h.7v.7h-.7zM339.8 505.1h.7v.7h-.7zM336.3 483.6h.7v.7h-.7zM334.3 498.6h.7v.7h-.7zM324.5 495.3h.7v.7h-.7zM315.3 474.2h.7v.7h-.7zM344.4 494.9h.7v.7h-.7zM329.8 475.5h.7v.7h-.7zM322.7 492.2h.7v.7h-.7zM344.8 514.5h.7v.7h-.7zM328.1 494.5h.7v.7h-.7zM340.1 494.5h.7v.7h-.7zM334.4 476.2h.7v.7h-.7zM341.1 488.7h.7v.7h-.7zM330.7 499.1h.7v.7h-.7zM340.9 511.7h.7v.7h-.7zM339.6 503.5h.7v.7h-.7zM337.3 480.6h.7v.7h-.7zM332.0 497.6h.7v.7h-.7zM337.1 504.3h.7v.7h-.7zM330.5 485.2h.7v.7h-.7zM337.6 501.1h.7v.7h-.7zM341.2 512.5h.7v.7h-.7zM330.0 494.5h.7v.7h-.7zM343.4 509.3h.7v.7h-.7zM349.8 497.9h.7v.7h-.7zM339.5 489.4h.7v.7h-.7zM349.3 488.5h.7v.7h-.7zM342.2 494.3h.7v.7h-.7zM341.4 490.4h.7v.7h-.7zM322.2 480.4h.7v.7h-.7zM335.9 471.4h.7v.7h-.7zM319.0 497.4h.7v.7h-.7zM354.9 491.6h.7v.7h-.7zM334.5 497.1h.7v.7h-.7z" fill="#555" opacity="0.5"/>
<ellipse cx="337.50" cy="490.00" rx="16.96" ry="22.43" transform="rotate(-45 337.50 490.00)" fill="url(#halo)" opacity="0.55"/>
<ellipse cx="339.50" cy="488.00" rx="11.88" ry="11.22" transform="rotate(-45 339.50 488.00)" fill="none" stroke="#222" stroke-width="0.6" opacity="0.3"/>
<ellipse cx="339.50" cy="488.00" rx="10.35" ry="9.77" transform="rotate(-45 339.50 488.00)" fill="none" stroke="#222" stroke-width="0.6" opacity="0.45"/>
<ellipse cx="339.50" cy="488.00" rx="9.00" ry="8.50" transform="rotate(-45 339.50 488.00)" fill="none" stroke="#222" stroke-width="0.6" opacity="0.55"/>
<ellipse cx="339.50" cy="488.00" rx="8.55" ry="7.65" transform="rotate(-45 339.50 488.00)" fill="#222" opacity="0.72" filter="url(#bl)"/>
<ellipse cx="336.50" cy="489.00" rx="3.15" ry="4.25" transform="rotate(-45 336.50 489.00)" fill="#000" opacity="0.7" filter="url(#bl)"/>
<ellipse cx="341.00" cy="487.70" rx="3.06" ry="1.02" transform="rotate(-45 341.00 487.70)" fill="#fff" opacity="0.85"/>
</g>
<rect x="310" y="476.6" width="59.60" height="57.90" fill="none" stroke="#231f20" stroke-width="1.2"/>
<line x1="332.50" y1="476.60" x2="332.50" y2="534.50" stroke="#231f20" stroke-width="1.2"/>
<line x1="310.00" y1="512.50" x2="369.60" y2="512.50" stroke="#231f20" stroke-width="1.2"/>
<line x1="308.00" y1="482.50" x2="310.00" y2="482.50" stroke="#333" stroke-width="0.8"/>
<line x1="308.00" y1="495.50" x2="310.00" y2="495.50" stroke="#333" stroke-width="0.8"/>
<line x1="308.00" y1="512.50" x2="310.00" y2="512.50" stroke="#333" stroke-width="0.8"/>
<line x1="308.00" y1="530.50" x2="310.00" y2="530.50" stroke="#333" stroke-width="0.8"/>
<line x1="308.90" y1="488.50" x2="310.00" y2="488.50" stroke="#555" stroke-width="0.6"/>
<line x1="308.90" y1="491.50" x2="310.00" y2="491.50" stroke="#555" stroke-width="0.6"/>
<line x1="308.90" y1="502.50" x2="310.00" y2="502.50" stroke="#555" stroke-width="0.6"/>
<line x1="308.90" y1="505.50" x2="310.00" y2="505.50" stroke="#555" stroke-width="0.6"/>
<line x1="308.90" y1="508.50" x2="310.00" y2="508.50" stroke="#555" stroke-width="0.6"/>
<line x1="308.90" y1="517.50" x2="310.00" y2="517.50" stroke="#555" stroke-width="0.6"/>
<line x1="308.90" y1="521.50" x2="310.00" y2="521.50" stroke="#555" stroke-width="0.6"/>
<line x1="308.90" y1="525.50" x2="310.00" y2="525.50" stroke="#555" stroke-width="0.6"/>
<line x1="315.50" y1="534.50" x2="315.50" y2="535.90" stroke="#555" stroke-width="0.6"/>
<line x1="321.50" y1="534.50" x2="321.50" y2="535.90" stroke="#555" stroke-width="0.6"/>
<line x1="327.50" y1="534.50" x2="327.50" y2="535.90" stroke="#555" stroke-width="0.6"/>
<line x1="332.50" y1="534.50" x2="332.50" y2="535.90" stroke="#555" stroke-width="0.6"/>
<line x1="339.50" y1="534.50" x2="339.50" y2="535.90" stroke="#555" stroke-width="0.6"/>
<line x1="345.50" y1="534.50" x2="345.50" y2="535.90" stroke="#555" stroke-width="0.6"/>
<line x1="351.50" y1="534.50" x2="351.50" y2="535.90" stroke="#555" stroke-width="0.6"/>
<line x1="357.50" y1="534.50" x2="357.50" y2="535.90" stroke="#555" stroke-width="0.6"/>
<line x1="363.50" y1="534.50" x2="363.50" y2="535.90" stroke="#555" stroke-width="0.6"/>
<text transform="translate(312.00 485.10)" font-size="8.3" text-anchor="start" fill="#231f20" stroke="#231f20" stroke-width="0.22">13.4</text>
<text transform="translate(367.70 485.10)" font-size="8.3" text-anchor="end" fill="#231f20" stroke="#231f20" stroke-width="0.22">88.6</text>
<text transform="translate(312.20 533.20)" font-size="8.3" text-anchor="start" fill="#231f20" stroke="#231f20" stroke-width="0.22">0</text>
<text transform="translate(367.60 533.20)" font-size="8.3" text-anchor="end" fill="#231f20" stroke="#231f20" stroke-width="0.22">0</text>
<text transform="translate(305.90 506.60) rotate(-90)" font-size="8.0" text-anchor="middle" fill="#231f20" stroke="#231f20" stroke-width="0.22" textLength="19.60" lengthAdjust="spacingAndGlyphs">CD56</text>
<text transform="translate(340.60 547.40) scale(1.08 1)" font-size="7.2" text-anchor="middle" fill="#231f20" stroke="#231f20" stroke-width="0.22">DNAM-1</text>
<clipPath id="c384_376"><rect x="384.3" y="376.3" width="59.20" height="60.10"/></clipPath>
<g clip-path="url(#c384_376)">
<path d="M408.3 388.2h.7v.7h-.7zM416.3 396.3h.7v.7h-.7zM415.9 384.1h.7v.7h-.7zM401.7 401.2h.7v.7h-.7zM418.0 392.2h.7v.7h-.7zM417.6 393.3h.7v.7h-.7zM409.5 391.8h.7v.7h-.7zM419.6 392.4h.7v.7h-.7zM423.6 394.2h.7v.7h-.7zM402.3 393.6h.7v.7h-.7zM418.4 409.2h.7v.7h-.7zM414.6 399.7h.7v.7h-.7zM419.3 395.8h.7v.7h-.7zM426.2 375.2h.7v.7h-.7zM413.3 392.9h.7v.7h-.7zM419.4 393.9h.7v.7h-.7zM418.1 402.6h.7v.7h-.7zM422.5 388.9h.7v.7h-.7zM415.0 393.6h.7v.7h-.7zM413.0 404.3h.7v.7h-.7zM410.7 397.4h.7v.7h-.7zM416.4 385.8h.7v.7h-.7zM417.9 398.9h.7v.7h-.7zM420.5 381.9h.7v.7h-.7zM417.8 386.0h.7v.7h-.7zM419.8 393.0h.7v.7h-.7zM416.3 402.7h.7v.7h-.7zM423.3 384.3h.7v.7h-.7zM412.6 388.9h.7v.7h-.7zM423.3 384.4h.7v.7h-.7zM414.8 402.6h.7v.7h-.7zM408.2 399.5h.7v.7h-.7zM414.1 408.9h.7v.7h-.7zM422.0 380.2h.7v.7h-.7zM411.6 395.5h.7v.7h-.7zM416.5 398.3h.7v.7h-.7zM417.7 383.1h.7v.7h-.7zM410.7 386.2h.7v.7h-.7zM421.7 385.4h.7v.7h-.7zM420.0 401.8h.7v.7h-.7zM421.6 398.2h.7v.7h-.7zM427.1 392.7h.7v.7h-.7zM413.7 398.1h.7v.7h-.7zM417.0 391.2h.7v.7h-.7zM419.2 383.6h.7v.7h-.7zM425.7 392.3h.7v.7h-.7zM405.2 401.3h.7v.7h-.7zM410.8 396.9h.7v.7h-.7zM417.1 391.1h.7v.7h-.7zM414.8 392.0h.7v.7h-.7zM418.1 395.5h.7v.7h-.7zM416.0 387.5h.7v.7h-.7zM412.9 392.1h.7v.7h-.7zM409.9 390.6h.7v.7h-.7zM422.7 390.5h.7v.7h-.7zM413.2 392.4h.7v.7h-.7zM412.0 394.2h.7v.7h-.7zM417.3 406.5h.7v.7h-.7zM423.6 372.7h.7v.7h-.7zM414.4 401.5h.7v.7h-.7zM412.3 386.0h.7v.7h-.7zM411.5 405.4h.7v.7h-.7zM414.8 408.3h.7v.7h-.7zM414.9 396.6h.7v.7h-.7zM414.1 392.1h.7v.7h-.7zM414.7 393.6h.7v.7h-.7zM420.7 386.8h.7v.7h-.7zM414.1 392.4h.7v.7h-.7zM411.1 395.0h.7v.7h-.7zM423.9 398.9h.7v.7h-.7zM421.5 388.5h.7v.7h-.7zM426.7 387.7h.7v.7h-.7zM416.5 392.1h.7v.7h-.7zM413.3 400.2h.7v.7h-.7zM408.8 390.9h.7v.7h-.7zM419.5 406.0h.7v.7h-.7zM419.2 394.0h.7v.7h-.7zM415.3 391.3h.7v.7h-.7zM422.5 394.3h.7v.7h-.7zM417.3 396.8h.7v.7h-.7zM418.2 386.9h.7v.7h-.7zM414.0 390.7h.7v.7h-.7zM417.1 389.5h.7v.7h-.7zM417.6 385.4h.7v.7h-.7zM421.4 383.9h.7v.7h-.7zM409.6 395.6h.7v.7h-.7zM415.4 387.7h.7v.7h-.7zM428.3 387.8h.7v.7h-.7zM412.6 386.9h.7v.7h-.7zM413.4 391.8h.7v.7h-.7zM411.4 404.5h.7v.7h-.7zM422.4 380.5h.7v.7h-.7zM424.6 393.1h.7v.7h-.7zM411.4 397.8h.7v.7h-.7zM419.3 393.6h.7v.7h-.7zM413.0 400.4h.7v.7h-.7zM419.9 397.0h.7v.7h-.7zM408.2 400.6h.7v.7h-.7zM413.2 395.5h.7v.7h-.7zM416.5 388.1h.7v.7h-.7zM423.7 377.2h.7v.7h-.7zM423.7 392.1h.7v.7h-.7zM419.2 388.0h.7v.7h-.7zM412.3 397.4h.7v.7h-.7zM419.4 390.5h.7v.7h-.7zM420.9 392.2h.7v.7h-.7zM409.3 395.7h.7v.7h-.7zM419.8 384.7h.7v.7h-.7zM418.1 407.4h.7v.7h-.7zM409.5 395.5h.7v.7h-.7zM415.4 385.3h.7v.7h-.7zM417.4 401.3h.7v.7h-.7zM423.5 405.2h.7v.7h-.7zM427.7 400.8h.7v.7h-.7zM417.1 393.2h.7v.7h-.7zM413.1 396.5h.7v.7h-.7zM414.4 396.3h.7v.7h-.7zM414.1 386.0h.7v.7h-.7zM404.5 392.6h.7v.7h-.7zM421.7 385.5h.7v.7h-.7zM416.1 393.6h.7v.7h-.7zM421.4 389.3h.7v.7h-.7zM418.9 388.7h.7v.7h-.7zM415.7 394.2h.7v.7h-.7zM413.9 406.7h.7v.7h-.7zM406.5 399.2h.7v.7h-.7zM419.1 390.3h.7v.7h-.7zM426.3 394.2h.7v.7h-.7zM428.9 387.7h.7v.7h-.7zM423.9 400.7h.7v.7h-.7zM412.8 398.1h.7v.7h-.7zM419.2 387.8h.7v.7h-.7zM414.5 393.3h.7v.7h-.7zM411.5 379.4h.7v.7h-.7zM425.4 390.0h.7v.7h-.7zM418.4 395.7h.7v.7h-.7zM417.3 402.0h.7v.7h-.7zM424.0 374.8h.7v.7h-.7zM421.4 386.1h.7v.7h-.7zM413.2 394.1h.7v.7h-.7zM410.6 391.1h.7v.7h-.7zM418.1 405.6h.7v.7h-.7zM418.6 395.4h.7v.7h-.7zM419.5 393.4h.7v.7h-.7zM406.9 399.1h.7v.7h-.7zM422.8 393.2h.7v.7h-.7zM409.8 398.1h.7v.7h-.7zM415.1 401.2h.7v.7h-.7zM417.8 392.0h.7v.7h-.7zM415.4 398.1h.7v.7h-.7zM413.5 391.4h.7v.7h-.7zM414.9 390.0h.7v.7h-.7zM422.5 390.4h.7v.7h-.7zM416.2 399.0h.7v.7h-.7zM413.8 391.3h.7v.7h-.7zM406.3 393.8h.7v.7h-.7zM413.6 400.7h.7v.7h-.7zM418.3 385.5h.7v.7h-.7zM418.4 393.8h.7v.7h-.7zM421.1 390.8h.7v.7h-.7zM424.1 389.4h.7v.7h-.7zM415.2 398.9h.7v.7h-.7zM407.0 405.6h.7v.7h-.7zM418.8 395.2h.7v.7h-.7zM418.7 397.7h.7v.7h-.7zM417.9 384.3h.7v.7h-.7zM415.4 397.3h.7v.7h-.7zM418.8 391.5h.7v.7h-.7zM414.7 385.9h.7v.7h-.7zM424.0 392.9h.7v.7h-.7zM422.3 389.0h.7v.7h-.7zM417.1 396.1h.7v.7h-.7zM409.7 389.6h.7v.7h-.7zM414.0 396.8h.7v.7h-.7zM410.7 393.8h.7v.7h-.7zM414.0 393.9h.7v.7h-.7zM416.5 393.2h.7v.7h-.7zM421.1 395.6h.7v.7h-.7zM418.6 394.1h.7v.7h-.7zM399.9 391.8h.7v.7h-.7zM417.7 397.8h.7v.7h-.7zM412.6 393.7h.7v.7h-.7zM415.4 402.8h.7v.7h-.7zM415.4 397.2h.7v.7h-.7zM422.8 389.2h.7v.7h-.7zM424.2 381.4h.7v.7h-.7zM422.8 390.6h.7v.7h-.7zM414.2 397.3h.7v.7h-.7zM410.1 393.8h.7v.7h-.7zM414.4 389.9h.7v.7h-.7zM419.6 382.7h.7v.7h-.7zM414.7 396.8h.7v.7h-.7zM414.7 396.6h.7v.7h-.7zM408.4 392.9h.7v.7h-.7zM402.2 402.8h.7v.7h-.7zM423.9 386.9h.7v.7h-.7zM415.1 391.6h.7v.7h-.7zM417.1 395.3h.7v.7h-.7zM408.0 398.8h.7v.7h-.7zM418.2 402.0h.7v.7h-.7zM417.2 402.6h.7v.7h-.7zM425.7 403.9h.7v.7h-.7zM416.2 394.2h.7v.7h-.7zM425.0 389.0h.7v.7h-.7zM415.6 385.7h.7v.7h-.7zM427.4 392.4h.7v.7h-.7zM414.1 392.9h.7v.7h-.7zM416.5 402.4h.7v.7h-.7zM417.5 392.2h.7v.7h-.7zM418.4 404.9h.7v.7h-.7zM419.6 389.0h.7v.7h-.7zM418.0 383.2h.7v.7h-.7zM415.6 386.2h.7v.7h-.7zM420.5 385.4h.7v.7h-.7zM419.3 386.0h.7v.7h-.7zM422.5 394.8h.7v.7h-.7zM413.4 398.8h.7v.7h-.7zM416.7 400.6h.7v.7h-.7zM412.6 395.8h.7v.7h-.7zM420.4 398.1h.7v.7h-.7zM412.4 399.2h.7v.7h-.7zM412.9 393.9h.7v.7h-.7zM412.8 397.4h.7v.7h-.7zM410.8 388.3h.7v.7h-.7zM412.5 389.1h.7v.7h-.7zM425.7 400.1h.7v.7h-.7zM412.5 398.6h.7v.7h-.7zM419.4 397.8h.7v.7h-.7zM407.4 391.1h.7v.7h-.7zM411.1 402.8h.7v.7h-.7zM421.7 395.4h.7v.7h-.7zM417.1 398.4h.7v.7h-.7zM417.7 403.0h.7v.7h-.7zM413.4 392.2h.7v.7h-.7zM424.1 397.7h.7v.7h-.7zM408.2 394.7h.7v.7h-.7zM407.9 395.8h.7v.7h-.7zM417.6 395.0h.7v.7h-.7zM416.6 395.1h.7v.7h-.7zM419.6 386.6h.7v.7h-.7z" fill="#555" opacity="0.5"/>
<ellipse cx="416.90" cy="391.20" rx="15.15" ry="11.22" transform="rotate(-55 416.90 391.20)" fill="url(#halo)" opacity="0.55"/>
<ellipse cx="417.40" cy="388.70" rx="12.54" ry="5.02" transform="rotate(-55 417.40 388.70)" fill="none" stroke="#222" stroke-width="0.6" opacity="0.35"/>
<ellipse cx="417.40" cy="388.70" rx="10.92" ry="4.37" transform="rotate(-55 417.40 388.70)" fill="none" stroke="#222" stroke-width="0.6" opacity="0.5"/>
<ellipse cx="417.40" cy="388.70" rx="9.50" ry="3.80" transform="rotate(-55 417.40 388.70)" fill="none" stroke="#222" stroke-width="0.6" opacity="0.7"/>
<ellipse cx="417.40" cy="388.70" rx="8.55" ry="3.12" transform="rotate(-55 417.40 388.70)" fill="#141414" filter="url(#bl)"/>
<ellipse cx="417.90" cy="388.40" rx="3.23" ry="0.50" transform="rotate(-55 417.90 388.40)" fill="#fff" opacity="0.85"/>
</g>
<rect x="384.3" y="376.3" width="59.20" height="60.10" fill="none" stroke="#231f20" stroke-width="1.2"/>
<line x1="408.50" y1="376.30" x2="408.50" y2="436.40" stroke="#231f20" stroke-width="1.2"/>
<line x1="384.30" y1="412.50" x2="443.50" y2="412.50" stroke="#231f20" stroke-width="1.2"/>
<line x1="382.30" y1="382.50" x2="384.30" y2="382.50" stroke="#333" stroke-width="0.8"/>
<line x1="382.30" y1="396.50" x2="384.30" y2="396.50" stroke="#333" stroke-width="0.8"/>
<line x1="382.30" y1="412.50" x2="384.30" y2="412.50" stroke="#333" stroke-width="0.8"/>
<line x1="382.30" y1="432.50" x2="384.30" y2="432.50" stroke="#333" stroke-width="0.8"/>
<line x1="383.20" y1="388.50" x2="384.30" y2="388.50" stroke="#555" stroke-width="0.6"/>
<line x1="383.20" y1="391.50" x2="384.30" y2="391.50" stroke="#555" stroke-width="0.6"/>
<line x1="383.20" y1="403.50" x2="384.30" y2="403.50" stroke="#555" stroke-width="0.6"/>
<line x1="383.20" y1="406.50" x2="384.30" y2="406.50" stroke="#555" stroke-width="0.6"/>
<line x1="383.20" y1="409.50" x2="384.30" y2="409.50" stroke="#555" stroke-width="0.6"/>
<line x1="383.20" y1="418.50" x2="384.30" y2="418.50" stroke="#555" stroke-width="0.6"/>
<line x1="383.20" y1="423.50" x2="384.30" y2="423.50" stroke="#555" stroke-width="0.6"/>
<line x1="383.20" y1="427.50" x2="384.30" y2="427.50" stroke="#555" stroke-width="0.6"/>
<line x1="390.50" y1="436.40" x2="390.50" y2="437.80" stroke="#555" stroke-width="0.6"/>
<line x1="396.50" y1="436.40" x2="396.50" y2="437.80" stroke="#555" stroke-width="0.6"/>
<line x1="402.50" y1="436.40" x2="402.50" y2="437.80" stroke="#555" stroke-width="0.6"/>
<line x1="408.50" y1="436.40" x2="408.50" y2="437.80" stroke="#555" stroke-width="0.6"/>
<line x1="413.50" y1="436.40" x2="413.50" y2="437.80" stroke="#555" stroke-width="0.6"/>
<line x1="419.50" y1="436.40" x2="419.50" y2="437.80" stroke="#555" stroke-width="0.6"/>
<line x1="425.50" y1="436.40" x2="425.50" y2="437.80" stroke="#555" stroke-width="0.6"/>
<line x1="431.50" y1="436.40" x2="431.50" y2="437.80" stroke="#555" stroke-width="0.6"/>
<line x1="437.50" y1="436.40" x2="437.50" y2="437.80" stroke="#555" stroke-width="0.6"/>
<text transform="translate(386.30 384.80)" font-size="8.3" text-anchor="start" fill="#231f20" stroke="#231f20" stroke-width="0.22">1.27</text>
<text transform="translate(441.60 384.80)" font-size="8.3" text-anchor="end" fill="#231f20" stroke="#231f20" stroke-width="0.22">98.7</text>
<text transform="translate(386.50 435.10)" font-size="8.3" text-anchor="start" fill="#231f20" stroke="#231f20" stroke-width="0.22">0</text>
<text transform="translate(441.50 435.10)" font-size="8.3" text-anchor="end" fill="#231f20" stroke="#231f20" stroke-width="0.22">0</text>
<text transform="translate(380.20 406.30) rotate(-90)" font-size="8.0" text-anchor="middle" fill="#231f20" stroke="#231f20" stroke-width="0.22" textLength="19.60" lengthAdjust="spacingAndGlyphs">CD56</text>
<text transform="translate(414.70 447.80) scale(1.08 1)" font-size="7.2" text-anchor="middle" fill="#231f20" stroke="#231f20" stroke-width="0.22">2B4</text>
<clipPath id="c384_476"><rect x="384.3" y="476.6" width="59.20" height="57.90"/></clipPath>
<g clip-path="url(#c384_476)">
<path d="M402.4 497.8h.7v.7h-.7zM416.3 492.4h.7v.7h-.7zM421.1 498.5h.7v.7h-.7zM411.8 488.5h.7v.7h-.7zM417.0 502.3h.7v.7h-.7zM425.7 499.9h.7v.7h-.7zM406.0 493.5h.7v.7h-.7zM413.6 483.7h.7v.7h-.7zM418.8 503.2h.7v.7h-.7zM430.7 509.5h.7v.7h-.7zM423.3 495.7h.7v.7h-.7zM431.0 504.7h.7v.7h-.7zM417.0 490.3h.7v.7h-.7zM413.5 483.0h.7v.7h-.7zM419.4 500.4h.7v.7h-.7zM414.4 492.3h.7v.7h-.7zM432.9 489.4h.7v.7h-.7zM418.8 503.0h.7v.7h-.7zM415.0 498.8h.7v.7h-.7zM423.3 489.7h.7v.7h-.7zM419.8 496.8h.7v.7h-.7zM423.0 506.8h.7v.7h-.7zM424.8 504.3h.7v.7h-.7zM415.4 497.6h.7v.7h-.7zM425.2 486.6h.7v.7h-.7zM414.4 498.6h.7v.7h-.7zM432.2 496.9h.7v.7h-.7zM419.1 490.7h.7v.7h-.7zM412.2 501.3h.7v.7h-.7zM420.6 497.2h.7v.7h-.7zM424.9 503.6h.7v.7h-.7zM412.4 500.2h.7v.7h-.7zM423.8 493.8h.7v.7h-.7zM423.9 501.0h.7v.7h-.7zM424.7 509.5h.7v.7h-.7zM437.5 486.7h.7v.7h-.7zM431.3 500.3h.7v.7h-.7zM427.4 499.0h.7v.7h-.7zM420.0 497.6h.7v.7h-.7zM411.0 487.6h.7v.7h-.7zM428.8 501.8h.7v.7h-.7zM412.8 516.1h.7v.7h-.7zM424.2 490.6h.7v.7h-.7zM428.2 498.3h.7v.7h-.7zM409.5 488.5h.7v.7h-.7zM414.9 501.2h.7v.7h-.7zM417.3 493.6h.7v.7h-.7zM428.9 501.0h.7v.7h-.7zM417.2 518.2h.7v.7h-.7zM425.9 491.3h.7v.7h-.7zM419.9 495.9h.7v.7h-.7zM422.0 494.1h.7v.7h-.7zM421.8 502.7h.7v.7h-.7zM416.7 501.1h.7v.7h-.7zM411.7 495.0h.7v.7h-.7zM421.0 491.6h.7v.7h-.7zM415.5 503.2h.7v.7h-.7zM423.6 508.7h.7v.7h-.7zM432.6 497.8h.7v.7h-.7zM421.9 501.4h.7v.7h-.7zM411.6 499.9h.7v.7h-.7zM421.6 497.5h.7v.7h-.7zM420.8 489.0h.7v.7h-.7zM428.5 491.2h.7v.7h-.7zM415.8 501.1h.7v.7h-.7zM426.6 506.4h.7v.7h-.7zM422.9 501.8h.7v.7h-.7zM420.8 489.1h.7v.7h-.7zM420.0 499.9h.7v.7h-.7zM409.8 497.5h.7v.7h-.7zM418.5 503.0h.7v.7h-.7zM430.3 499.3h.7v.7h-.7zM416.8 509.1h.7v.7h-.7zM422.7 506.5h.7v.7h-.7zM422.4 491.6h.7v.7h-.7zM421.8 485.1h.7v.7h-.7zM411.8 496.4h.7v.7h-.7zM418.2 500.4h.7v.7h-.7zM429.0 494.8h.7v.7h-.7zM414.5 495.6h.7v.7h-.7zM416.0 496.8h.7v.7h-.7zM415.7 497.8h.7v.7h-.7zM416.5 501.4h.7v.7h-.7zM417.0 498.7h.7v.7h-.7zM416.1 505.2h.7v.7h-.7zM425.0 493.8h.7v.7h-.7zM411.2 496.3h.7v.7h-.7zM408.8 501.1h.7v.7h-.7zM415.8 499.2h.7v.7h-.7zM418.0 509.2h.7v.7h-.7zM410.9 504.0h.7v.7h-.7zM422.1 502.7h.7v.7h-.7zM423.1 482.9h.7v.7h-.7zM416.4 496.5h.7v.7h-.7zM417.9 496.6h.7v.7h-.7zM420.7 476.8h.7v.7h-.7zM414.6 494.4h.7v.7h-.7zM417.6 492.1h.7v.7h-.7zM415.0 489.2h.7v.7h-.7zM427.1 482.6h.7v.7h-.7zM418.2 509.2h.7v.7h-.7zM411.4 495.8h.7v.7h-.7zM417.9 491.5h.7v.7h-.7zM418.6 489.5h.7v.7h-.7zM423.1 490.3h.7v.7h-.7zM421.5 493.9h.7v.7h-.7zM416.3 497.2h.7v.7h-.7zM424.9 494.8h.7v.7h-.7zM431.1 504.4h.7v.7h-.7zM418.1 481.7h.7v.7h-.7zM422.4 488.5h.7v.7h-.7zM415.7 492.2h.7v.7h-.7zM419.8 482.9h.7v.7h-.7zM415.1 494.4h.7v.7h-.7zM432.5 486.6h.7v.7h-.7zM412.9 503.2h.7v.7h-.7zM418.1 492.3h.7v.7h-.7zM412.3 495.2h.7v.7h-.7zM414.0 491.3h.7v.7h-.7zM435.8 496.8h.7v.7h-.7zM427.9 502.3h.7v.7h-.7zM416.8 491.6h.7v.7h-.7zM413.0 495.5h.7v.7h-.7zM423.9 496.9h.7v.7h-.7zM420.7 489.0h.7v.7h-.7zM415.5 503.3h.7v.7h-.7zM426.2 485.7h.7v.7h-.7zM407.4 490.7h.7v.7h-.7zM421.3 500.1h.7v.7h-.7zM424.4 505.5h.7v.7h-.7zM412.8 497.2h.7v.7h-.7zM417.2 499.3h.7v.7h-.7zM419.3 487.8h.7v.7h-.7zM413.7 507.1h.7v.7h-.7zM429.9 496.5h.7v.7h-.7zM424.6 507.0h.7v.7h-.7zM424.2 492.6h.7v.7h-.7zM412.2 498.4h.7v.7h-.7zM422.0 504.5h.7v.7h-.7zM426.3 497.2h.7v.7h-.7zM425.1 484.1h.7v.7h-.7zM430.3 501.2h.7v.7h-.7zM413.0 503.1h.7v.7h-.7zM416.2 497.2h.7v.7h-.7zM415.2 492.7h.7v.7h-.7zM415.3 484.7h.7v.7h-.7zM407.4 496.6h.7v.7h-.7zM418.6 506.4h.7v.7h-.7zM420.3 491.2h.7v.7h-.7zM425.6 492.0h.7v.7h-.7zM417.6 499.4h.7v.7h-.7zM432.1 498.8h.7v.7h-.7zM420.3 499.6h.7v.7h-.7zM428.1 495.5h.7v.7h-.7zM426.9 495.9h.7v.7h-.7zM414.8 502.0h.7v.7h-.7zM413.4 508.2h.7v.7h-.7zM427.9 481.4h.7v.7h-.7zM421.3 495.9h.7v.7h-.7zM412.4 491.4h.7v.7h-.7zM416.5 499.8h.7v.7h-.7zM415.1 492.4h.7v.7h-.7zM415.0 494.6h.7v.7h-.7zM411.8 502.6h.7v.7h-.7zM421.9 503.2h.7v.7h-.7zM426.9 488.7h.7v.7h-.7zM415.7 495.7h.7v.7h-.7zM411.8 504.6h.7v.7h-.7zM430.8 488.8h.7v.7h-.7zM418.8 493.7h.7v.7h-.7zM421.9 496.9h.7v.7h-.7zM421.9 497.0h.7v.7h-.7zM417.5 500.9h.7v.7h-.7zM424.6 500.9h.7v.7h-.7zM423.2 507.3h.7v.7h-.7zM416.4 495.0h.7v.7h-.7zM420.3 496.0h.7v.7h-.7zM421.2 498.4h.7v.7h-.7zM408.2 495.1h.7v.7h-.7zM421.5 491.3h.7v.7h-.7zM426.8 486.1h.7v.7h-.7zM420.5 512.0h.7v.7h-.7zM420.6 501.7h.7v.7h-.7zM432.4 484.4h.7v.7h-.7zM415.7 502.6h.7v.7h-.7zM418.5 508.0h.7v.7h-.7zM415.4 489.5h.7v.7h-.7zM426.2 495.4h.7v.7h-.7zM418.2 488.8h.7v.7h-.7zM411.1 497.3h.7v.7h-.7zM417.4 505.0h.7v.7h-.7zM427.0 499.0h.7v.7h-.7zM418.5 493.2h.7v.7h-.7zM424.0 509.1h.7v.7h-.7zM419.9 494.7h.7v.7h-.7zM410.6 499.5h.7v.7h-.7zM415.9 489.2h.7v.7h-.7zM424.9 493.7h.7v.7h-.7zM409.2 494.0h.7v.7h-.7zM428.7 496.9h.7v.7h-.7zM409.9 497.8h.7v.7h-.7zM423.6 489.2h.7v.7h-.7zM424.6 503.1h.7v.7h-.7zM421.3 498.8h.7v.7h-.7zM414.1 496.4h.7v.7h-.7zM415.4 492.1h.7v.7h-.7zM411.2 505.9h.7v.7h-.7zM429.5 490.7h.7v.7h-.7zM431.7 484.4h.7v.7h-.7zM425.8 486.1h.7v.7h-.7zM420.9 499.9h.7v.7h-.7zM420.8 503.9h.7v.7h-.7zM419.7 499.4h.7v.7h-.7zM416.2 501.0h.7v.7h-.7zM421.3 488.9h.7v.7h-.7zM419.1 500.9h.7v.7h-.7zM421.2 489.7h.7v.7h-.7zM407.3 499.3h.7v.7h-.7zM421.5 507.3h.7v.7h-.7zM422.0 497.7h.7v.7h-.7zM424.4 489.6h.7v.7h-.7zM418.2 491.4h.7v.7h-.7zM418.3 507.9h.7v.7h-.7zM422.5 498.0h.7v.7h-.7zM415.6 502.3h.7v.7h-.7zM420.9 480.6h.7v.7h-.7zM427.2 498.6h.7v.7h-.7zM419.6 497.6h.7v.7h-.7zM417.5 511.6h.7v.7h-.7zM425.5 502.0h.7v.7h-.7zM417.2 495.4h.7v.7h-.7zM419.5 492.4h.7v.7h-.7zM426.7 503.2h.7v.7h-.7zM423.1 489.8h.7v.7h-.7zM426.6 492.8h.7v.7h-.7zM421.6 492.2h.7v.7h-.7zM422.1 496.4h.7v.7h-.7zM423.3 493.1h.7v.7h-.7zM417.5 499.2h.7v.7h-.7zM415.4 490.3h.7v.7h-.7z" fill="#555" opacity="0.5"/>
<ellipse cx="420.50" cy="492.80" rx="16.96" ry="14.23" transform="rotate(-65 420.50 492.80)" fill="url(#halo)" opacity="0.55"/>
<ellipse cx="421.50" cy="489.80" rx="11.88" ry="5.68" transform="rotate(-65 421.50 489.80)" fill="none" stroke="#222" stroke-width="0.6" opacity="0.35"/>
<ellipse cx="421.50" cy="489.80" rx="10.35" ry="4.94" transform="rotate(-65 421.50 489.80)" fill="none" stroke="#222" stroke-width="0.6" opacity="0.5"/>
<ellipse cx="421.50" cy="489.80" rx="9.00" ry="4.30" transform="rotate(-65 421.50 489.80)" fill="none" stroke="#222" stroke-width="0.6" opacity="0.7"/>
<ellipse cx="421.50" cy="489.80" rx="8.10" ry="3.53" transform="rotate(-65 421.50 489.80)" fill="#141414" filter="url(#bl)"/>
<ellipse cx="422.00" cy="489.50" rx="3.06" ry="0.50" transform="rotate(-65 422.00 489.50)" fill="#fff" opacity="0.85"/>
</g>
<rect x="384.3" y="476.6" width="59.20" height="57.90" fill="none" stroke="#231f20" stroke-width="1.2"/>
<line x1="408.50" y1="476.60" x2="408.50" y2="534.50" stroke="#231f20" stroke-width="1.2"/>
<line x1="384.30" y1="512.50" x2="443.50" y2="512.50" stroke="#231f20" stroke-width="1.2"/>
<line x1="382.30" y1="482.50" x2="384.30" y2="482.50" stroke="#333" stroke-width="0.8"/>
<line x1="382.30" y1="495.50" x2="384.30" y2="495.50" stroke="#333" stroke-width="0.8"/>
<line x1="382.30" y1="512.50" x2="384.30" y2="512.50" stroke="#333" stroke-width="0.8"/>
<line x1="382.30" y1="530.50" x2="384.30" y2="530.50" stroke="#333" stroke-width="0.8"/>
<line x1="383.20" y1="488.50" x2="384.30" y2="488.50" stroke="#555" stroke-width="0.6"/>
<line x1="383.20" y1="491.50" x2="384.30" y2="491.50" stroke="#555" stroke-width="0.6"/>
<line x1="383.20" y1="502.50" x2="384.30" y2="502.50" stroke="#555" stroke-width="0.6"/>
<line x1="383.20" y1="505.50" x2="384.30" y2="505.50" stroke="#555" stroke-width="0.6"/>
<line x1="383.20" y1="508.50" x2="384.30" y2="508.50" stroke="#555" stroke-width="0.6"/>
<line x1="383.20" y1="517.50" x2="384.30" y2="517.50" stroke="#555" stroke-width="0.6"/>
<line x1="383.20" y1="521.50" x2="384.30" y2="521.50" stroke="#555" stroke-width="0.6"/>
<line x1="383.20" y1="525.50" x2="384.30" y2="525.50" stroke="#555" stroke-width="0.6"/>
<line x1="390.50" y1="534.50" x2="390.50" y2="535.90" stroke="#555" stroke-width="0.6"/>
<line x1="396.50" y1="534.50" x2="396.50" y2="535.90" stroke="#555" stroke-width="0.6"/>
<line x1="402.50" y1="534.50" x2="402.50" y2="535.90" stroke="#555" stroke-width="0.6"/>
<line x1="408.50" y1="534.50" x2="408.50" y2="535.90" stroke="#555" stroke-width="0.6"/>
<line x1="413.50" y1="534.50" x2="413.50" y2="535.90" stroke="#555" stroke-width="0.6"/>
<line x1="419.50" y1="534.50" x2="419.50" y2="535.90" stroke="#555" stroke-width="0.6"/>
<line x1="425.50" y1="534.50" x2="425.50" y2="535.90" stroke="#555" stroke-width="0.6"/>
<line x1="431.50" y1="534.50" x2="431.50" y2="535.90" stroke="#555" stroke-width="0.6"/>
<line x1="437.50" y1="534.50" x2="437.50" y2="535.90" stroke="#555" stroke-width="0.6"/>
<text transform="translate(386.30 485.10)" font-size="8.3" text-anchor="start" fill="#231f20" stroke="#231f20" stroke-width="0.22">0.17</text>
<text transform="translate(441.60 485.10)" font-size="8.3" text-anchor="end" fill="#231f20" stroke="#231f20" stroke-width="0.22">99.8</text>
<text transform="translate(386.50 533.20)" font-size="8.3" text-anchor="start" fill="#231f20" stroke="#231f20" stroke-width="0.22">0</text>
<text transform="translate(441.50 533.20)" font-size="8.3" text-anchor="end" fill="#231f20" stroke="#231f20" stroke-width="0.22">0</text>
<text transform="translate(380.20 506.60) rotate(-90)" font-size="8.0" text-anchor="middle" fill="#231f20" stroke="#231f20" stroke-width="0.22" textLength="19.60" lengthAdjust="spacingAndGlyphs">CD56</text>
<text transform="translate(414.70 547.40) scale(1.08 1)" font-size="7.2" text-anchor="middle" fill="#231f20" stroke="#231f20" stroke-width="0.22">2B4</text>
<clipPath id="c457_376"><rect x="457.5" y="376.3" width="58.70" height="60.10"/></clipPath>
<g clip-path="url(#c457_376)">
<path d="M483.9 398.2h.7v.7h-.7zM482.6 390.4h.7v.7h-.7zM480.6 389.6h.7v.7h-.7zM488.5 387.6h.7v.7h-.7zM466.4 389.0h.7v.7h-.7zM484.8 393.5h.7v.7h-.7zM475.1 385.0h.7v.7h-.7zM478.8 387.4h.7v.7h-.7zM477.1 394.7h.7v.7h-.7zM477.1 397.2h.7v.7h-.7zM475.3 391.7h.7v.7h-.7zM484.0 403.8h.7v.7h-.7zM496.3 395.2h.7v.7h-.7zM476.5 395.0h.7v.7h-.7zM491.0 396.0h.7v.7h-.7zM469.6 397.0h.7v.7h-.7zM478.4 400.2h.7v.7h-.7zM485.5 387.4h.7v.7h-.7zM497.5 385.1h.7v.7h-.7zM500.0 385.0h.7v.7h-.7zM486.2 406.4h.7v.7h-.7zM476.9 391.1h.7v.7h-.7zM493.0 388.6h.7v.7h-.7zM482.4 382.8h.7v.7h-.7zM498.0 394.9h.7v.7h-.7zM486.5 396.9h.7v.7h-.7zM477.1 391.0h.7v.7h-.7zM471.2 399.8h.7v.7h-.7zM493.5 395.5h.7v.7h-.7zM490.8 395.3h.7v.7h-.7zM471.8 386.3h.7v.7h-.7zM487.3 392.3h.7v.7h-.7zM488.8 388.3h.7v.7h-.7zM476.5 398.4h.7v.7h-.7zM473.7 383.0h.7v.7h-.7zM475.2 388.5h.7v.7h-.7zM472.3 392.1h.7v.7h-.7zM495.1 406.7h.7v.7h-.7zM494.0 385.3h.7v.7h-.7zM490.5 389.3h.7v.7h-.7zM483.4 387.1h.7v.7h-.7zM477.2 381.5h.7v.7h-.7zM493.6 382.7h.7v.7h-.7zM485.0 387.2h.7v.7h-.7zM481.1 384.0h.7v.7h-.7zM481.5 400.3h.7v.7h-.7zM481.6 377.8h.7v.7h-.7zM485.1 381.5h.7v.7h-.7zM485.5 395.7h.7v.7h-.7zM476.4 392.5h.7v.7h-.7zM481.2 396.4h.7v.7h-.7zM492.4 399.9h.7v.7h-.7zM489.5 405.9h.7v.7h-.7zM479.4 407.9h.7v.7h-.7zM482.0 399.0h.7v.7h-.7zM481.3 393.8h.7v.7h-.7zM476.1 398.1h.7v.7h-.7zM497.7 388.4h.7v.7h-.7zM481.9 393.0h.7v.7h-.7zM486.9 389.6h.7v.7h-.7zM482.6 394.4h.7v.7h-.7zM494.3 395.9h.7v.7h-.7zM472.5 391.4h.7v.7h-.7zM484.3 398.7h.7v.7h-.7zM488.8 388.8h.7v.7h-.7zM497.6 386.0h.7v.7h-.7zM496.2 398.9h.7v.7h-.7zM494.6 389.9h.7v.7h-.7zM482.5 380.8h.7v.7h-.7zM467.1 393.6h.7v.7h-.7zM490.1 398.3h.7v.7h-.7zM483.9 400.4h.7v.7h-.7zM490.2 401.9h.7v.7h-.7zM468.0 391.5h.7v.7h-.7zM472.2 388.3h.7v.7h-.7zM492.1 382.0h.7v.7h-.7zM474.8 392.4h.7v.7h-.7zM487.5 387.3h.7v.7h-.7zM489.0 394.7h.7v.7h-.7zM471.3 378.3h.7v.7h-.7zM472.0 386.8h.7v.7h-.7zM492.6 383.5h.7v.7h-.7zM474.9 398.5h.7v.7h-.7zM480.1 386.3h.7v.7h-.7zM492.6 396.3h.7v.7h-.7zM482.2 386.9h.7v.7h-.7zM470.3 381.1h.7v.7h-.7zM485.9 394.6h.7v.7h-.7zM475.2 395.6h.7v.7h-.7zM503.9 376.1h.7v.7h-.7zM470.7 401.8h.7v.7h-.7zM477.6 390.7h.7v.7h-.7zM486.4 390.3h.7v.7h-.7zM490.8 393.8h.7v.7h-.7zM491.1 390.5h.7v.7h-.7zM469.2 408.2h.7v.7h-.7zM471.8 404.8h.7v.7h-.7zM480.4 382.6h.7v.7h-.7zM484.8 398.8h.7v.7h-.7zM474.4 396.0h.7v.7h-.7zM473.9 388.0h.7v.7h-.7zM480.6 403.4h.7v.7h-.7zM487.1 390.8h.7v.7h-.7zM481.7 394.0h.7v.7h-.7zM484.7 393.4h.7v.7h-.7zM471.4 404.0h.7v.7h-.7zM469.0 377.2h.7v.7h-.7zM484.3 382.6h.7v.7h-.7zM480.7 392.6h.7v.7h-.7zM478.9 398.2h.7v.7h-.7zM479.3 391.7h.7v.7h-.7zM474.1 393.6h.7v.7h-.7zM474.3 396.0h.7v.7h-.7zM494.6 396.2h.7v.7h-.7zM481.8 382.3h.7v.7h-.7zM492.2 396.5h.7v.7h-.7zM491.9 371.6h.7v.7h-.7zM481.3 390.5h.7v.7h-.7zM487.5 382.4h.7v.7h-.7zM485.0 410.0h.7v.7h-.7zM484.5 376.3h.7v.7h-.7zM485.6 402.3h.7v.7h-.7zM478.9 398.7h.7v.7h-.7zM479.1 382.5h.7v.7h-.7zM480.2 402.5h.7v.7h-.7zM489.5 385.4h.7v.7h-.7zM488.7 384.8h.7v.7h-.7zM483.8 392.0h.7v.7h-.7zM473.4 398.5h.7v.7h-.7zM472.1 374.9h.7v.7h-.7zM473.6 389.3h.7v.7h-.7zM473.2 388.4h.7v.7h-.7zM470.6 377.7h.7v.7h-.7zM488.9 390.9h.7v.7h-.7zM483.3 390.3h.7v.7h-.7zM481.8 390.9h.7v.7h-.7zM469.9 385.3h.7v.7h-.7zM485.2 399.7h.7v.7h-.7zM487.9 403.4h.7v.7h-.7zM471.0 394.8h.7v.7h-.7zM480.5 403.1h.7v.7h-.7zM493.5 384.6h.7v.7h-.7zM486.9 389.1h.7v.7h-.7zM474.2 394.8h.7v.7h-.7zM478.1 406.5h.7v.7h-.7zM489.5 399.5h.7v.7h-.7zM478.6 374.9h.7v.7h-.7zM488.3 391.3h.7v.7h-.7zM464.2 400.1h.7v.7h-.7zM494.0 402.0h.7v.7h-.7zM476.3 401.1h.7v.7h-.7zM484.1 390.7h.7v.7h-.7zM481.2 397.3h.7v.7h-.7zM488.0 395.8h.7v.7h-.7zM475.6 384.8h.7v.7h-.7zM495.3 398.3h.7v.7h-.7zM477.7 394.2h.7v.7h-.7zM483.7 378.4h.7v.7h-.7zM491.9 408.3h.7v.7h-.7zM482.3 387.2h.7v.7h-.7zM497.5 387.3h.7v.7h-.7zM482.5 389.3h.7v.7h-.7zM478.8 379.8h.7v.7h-.7zM468.6 386.1h.7v.7h-.7zM488.6 389.7h.7v.7h-.7zM485.6 375.4h.7v.7h-.7zM481.2 404.6h.7v.7h-.7zM471.3 382.0h.7v.7h-.7zM475.5 392.5h.7v.7h-.7zM485.2 402.0h.7v.7h-.7zM496.0 400.0h.7v.7h-.7zM485.1 387.7h.7v.7h-.7zM474.5 383.9h.7v.7h-.7zM494.8 398.1h.7v.7h-.7zM480.4 386.4h.7v.7h-.7zM488.4 394.4h.7v.7h-.7zM480.2 384.3h.7v.7h-.7zM482.4 388.2h.7v.7h-.7zM489.1 395.0h.7v.7h-.7zM484.2 388.6h.7v.7h-.7zM495.5 394.0h.7v.7h-.7zM493.7 395.2h.7v.7h-.7zM488.0 393.7h.7v.7h-.7zM469.3 383.0h.7v.7h-.7zM476.5 399.7h.7v.7h-.7zM489.4 391.6h.7v.7h-.7zM487.4 405.4h.7v.7h-.7zM474.5 381.4h.7v.7h-.7zM469.5 394.8h.7v.7h-.7zM489.2 396.0h.7v.7h-.7zM482.4 399.1h.7v.7h-.7zM479.8 387.9h.7v.7h-.7zM481.1 399.1h.7v.7h-.7zM486.3 382.3h.7v.7h-.7zM474.9 396.4h.7v.7h-.7zM495.1 378.8h.7v.7h-.7zM473.6 399.2h.7v.7h-.7zM484.3 387.1h.7v.7h-.7zM483.0 396.3h.7v.7h-.7zM468.8 397.4h.7v.7h-.7zM488.9 397.6h.7v.7h-.7zM490.6 389.1h.7v.7h-.7zM474.5 406.2h.7v.7h-.7zM486.2 386.2h.7v.7h-.7zM492.5 397.2h.7v.7h-.7zM474.9 376.7h.7v.7h-.7zM476.5 388.8h.7v.7h-.7zM475.5 394.5h.7v.7h-.7zM474.8 398.5h.7v.7h-.7zM493.2 379.3h.7v.7h-.7zM488.5 386.2h.7v.7h-.7zM485.8 390.4h.7v.7h-.7zM489.9 384.3h.7v.7h-.7zM485.6 385.4h.7v.7h-.7zM483.7 392.1h.7v.7h-.7zM486.2 378.8h.7v.7h-.7zM475.4 406.2h.7v.7h-.7zM489.2 403.6h.7v.7h-.7zM474.8 397.1h.7v.7h-.7zM491.0 403.5h.7v.7h-.7zM480.5 389.8h.7v.7h-.7zM487.1 390.1h.7v.7h-.7zM478.3 400.2h.7v.7h-.7zM465.1 390.9h.7v.7h-.7zM491.0 385.6h.7v.7h-.7zM480.5 396.3h.7v.7h-.7zM491.8 393.4h.7v.7h-.7zM473.3 391.5h.7v.7h-.7zM489.6 389.1h.7v.7h-.7zM479.5 400.6h.7v.7h-.7zM496.1 404.9h.7v.7h-.7zM472.1 390.8h.7v.7h-.7zM477.7 397.2h.7v.7h-.7zM481.3 401.9h.7v.7h-.7zM464.2 406.9h.7v.7h-.7zM476.5 392.6h.7v.7h-.7zM486.8 392.7h.7v.7h-.7zM478.2 406.1h.7v.7h-.7zM485.1 387.8h.7v.7h-.7zM480.8 384.5h.7v.7h-.7z" fill="#555" opacity="0.5"/>
<ellipse cx="482.50" cy="391.30" rx="19.14" ry="16.17" transform="rotate(-20 482.50 391.30)" fill="url(#halo)" opacity="0.55"/>
<ellipse cx="483.00" cy="389.80" rx="15.84" ry="8.98" transform="rotate(-20 483.00 389.80)" fill="none" stroke="#222" stroke-width="0.6" opacity="0.3"/>
<ellipse cx="483.00" cy="389.80" rx="13.80" ry="7.82" transform="rotate(-20 483.00 389.80)" fill="none" stroke="#222" stroke-width="0.6" opacity="0.45"/>
<ellipse cx="483.00" cy="389.80" rx="12.00" ry="6.80" transform="rotate(-20 483.00 389.80)" fill="none" stroke="#222" stroke-width="0.6" opacity="0.55"/>
<ellipse cx="483.00" cy="389.80" rx="11.40" ry="6.12" transform="rotate(-20 483.00 389.80)" fill="#222" opacity="0.72" filter="url(#bl)"/>
<ellipse cx="480.00" cy="390.80" rx="4.20" ry="3.40" transform="rotate(-20 480.00 390.80)" fill="#000" opacity="0.7" filter="url(#bl)"/>
<ellipse cx="484.50" cy="389.50" rx="4.08" ry="0.82" transform="rotate(-20 484.50 389.50)" fill="#fff" opacity="0.85"/>
</g>
<rect x="457.5" y="376.3" width="58.70" height="60.10" fill="none" stroke="#231f20" stroke-width="1.2"/>
<line x1="479.50" y1="376.30" x2="479.50" y2="436.40" stroke="#231f20" stroke-width="1.2"/>
<line x1="457.50" y1="412.50" x2="516.20" y2="412.50" stroke="#231f20" stroke-width="1.2"/>
<line x1="455.50" y1="382.50" x2="457.50" y2="382.50" stroke="#333" stroke-width="0.8"/>
<line x1="455.50" y1="396.50" x2="457.50" y2="396.50" stroke="#333" stroke-width="0.8"/>
<line x1="455.50" y1="412.50" x2="457.50" y2="412.50" stroke="#333" stroke-width="0.8"/>
<line x1="455.50" y1="432.50" x2="457.50" y2="432.50" stroke="#333" stroke-width="0.8"/>
<line x1="456.40" y1="388.50" x2="457.50" y2="388.50" stroke="#555" stroke-width="0.6"/>
<line x1="456.40" y1="391.50" x2="457.50" y2="391.50" stroke="#555" stroke-width="0.6"/>
<line x1="456.40" y1="403.50" x2="457.50" y2="403.50" stroke="#555" stroke-width="0.6"/>
<line x1="456.40" y1="406.50" x2="457.50" y2="406.50" stroke="#555" stroke-width="0.6"/>
<line x1="456.40" y1="409.50" x2="457.50" y2="409.50" stroke="#555" stroke-width="0.6"/>
<line x1="456.40" y1="418.50" x2="457.50" y2="418.50" stroke="#555" stroke-width="0.6"/>
<line x1="456.40" y1="423.50" x2="457.50" y2="423.50" stroke="#555" stroke-width="0.6"/>
<line x1="456.40" y1="427.50" x2="457.50" y2="427.50" stroke="#555" stroke-width="0.6"/>
<line x1="463.50" y1="436.40" x2="463.50" y2="437.80" stroke="#555" stroke-width="0.6"/>
<line x1="469.50" y1="436.40" x2="469.50" y2="437.80" stroke="#555" stroke-width="0.6"/>
<line x1="475.50" y1="436.40" x2="475.50" y2="437.80" stroke="#555" stroke-width="0.6"/>
<line x1="479.50" y1="436.40" x2="479.50" y2="437.80" stroke="#555" stroke-width="0.6"/>
<line x1="486.50" y1="436.40" x2="486.50" y2="437.80" stroke="#555" stroke-width="0.6"/>
<line x1="492.50" y1="436.40" x2="492.50" y2="437.80" stroke="#555" stroke-width="0.6"/>
<line x1="498.50" y1="436.40" x2="498.50" y2="437.80" stroke="#555" stroke-width="0.6"/>
<line x1="504.50" y1="436.40" x2="504.50" y2="437.80" stroke="#555" stroke-width="0.6"/>
<line x1="510.50" y1="436.40" x2="510.50" y2="437.80" stroke="#555" stroke-width="0.6"/>
<text transform="translate(459.50 384.80)" font-size="8.3" text-anchor="start" fill="#231f20" stroke="#231f20" stroke-width="0.22">34.1</text>
<text transform="translate(514.30 384.80)" font-size="8.3" text-anchor="end" fill="#231f20" stroke="#231f20" stroke-width="0.22">65.9</text>
<text transform="translate(459.70 435.10)" font-size="8.3" text-anchor="start" fill="#231f20" stroke="#231f20" stroke-width="0.22">0</text>
<text transform="translate(514.20 435.10)" font-size="8.3" text-anchor="end" fill="#231f20" stroke="#231f20" stroke-width="0.22">0</text>
<text transform="translate(453.40 406.30) rotate(-90)" font-size="8.0" text-anchor="middle" fill="#231f20" stroke="#231f20" stroke-width="0.22" textLength="19.60" lengthAdjust="spacingAndGlyphs">CD56</text>
<text transform="translate(487.65 447.80) scale(1.08 1)" font-size="7.2" text-anchor="middle" fill="#231f20" stroke="#231f20" stroke-width="0.22">NKp30</text>
<clipPath id="c457_476"><rect x="457.5" y="476.6" width="58.70" height="57.90"/></clipPath>
<g clip-path="url(#c457_476)">
<path d="M474.1 492.5h.7v.7h-.7zM488.3 494.6h.7v.7h-.7zM476.5 481.4h.7v.7h-.7zM472.8 511.6h.7v.7h-.7zM487.1 485.7h.7v.7h-.7zM495.9 497.8h.7v.7h-.7zM480.6 488.5h.7v.7h-.7zM495.2 495.8h.7v.7h-.7zM499.5 495.6h.7v.7h-.7zM479.2 488.9h.7v.7h-.7zM479.3 497.3h.7v.7h-.7zM488.0 499.6h.7v.7h-.7zM487.4 483.2h.7v.7h-.7zM482.0 485.1h.7v.7h-.7zM487.3 480.6h.7v.7h-.7zM478.8 486.3h.7v.7h-.7zM479.4 492.2h.7v.7h-.7zM497.6 489.7h.7v.7h-.7zM472.3 492.8h.7v.7h-.7zM492.2 498.5h.7v.7h-.7zM489.8 513.2h.7v.7h-.7zM494.6 493.6h.7v.7h-.7zM493.6 479.5h.7v.7h-.7zM482.4 485.7h.7v.7h-.7zM488.7 509.6h.7v.7h-.7zM483.0 510.2h.7v.7h-.7zM478.2 509.2h.7v.7h-.7zM469.4 487.7h.7v.7h-.7zM493.4 491.9h.7v.7h-.7zM486.2 493.7h.7v.7h-.7zM486.3 492.0h.7v.7h-.7zM476.2 492.3h.7v.7h-.7zM484.7 485.1h.7v.7h-.7zM491.4 510.7h.7v.7h-.7zM470.2 490.7h.7v.7h-.7zM482.6 494.5h.7v.7h-.7zM484.8 486.8h.7v.7h-.7zM484.7 494.1h.7v.7h-.7zM486.4 509.2h.7v.7h-.7zM484.1 479.4h.7v.7h-.7zM472.4 501.7h.7v.7h-.7zM481.2 488.4h.7v.7h-.7zM473.0 492.6h.7v.7h-.7zM483.3 487.4h.7v.7h-.7zM483.2 503.1h.7v.7h-.7zM492.4 498.4h.7v.7h-.7zM481.7 480.9h.7v.7h-.7zM493.7 507.7h.7v.7h-.7zM497.5 503.8h.7v.7h-.7zM487.9 497.3h.7v.7h-.7zM486.6 506.3h.7v.7h-.7zM485.7 515.3h.7v.7h-.7zM491.2 489.9h.7v.7h-.7zM482.8 478.3h.7v.7h-.7zM478.3 491.9h.7v.7h-.7zM504.8 483.1h.7v.7h-.7zM492.9 493.7h.7v.7h-.7zM483.3 500.5h.7v.7h-.7zM469.3 505.6h.7v.7h-.7zM501.9 494.6h.7v.7h-.7zM484.7 495.6h.7v.7h-.7zM490.0 488.4h.7v.7h-.7zM486.7 498.8h.7v.7h-.7zM482.6 498.2h.7v.7h-.7zM488.8 500.6h.7v.7h-.7zM475.9 490.0h.7v.7h-.7zM483.0 506.2h.7v.7h-.7zM484.9 477.5h.7v.7h-.7zM476.8 514.5h.7v.7h-.7zM486.1 480.9h.7v.7h-.7zM477.4 496.5h.7v.7h-.7zM499.4 508.1h.7v.7h-.7zM481.5 491.5h.7v.7h-.7zM500.0 482.1h.7v.7h-.7zM498.8 495.4h.7v.7h-.7zM487.6 506.5h.7v.7h-.7zM488.0 485.3h.7v.7h-.7zM472.0 496.0h.7v.7h-.7zM491.2 506.8h.7v.7h-.7zM464.6 510.2h.7v.7h-.7zM492.4 508.1h.7v.7h-.7zM492.1 495.1h.7v.7h-.7zM489.2 497.4h.7v.7h-.7zM479.5 493.6h.7v.7h-.7zM485.5 489.4h.7v.7h-.7zM470.5 481.6h.7v.7h-.7zM490.0 498.5h.7v.7h-.7zM484.3 482.4h.7v.7h-.7zM491.7 489.2h.7v.7h-.7zM469.5 511.8h.7v.7h-.7zM475.4 517.8h.7v.7h-.7zM488.9 489.1h.7v.7h-.7zM464.0 489.9h.7v.7h-.7zM499.5 505.5h.7v.7h-.7zM484.9 476.9h.7v.7h-.7zM481.4 491.7h.7v.7h-.7zM488.8 492.2h.7v.7h-.7zM485.7 477.6h.7v.7h-.7zM481.5 508.9h.7v.7h-.7zM473.9 504.8h.7v.7h-.7zM505.6 497.6h.7v.7h-.7zM474.9 507.9h.7v.7h-.7zM469.7 499.5h.7v.7h-.7zM483.2 506.6h.7v.7h-.7zM495.3 494.5h.7v.7h-.7zM501.6 501.5h.7v.7h-.7zM479.6 485.0h.7v.7h-.7zM505.4 487.1h.7v.7h-.7zM488.3 492.4h.7v.7h-.7zM478.8 478.8h.7v.7h-.7zM483.6 493.1h.7v.7h-.7zM492.7 487.8h.7v.7h-.7zM470.2 485.4h.7v.7h-.7zM485.0 496.5h.7v.7h-.7zM490.7 489.4h.7v.7h-.7zM489.8 494.8h.7v.7h-.7zM499.3 491.4h.7v.7h-.7zM487.0 499.4h.7v.7h-.7zM494.1 483.5h.7v.7h-.7zM480.6 491.9h.7v.7h-.7zM468.6 509.3h.7v.7h-.7zM494.2 492.9h.7v.7h-.7zM515.5 502.4h.7v.7h-.7zM504.4 507.0h.7v.7h-.7zM490.8 479.0h.7v.7h-.7zM498.6 496.3h.7v.7h-.7zM474.9 496.0h.7v.7h-.7zM492.8 502.7h.7v.7h-.7zM485.8 488.7h.7v.7h-.7zM490.5 485.6h.7v.7h-.7zM485.4 501.6h.7v.7h-.7zM473.2 499.4h.7v.7h-.7zM467.0 487.3h.7v.7h-.7zM474.4 494.6h.7v.7h-.7zM491.0 492.6h.7v.7h-.7zM492.9 493.9h.7v.7h-.7zM483.9 499.1h.7v.7h-.7zM483.2 495.6h.7v.7h-.7zM493.1 487.2h.7v.7h-.7zM493.3 481.8h.7v.7h-.7zM480.7 477.2h.7v.7h-.7zM482.7 510.2h.7v.7h-.7zM489.8 506.0h.7v.7h-.7zM471.1 485.8h.7v.7h-.7zM490.1 501.6h.7v.7h-.7zM489.8 476.6h.7v.7h-.7zM489.3 492.7h.7v.7h-.7zM486.7 498.5h.7v.7h-.7zM480.3 477.7h.7v.7h-.7zM473.9 481.1h.7v.7h-.7zM473.6 494.3h.7v.7h-.7zM495.2 485.4h.7v.7h-.7zM476.9 483.6h.7v.7h-.7zM470.3 496.7h.7v.7h-.7zM480.5 492.2h.7v.7h-.7zM477.5 499.9h.7v.7h-.7zM475.5 500.8h.7v.7h-.7zM480.4 502.5h.7v.7h-.7zM478.0 499.4h.7v.7h-.7zM488.7 492.7h.7v.7h-.7zM499.2 493.8h.7v.7h-.7zM478.4 501.9h.7v.7h-.7zM477.2 489.7h.7v.7h-.7zM485.4 495.8h.7v.7h-.7zM497.2 474.8h.7v.7h-.7zM484.4 505.4h.7v.7h-.7zM484.1 497.3h.7v.7h-.7zM496.3 480.1h.7v.7h-.7zM486.5 501.7h.7v.7h-.7zM477.6 477.5h.7v.7h-.7zM476.7 497.1h.7v.7h-.7zM489.2 511.9h.7v.7h-.7zM494.2 477.2h.7v.7h-.7zM495.1 501.8h.7v.7h-.7zM498.6 490.6h.7v.7h-.7zM480.4 496.1h.7v.7h-.7zM499.1 498.3h.7v.7h-.7zM500.6 499.7h.7v.7h-.7zM478.6 484.8h.7v.7h-.7zM498.7 476.9h.7v.7h-.7zM481.6 491.3h.7v.7h-.7zM476.4 489.5h.7v.7h-.7zM488.3 517.4h.7v.7h-.7zM483.7 488.9h.7v.7h-.7zM487.4 503.1h.7v.7h-.7zM477.5 491.0h.7v.7h-.7zM471.0 503.0h.7v.7h-.7zM492.9 508.0h.7v.7h-.7zM477.8 516.9h.7v.7h-.7zM492.1 490.2h.7v.7h-.7zM481.2 491.4h.7v.7h-.7zM475.7 503.1h.7v.7h-.7zM478.8 487.6h.7v.7h-.7zM489.6 494.5h.7v.7h-.7zM479.7 492.4h.7v.7h-.7zM482.7 507.9h.7v.7h-.7zM492.6 485.6h.7v.7h-.7zM486.6 507.6h.7v.7h-.7zM485.0 511.9h.7v.7h-.7zM489.7 500.1h.7v.7h-.7zM468.4 504.9h.7v.7h-.7zM488.7 499.3h.7v.7h-.7zM489.9 498.6h.7v.7h-.7zM481.9 503.5h.7v.7h-.7zM484.1 483.6h.7v.7h-.7zM476.5 496.8h.7v.7h-.7zM484.8 471.8h.7v.7h-.7zM468.8 506.8h.7v.7h-.7zM488.9 522.1h.7v.7h-.7zM471.5 493.4h.7v.7h-.7zM480.6 500.2h.7v.7h-.7zM499.3 508.2h.7v.7h-.7zM478.1 507.4h.7v.7h-.7zM475.0 498.5h.7v.7h-.7zM487.3 499.9h.7v.7h-.7zM480.0 508.2h.7v.7h-.7zM484.4 493.9h.7v.7h-.7zM481.2 483.8h.7v.7h-.7zM491.6 496.4h.7v.7h-.7zM491.5 511.9h.7v.7h-.7zM477.2 492.2h.7v.7h-.7zM486.3 502.4h.7v.7h-.7zM484.8 503.4h.7v.7h-.7zM486.5 476.1h.7v.7h-.7zM476.3 474.8h.7v.7h-.7zM482.0 490.2h.7v.7h-.7zM490.3 495.0h.7v.7h-.7zM486.2 506.5h.7v.7h-.7zM488.4 481.1h.7v.7h-.7zM479.5 498.1h.7v.7h-.7zM499.3 490.0h.7v.7h-.7zM483.9 496.8h.7v.7h-.7zM491.6 492.2h.7v.7h-.7zM486.9 489.5h.7v.7h-.7zM479.2 486.8h.7v.7h-.7zM489.9 487.7h.7v.7h-.7zM490.3 497.4h.7v.7h-.7zM489.6 466.3h.7v.7h-.7zM475.0 483.1h.7v.7h-.7zM484.7 502.2h.7v.7h-.7z" fill="#555" opacity="0.5"/>
<ellipse cx="486.50" cy="492.50" rx="20.73" ry="20.62" transform="rotate(-8 486.50 492.50)" fill="url(#halo)" opacity="0.55"/>
<ellipse cx="488.00" cy="491.00" rx="16.90" ry="12.35" transform="rotate(-8 488.00 491.00)" fill="none" stroke="#222" stroke-width="0.6" opacity="0.35"/>
<ellipse cx="488.00" cy="491.00" rx="14.69" ry="10.73" transform="rotate(-8 488.00 491.00)" fill="none" stroke="#222" stroke-width="0.6" opacity="0.5"/>
<ellipse cx="488.00" cy="491.00" rx="12.74" ry="9.31" transform="rotate(-8 488.00 491.00)" fill="none" stroke="#222" stroke-width="0.6" opacity="0.6"/>
<ellipse cx="488.00" cy="491.00" rx="10.40" ry="7.12" transform="rotate(-8 488.00 491.00)" fill="#333" opacity="0.55" filter="url(#bl)"/>
<ellipse cx="488.00" cy="491.00" rx="8.06" ry="5.51" transform="rotate(-8 488.00 491.00)" fill="none" stroke="#111" stroke-width="1.3" opacity="0.75" filter="url(#bl)"/>
<ellipse cx="488.50" cy="490.60" rx="4.16" ry="2.09" transform="rotate(-8 488.50 490.60)" fill="#fff" opacity="0.95"/>
</g>
<rect x="457.5" y="476.6" width="58.70" height="57.90" fill="none" stroke="#231f20" stroke-width="1.2"/>
<line x1="479.50" y1="476.60" x2="479.50" y2="534.50" stroke="#231f20" stroke-width="1.2"/>
<line x1="457.50" y1="512.50" x2="516.20" y2="512.50" stroke="#231f20" stroke-width="1.2"/>
<line x1="455.50" y1="482.50" x2="457.50" y2="482.50" stroke="#333" stroke-width="0.8"/>
<line x1="455.50" y1="495.50" x2="457.50" y2="495.50" stroke="#333" stroke-width="0.8"/>
<line x1="455.50" y1="512.50" x2="457.50" y2="512.50" stroke="#333" stroke-width="0.8"/>
<line x1="455.50" y1="530.50" x2="457.50" y2="530.50" stroke="#333" stroke-width="0.8"/>
<line x1="456.40" y1="488.50" x2="457.50" y2="488.50" stroke="#555" stroke-width="0.6"/>
<line x1="456.40" y1="491.50" x2="457.50" y2="491.50" stroke="#555" stroke-width="0.6"/>
<line x1="456.40" y1="502.50" x2="457.50" y2="502.50" stroke="#555" stroke-width="0.6"/>
<line x1="456.40" y1="505.50" x2="457.50" y2="505.50" stroke="#555" stroke-width="0.6"/>
<line x1="456.40" y1="508.50" x2="457.50" y2="508.50" stroke="#555" stroke-width="0.6"/>
<line x1="456.40" y1="517.50" x2="457.50" y2="517.50" stroke="#555" stroke-width="0.6"/>
<line x1="456.40" y1="521.50" x2="457.50" y2="521.50" stroke="#555" stroke-width="0.6"/>
<line x1="456.40" y1="525.50" x2="457.50" y2="525.50" stroke="#555" stroke-width="0.6"/>
<line x1="463.50" y1="534.50" x2="463.50" y2="535.90" stroke="#555" stroke-width="0.6"/>
<line x1="469.50" y1="534.50" x2="469.50" y2="535.90" stroke="#555" stroke-width="0.6"/>
<line x1="475.50" y1="534.50" x2="475.50" y2="535.90" stroke="#555" stroke-width="0.6"/>
<line x1="479.50" y1="534.50" x2="479.50" y2="535.90" stroke="#555" stroke-width="0.6"/>
<line x1="486.50" y1="534.50" x2="486.50" y2="535.90" stroke="#555" stroke-width="0.6"/>
<line x1="492.50" y1="534.50" x2="492.50" y2="535.90" stroke="#555" stroke-width="0.6"/>
<line x1="498.50" y1="534.50" x2="498.50" y2="535.90" stroke="#555" stroke-width="0.6"/>
<line x1="504.50" y1="534.50" x2="504.50" y2="535.90" stroke="#555" stroke-width="0.6"/>
<line x1="510.50" y1="534.50" x2="510.50" y2="535.90" stroke="#555" stroke-width="0.6"/>
<text transform="translate(459.50 485.10)" font-size="8.3" text-anchor="start" fill="#231f20" stroke="#231f20" stroke-width="0.22">19.3</text>
<text transform="translate(514.30 485.10)" font-size="8.3" text-anchor="end" fill="#231f20" stroke="#231f20" stroke-width="0.22">80.7</text>
<text transform="translate(459.70 533.20)" font-size="8.3" text-anchor="start" fill="#231f20" stroke="#231f20" stroke-width="0.22">0</text>
<text transform="translate(514.20 533.20)" font-size="8.3" text-anchor="end" fill="#231f20" stroke="#231f20" stroke-width="0.22">0</text>
<text transform="translate(453.40 506.60) rotate(-90)" font-size="8.0" text-anchor="middle" fill="#231f20" stroke="#231f20" stroke-width="0.22" textLength="19.60" lengthAdjust="spacingAndGlyphs">CD56</text>
<text transform="translate(487.65 547.40) scale(1.08 1)" font-size="7.2" text-anchor="middle" fill="#231f20" stroke="#231f20" stroke-width="0.22">NKp30</text>
</svg></body></html>
